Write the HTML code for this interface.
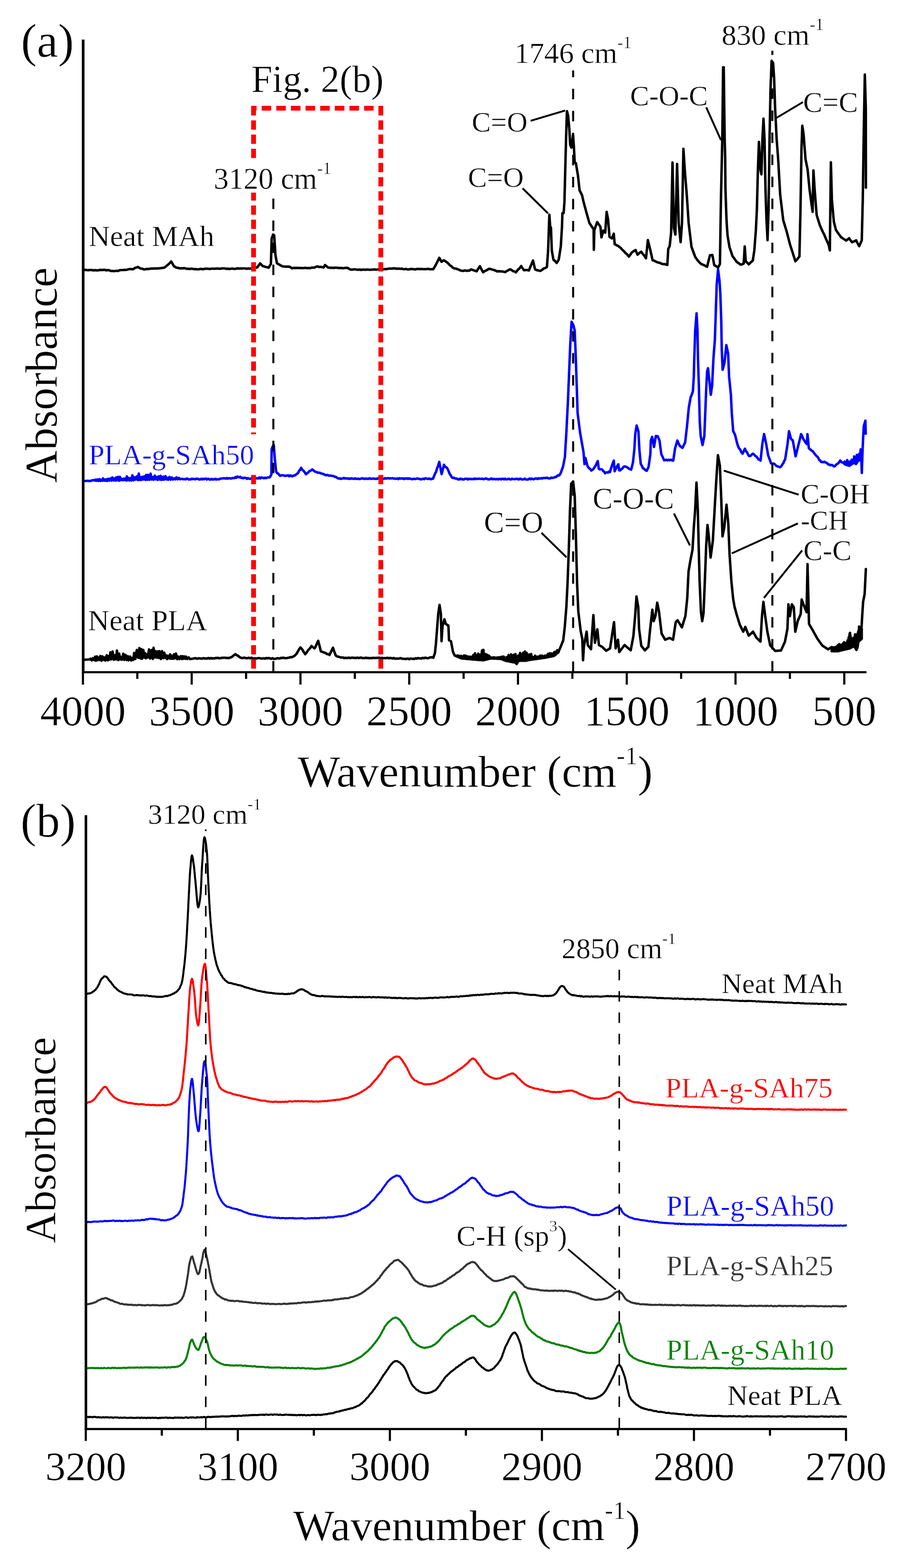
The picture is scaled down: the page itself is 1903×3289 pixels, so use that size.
<!DOCTYPE html>
<html><head><meta charset="utf-8"><title>FTIR spectra</title>
<style>html,body{margin:0;padding:0;background:#fff;} svg{display:block;} text{font-family:"Liberation Serif", "Times New Roman", serif; stroke:#fff; stroke-width:0.6px; stroke-linejoin:round;}</style>
</head><body>
<svg width="1903" height="3289" viewBox="0 0 1903 3289">
<rect x="0" y="0" width="1903" height="3289" fill="#fff"/>
<polyline points="176.0,565.9 179.0,566.1 182.0,566.5 185.0,566.9 188.0,566.3 191.0,566.3 194.0,566.6 197.0,567.2 200.0,566.6 203.3,567.1 206.7,566.9 210.0,566.1 213.3,566.4 216.7,566.1 220.0,565.9 223.1,567.1 226.2,566.5 229.3,566.9 232.4,568.5 235.5,568.4 238.6,568.6 241.7,568.4 244.7,568.0 247.8,568.3 250.8,566.9 253.9,566.5 256.9,566.5 260.0,566.1 263.3,566.2 266.7,565.7 270.0,564.8 273.3,564.3 276.7,564.7 280.0,564.6 283.1,561.9 286.2,561.3 289.3,559.9 295.0,563.2 298.4,563.6 301.7,565.2 304.8,564.9 308.0,564.0 311.1,564.4 314.3,563.7 317.4,563.2 320.6,563.4 323.7,563.2 326.9,563.1 330.0,563.2 333.1,562.9 336.2,562.6 339.4,562.2 342.5,561.8 345.6,561.0 348.8,558.1 352.0,555.6 355.6,552.3 359.3,548.5 364.8,558.2 370.3,561.5 373.4,561.8 376.5,562.9 379.6,562.7 382.7,563.0 385.8,562.4 388.9,563.0 392.0,563.8 395.2,563.7 398.3,564.3 401.4,563.5 404.5,564.0 407.6,564.6 410.7,564.4 413.8,565.0 416.9,564.9 419.9,564.2 423.0,564.0 426.0,564.9 429.1,563.8 432.1,563.7 435.2,563.7 438.2,564.0 441.3,564.1 444.3,563.5 447.4,563.5 450.4,563.8 453.5,563.2 456.5,563.3 459.6,563.6 462.6,563.7 465.7,562.9 468.7,563.0 471.8,563.1 474.8,563.8 477.9,563.7 480.9,564.1 484.0,563.8 487.0,563.2 490.1,563.8 493.1,564.1 496.2,563.3 499.2,562.9 502.3,563.4 505.3,563.2 508.4,563.1 511.4,563.0 514.5,563.0 517.5,563.9 520.6,563.0 523.6,563.6 526.7,563.1 530.0,562.5 533.4,562.6 536.7,561.4 540.0,560.6 545.9,552.4 551.3,558.2 554.4,558.9 557.5,560.2 560.6,560.5 563.7,561.5 568.4,553.6 570.0,500.3 573.1,492.0 575.3,493.6 577.9,534.6 581.0,552.3 584.2,554.1 587.3,555.8 590.5,557.8 593.6,558.8 596.8,559.0 599.9,559.4 603.1,559.2 606.2,559.3 609.4,560.4 612.6,562.8 615.8,561.9 618.9,562.2 622.1,561.9 625.2,562.1 628.4,562.0 631.5,562.1 634.7,562.4 637.8,562.2 641.0,561.8 644.1,562.4 647.3,562.3 650.4,562.4 653.6,561.4 656.8,561.4 659.9,561.1 663.1,559.6 666.2,558.8 669.4,560.0 672.5,559.8 675.6,560.3 678.8,561.2 682.0,555.9 685.1,558.4 688.3,561.2 691.5,561.4 694.6,561.9 697.8,561.5 700.9,562.1 704.1,561.3 707.2,561.6 710.4,562.1 713.5,562.0 716.7,562.1 719.8,562.7 723.0,562.0 726.1,561.9 729.3,561.8 732.5,564.0 735.6,565.4 738.8,565.6 741.9,565.0 745.1,565.0 748.2,565.5 751.4,565.9 754.5,565.4 757.7,566.1 760.8,565.7 764.0,565.5 767.2,565.9 770.3,565.3 773.5,565.7 776.6,566.0 779.8,565.6 782.9,565.4 786.1,565.1 789.2,565.7 792.4,565.2 795.5,565.2 798.7,565.1 801.9,565.3 805.0,564.8 808.1,564.3 811.3,564.5 814.4,563.6 817.6,563.4 820.8,563.5 823.9,563.1 827.1,562.8 830.2,563.2 833.4,563.9 836.5,563.3 839.7,564.0 842.9,563.4 846.0,564.7 849.2,564.5 852.3,564.2 855.5,565.2 858.7,565.0 861.8,564.1 865.0,564.3 868.1,564.6 871.3,565.2 874.4,564.2 877.6,564.1 880.7,564.4 883.9,564.1 887.0,564.5 890.2,564.6 893.3,564.5 896.5,564.2 899.6,564.0 902.8,565.0 905.9,564.5 909.1,564.6 913.8,556.7 917.8,548.7 921.7,540.8 926.4,549.2 931.2,546.0 934.4,547.9 937.5,550.0 940.6,552.7 943.8,556.4 947.0,558.2 950.1,561.6 953.2,563.0 956.4,563.4 959.5,564.5 962.7,565.6 965.9,567.3 969.0,568.0 972.2,568.2 975.3,567.2 978.5,568.1 981.6,567.7 984.8,567.7 988.0,565.0 991.0,565.9 994.0,567.1 997.0,568.0 1000.0,569.2 1003.5,563.5 1006.9,558.5 1010.3,565.1 1013.7,571.1 1016.7,568.8 1019.7,567.5 1022.7,565.9 1025.7,563.9 1029.1,564.1 1032.6,565.4 1036.0,566.3 1039.5,567.5 1042.9,569.3 1046.3,568.9 1049.7,569.2 1053.2,569.4 1056.6,570.0 1060.0,570.6 1063.4,568.5 1066.9,566.6 1070.3,564.9 1073.3,566.4 1076.3,568.7 1079.3,569.3 1082.3,571.5 1086.0,566.5 1089.8,563.0 1093.5,558.1 1096.5,563.0 1099.5,566.8 1102.9,566.4 1106.3,566.4 1109.7,567.3 1114.0,556.7 1118.3,546.4 1122.6,565.0 1126.3,566.6 1130.0,567.5 1133.7,568.2 1137.2,566.2 1140.6,563.3 1144.0,562.2 1147.5,560.1 1150.0,525.8 1152.6,450.3 1154.3,474.4 1156.0,477.8 1157.8,525.8 1161.2,544.9 1164.6,547.6 1168.0,551.7 1172.3,544.6 1176.6,517.2 1179.2,474.3 1180.0,447.0 1182.6,446.9 1184.3,422.9 1186.0,354.3 1187.8,285.7 1189.5,233.0 1192.0,242.9 1194.6,272.0 1196.3,303.4 1198.9,309.7 1202.3,282.3 1204.0,306.3 1205.8,340.7 1208.3,342.3 1212.6,368.0 1216.0,399.0 1221.2,409.5 1224.6,424.3 1229.8,443.6 1233.2,455.8 1236.6,467.6 1240.0,472.7 1243.5,478.2 1245.5,480.0 1246.0,524.0 1247.0,482.6 1252.9,465.9 1256.4,470.7 1259.9,476.2 1261.9,498.1 1265.9,483.7 1269.8,488.1 1272.8,444.4 1275.8,460.3 1278.8,496.7 1283.8,500.0 1287.7,490.1 1289.7,512.0 1293.7,514.4 1297.7,516.4 1301.7,519.5 1305.6,523.9 1309.6,527.5 1312.9,531.2 1316.3,534.1 1319.6,538.3 1325.5,529.7 1329.5,526.8 1333.5,524.4 1337.5,534.3 1341.5,530.7 1345.4,527.9 1348.7,532.7 1352.1,536.8 1355.4,541.8 1359.3,503.6 1364.3,523.9 1369.3,546.2 1372.6,546.7 1375.9,548.7 1379.2,550.1 1382.2,550.9 1385.2,551.6 1388.2,553.2 1391.2,554.0 1395.7,554.2 1400.1,555.7 1402.1,522.4 1405.1,516.0 1408.1,488.1 1411.0,340.9 1414.0,478.4 1417.0,492.1 1420.6,343.9 1424.0,468.2 1428.0,508.0 1430.9,468.2 1433.9,312.1 1436.9,358.8 1440.9,408.6 1444.9,468.2 1450.8,517.6 1454.8,528.5 1458.8,539.3 1462.8,544.8 1466.7,549.5 1470.7,553.5 1473.9,554.8 1477.2,556.2 1480.4,558.1 1483.6,559.5 1486.6,547.2 1489.6,535.6 1494.6,534.8 1498.6,556.1 1502.5,558.2 1506.5,561.6 1510.5,553.7 1512.5,424.5 1515.5,289.2 1517.2,141.0 1518.5,141.0 1520.4,289.2 1521.5,330.0 1522.1,397.7 1524.3,461.5 1526.4,493.4 1530.6,518.5 1533.8,527.9 1537.0,537.5 1541.2,542.9 1545.5,549.2 1549.8,552.2 1554.0,555.2 1557.2,554.4 1560.4,552.9 1562.5,516.8 1564.7,548.4 1567.8,551.0 1571.0,554.4 1575.2,550.4 1579.5,546.5 1582.7,525.3 1585.9,482.7 1588.0,440.2 1590.2,355.2 1592.3,297.7 1595.5,355.7 1597.6,365.8 1599.7,291.4 1601.9,248.8 1604.0,291.4 1606.1,397.7 1608.2,461.5 1610.4,504.0 1612.5,440.2 1614.6,291.4 1616.7,185.0 1618.9,127.4 1622.1,131.9 1624.2,163.8 1626.3,227.6 1629.5,291.4 1632.7,333.9 1636.9,408.3 1643.3,461.4 1646.5,472.4 1649.7,482.7 1658.2,515.1 1661.7,525.5 1665.3,537.0 1668.8,548.0 1673.0,543.4 1677.3,538.0 1679.5,440.2 1681.6,312.6 1683.3,263.7 1685.9,280.7 1690.1,333.9 1694.4,355.2 1698.6,397.7 1702.9,429.6 1705.0,444.5 1706.7,357.3 1709.2,397.7 1713.5,451.3 1716.7,461.5 1719.9,471.7 1723.1,479.2 1726.2,486.1 1729.4,492.3 1732.6,500.2 1735.8,507.3 1739.0,514.6 1741.1,525.3 1743.3,340.3 1745.4,418.9 1749.6,465.5 1753.9,482.3 1757.4,487.6 1761.0,492.5 1764.5,497.3 1768.1,499.9 1771.6,502.1 1775.2,504.5 1778.3,502.4 1781.5,499.7 1784.7,504.3 1787.9,508.2 1792.2,506.1 1796.4,504.1 1799.6,511.0 1802.8,516.3 1808.1,504.0 1810.2,418.9 1812.4,270.1 1814.5,156.3 1816.6,227.6 1816.8,393.4" fill="none" stroke="#000000" stroke-width="5.2" stroke-linejoin="round" stroke-linecap="round"/>
<polyline points="176.0,1008.5 179.5,1009.0 183.0,1008.5 186.5,1008.8 190.0,1008.8 193.3,1007.5 196.7,1007.2 200.0,1008.0 200.0,1006.1 202.1,1008.4 204.0,1005.7 206.2,1008.8 208.2,1005.0 210.7,1008.8 212.4,1006.5 214.8,1008.3 216.1,1003.4 218.9,1008.2 221.0,1005.7 222.3,1008.3 223.6,1005.4 225.2,1008.7 227.1,1004.1 229.6,1008.1 231.9,1003.5 234.1,1008.1 235.8,1001.4 238.6,1007.6 240.9,1003.6 242.5,1008.1 243.8,1001.5 245.6,1007.4 247.4,1000.4 250.0,1008.4 251.5,1000.2 253.5,1007.1 255.3,1004.3 257.5,1007.2 259.2,1004.0 260.9,1006.9 263.3,1003.4 264.9,1008.0 266.2,999.2 267.7,1007.3 269.6,1002.4 272.0,1007.9 274.2,1002.7 276.1,1007.7 277.7,996.9 280.2,1007.5 282.8,1001.2 284.6,1006.1 286.9,999.3 289.6,1007.0 291.2,993.4 293.0,1006.7 294.3,1000.9 296.4,1006.7 298.6,1000.2 300.5,1005.7 302.5,999.2 305.1,1006.6 306.5,996.3 309.0,1006.4 310.5,996.0 313.2,1006.4 316.0,993.5 318.1,1005.8 319.5,1000.5 322.2,1006.2 324.6,997.6 327.1,1005.5 328.7,1000.7 331.1,1006.5 332.7,999.3 335.2,1005.7 336.9,998.0 338.4,1006.5 340.0,1000.4 341.3,1006.2 343.1,1000.0 344.5,1006.0 347.2,998.8 349.4,1005.6 351.5,1002.6 352.8,1006.3 355.5,1000.4 358.2,1006.2 360.4,1001.4 362.8,1005.9 365.6,1003.4 367.7,1005.5 370.3,1001.2 372.6,1005.4 375.3,1002.6 377.6,1005.3 380.0,1004.3 382.0,1004.6 384.0,1004.8 386.0,1005.3 388.0,1004.9 390.0,1005.4 392.0,1003.6 394.0,1004.6 396.0,1005.8 398.0,1005.2 400.0,1005.9 402.0,1004.1 404.0,1004.9 406.0,1004.4 408.0,1005.1 410.0,1005.2 412.0,1003.9 414.0,1004.4 416.0,1004.5 418.0,1005.9 420.0,1005.6 422.0,1004.3 424.0,1005.7 426.0,1004.2 428.0,1005.3 430.0,1004.2 432.0,1003.9 434.0,1005.8 436.0,1004.4 438.0,1004.4 440.0,1006.1 442.0,1005.8 444.0,1004.5 446.0,1006.0 448.0,1005.1 450.0,1005.4 452.0,1004.3 454.0,1005.8 456.0,1005.1 458.0,1005.6 460.0,1005.4 462.0,1004.0 464.0,1004.0 466.0,1003.5 468.0,1003.3 470.0,1003.0 472.0,1003.5 474.0,1004.0 476.0,1002.6 478.0,1004.0 480.0,1003.1 482.0,1003.0 484.0,1004.0 486.0,1003.2 488.0,1002.7 490.0,1003.0 492.0,1002.9 494.0,1000.8 496.0,1002.2 498.0,999.6 500.0,1000.5 502.0,1001.4 504.0,1000.1 506.0,1002.4 508.0,1002.1 510.0,1003.2 512.0,1002.0 514.0,1002.2 516.0,1002.6 518.0,1004.4 520.0,1002.8 522.0,1004.0 524.0,1004.3 526.0,1004.3 528.0,1002.9 530.0,1002.8 532.0,1003.1 534.0,1003.6 536.0,1002.0 538.0,1003.4 540.0,1003.4 542.0,1003.5 544.1,1001.6 546.1,1003.5 548.1,1001.6 550.1,1002.0 552.1,1002.6 554.1,1003.2 556.1,1001.8 558.1,1003.0 560.1,1002.1 562.1,1001.5 564.1,1001.5 566.1,1001.1 569.4,995.2 570.0,941.7 572.1,936.9 574.3,932.7 576.6,962.3 579.3,989.0 581.5,992.5 583.6,993.4 585.8,995.9 587.9,998.1 590.0,997.2 592.2,997.0 594.3,996.8 596.4,997.7 598.5,998.3 600.6,997.6 602.8,997.6 604.9,997.0 607.0,999.0 609.1,997.1 611.3,998.3 613.4,999.1 615.5,997.7 618.0,997.4 620.4,996.2 622.8,993.8 625.3,992.5 627.5,987.8 629.7,985.2 631.9,981.3 634.4,985.7 636.8,987.4 639.3,990.6 641.8,994.7 644.0,992.9 646.2,991.7 648.4,989.0 650.6,987.6 652.8,986.7 655.0,984.7 657.2,986.1 659.4,988.2 661.6,989.5 663.8,990.0 665.9,991.4 668.1,991.3 670.6,991.8 673.0,992.7 675.5,993.6 678.0,994.3 680.2,995.0 682.4,996.4 684.6,996.9 686.8,996.1 689.0,997.3 691.2,997.6 693.4,997.7 695.6,998.0 697.8,998.5 700.0,998.5 702.2,1000.2 704.3,1000.2 706.5,1001.6 708.7,1003.2 710.9,1003.9 712.9,1003.1 714.9,1004.5 716.9,1003.9 719.0,1003.7 721.0,1002.5 723.0,1003.7 725.0,1003.0 727.0,1004.0 729.0,1003.5 731.1,1004.3 733.1,1003.9 735.1,1004.3 737.1,1003.3 739.1,1003.9 741.1,1004.2 743.2,1004.4 745.2,1003.3 747.2,1004.4 749.2,1004.5 751.2,1004.1 753.2,1004.7 755.3,1004.7 757.3,1003.8 759.3,1003.8 761.3,1003.0 763.3,1004.5 765.3,1004.7 767.4,1003.7 769.4,1004.2 771.4,1004.3 773.4,1004.3 775.4,1003.1 777.4,1004.4 779.5,1004.0 781.5,1004.2 783.5,1003.7 785.5,1004.1 787.5,1004.5 789.5,1004.2 791.6,1004.4 793.6,1002.8 795.6,1003.1 797.6,1003.8 799.6,1004.2 801.6,1003.3 803.7,1004.3 805.7,1004.2 807.7,1002.9 809.7,1003.9 811.7,1003.4 813.7,1003.0 815.7,1003.2 817.8,1003.6 819.8,1003.3 821.8,1003.3 823.8,1003.0 825.8,1003.9 827.8,1003.8 829.9,1004.3 831.9,1004.2 833.9,1003.5 835.9,1005.0 837.9,1003.0 839.9,1003.9 842.0,1003.6 844.0,1003.9 846.0,1003.3 848.0,1004.9 850.0,1003.9 852.0,1003.1 854.1,1004.4 856.1,1003.3 858.1,1004.3 860.1,1003.8 862.1,1004.4 864.1,1005.2 866.2,1004.9 868.2,1004.0 870.2,1004.9 872.2,1004.5 874.2,1004.0 876.2,1003.5 878.3,1004.5 880.3,1004.4 882.3,1005.3 884.3,1005.3 886.3,1004.5 888.3,1004.0 890.4,1005.2 892.4,1003.2 894.4,1003.5 896.4,1004.5 898.4,1004.6 900.4,1003.6 902.5,1004.7 904.5,1005.2 906.5,1004.1 908.5,1004.2 910.7,998.5 912.8,993.4 915.0,989.6 917.2,981.8 919.4,976.5 921.6,968.9 926.6,994.5 929.0,984.8 931.5,975.0 933.7,978.8 935.9,979.9 938.1,981.9 940.6,986.6 943.0,993.0 945.5,996.9 948.0,1001.3 950.2,1002.3 952.4,1002.1 954.6,1003.7 956.8,1003.9 959.0,1004.1 961.2,1005.7 963.2,1005.8 965.3,1004.0 967.3,1005.1 969.4,1004.5 971.4,1005.9 973.5,1005.5 975.5,1004.3 977.5,1004.3 979.6,1004.0 981.6,1005.8 983.7,1004.2 985.7,1004.9 987.7,1004.6 989.8,1004.9 991.8,1004.8 993.9,1005.0 995.9,1003.6 998.0,1005.0 1000.0,1004.0 1002.1,1004.5 1004.1,1004.1 1006.2,1004.0 1008.2,1004.5 1010.3,1004.4 1012.4,1004.2 1014.4,1005.1 1016.5,1004.8 1018.5,1003.6 1020.6,1004.1 1022.7,1004.5 1024.7,1005.6 1026.8,1005.5 1028.8,1004.8 1030.9,1003.6 1033.0,1005.3 1035.0,1004.6 1037.1,1004.9 1039.1,1005.2 1041.2,1005.1 1043.3,1004.8 1045.3,1005.7 1047.4,1004.6 1049.4,1004.6 1051.5,1005.6 1053.6,1004.2 1055.6,1004.4 1057.7,1005.6 1059.7,1003.9 1061.8,1005.6 1063.9,1005.3 1065.9,1004.7 1068.0,1004.4 1070.0,1005.5 1072.1,1005.8 1074.2,1004.1 1076.2,1004.9 1078.3,1005.0 1080.3,1004.9 1082.4,1004.6 1084.5,1004.2 1086.5,1005.1 1088.6,1005.6 1090.6,1004.0 1092.7,1004.4 1094.8,1005.7 1096.8,1005.6 1098.9,1005.3 1100.9,1003.9 1103.0,1005.5 1105.1,1006.0 1107.1,1005.9 1109.2,1005.2 1111.2,1003.7 1113.3,1005.3 1115.3,1003.9 1117.4,1004.7 1119.4,1005.3 1121.5,1004.7 1123.6,1003.4 1125.6,1003.6 1127.7,1004.9 1129.7,1003.1 1131.8,1004.1 1133.8,1003.6 1135.9,1002.9 1137.9,1003.9 1140.0,1002.5 1142.0,1002.5 1144.1,1003.0 1146.2,1002.3 1148.2,1002.1 1150.2,1003.2 1152.3,1003.4 1154.3,1003.6 1156.4,1001.9 1158.5,1002.4 1160.5,1002.1 1162.6,1001.8 1164.6,1000.6 1166.7,1000.7 1168.7,998.5 1170.8,996.9 1172.8,997.4 1174.9,995.2 1177.0,990.8 1179.0,985.0 1181.1,979.5 1185.2,958.9 1188.3,907.5 1191.4,845.8 1194.4,773.7 1196.5,722.3 1199.2,674.8 1202.7,681.3 1205.8,693.5 1207.8,742.9 1209.9,804.6 1211.9,866.3 1217.1,907.5 1224.3,948.6 1226.3,973.6 1228.4,960.5 1230.5,969.3 1232.5,976.9 1234.5,980.5 1236.6,982.6 1238.7,984.3 1240.7,987.1 1242.8,985.4 1244.8,984.2 1246.9,980.9 1249.3,977.3 1251.7,972.3 1254.1,967.2 1256.2,982.7 1258.6,984.7 1261.0,984.1 1263.4,984.9 1265.4,988.0 1267.5,989.3 1269.5,992.7 1271.6,991.4 1273.6,990.7 1275.7,991.3 1277.7,989.2 1279.8,990.3 1282.4,981.0 1285.1,973.4 1287.7,966.3 1289.6,988.5 1292.2,983.4 1294.7,977.9 1297.3,974.0 1299.2,986.7 1301.5,986.6 1303.8,984.0 1306.1,982.4 1308.4,979.0 1310.7,978.2 1313.0,978.9 1315.2,979.9 1317.5,981.4 1319.7,983.3 1322.0,984.0 1324.2,985.3 1328.0,970.2 1330.9,943.3 1332.8,910.7 1335.7,892.6 1339.5,904.9 1341.5,943.3 1344.3,972.8 1346.7,977.2 1349.1,982.4 1351.7,983.5 1354.2,986.3 1356.8,987.5 1360.7,979.8 1364.5,952.9 1365.5,924.3 1368.3,916.4 1372.2,937.5 1376.0,914.7 1379.9,915.0 1383.7,924.1 1387.5,952.7 1390.4,958.7 1393.3,965.3 1395.7,965.2 1398.1,964.3 1400.5,965.7 1402.9,964.4 1405.3,965.4 1407.7,964.3 1410.1,965.8 1412.5,966.3 1416.4,940.4 1418.8,932.1 1421.2,923.9 1423.6,929.8 1426.0,934.7 1428.8,937.2 1431.7,939.6 1434.6,933.9 1437.5,928.0 1441.3,895.3 1445.2,855.0 1449.0,833.5 1451.4,827.9 1453.8,820.4 1455.7,789.7 1456.7,751.3 1458.6,693.6 1461.5,657.2 1463.4,693.6 1464.4,751.3 1466.3,808.9 1468.2,885.7 1470.1,914.5 1474.0,933.7 1477.8,914.5 1479.7,866.5 1481.6,818.5 1483.6,779.3 1485.5,772.4 1488.4,799.3 1491.3,828.1 1494.1,808.9 1496.9,751.3 1499.9,712.8 1501.8,655.2 1503.7,597.6 1506.6,565.0 1509.5,588.0 1511.4,616.8 1513.3,674.4 1514.3,732.0 1516.2,775.7 1520.0,760.9 1523.9,723.9 1527.7,741.7 1529.7,789.7 1533.5,828.1 1535.4,866.5 1538.3,904.2 1542.0,911.5 1544.0,919.2 1546.0,927.6 1548.0,934.4 1550.5,940.3 1553.0,943.1 1555.4,948.3 1557.9,951.7 1560.4,946.7 1562.9,941.2 1565.1,946.3 1567.3,948.4 1569.6,953.6 1571.8,956.7 1573.8,956.4 1575.8,955.3 1577.8,952.8 1579.8,951.6 1582.3,953.5 1584.8,956.2 1587.2,958.0 1589.7,961.0 1591.7,963.9 1593.7,964.2 1595.7,966.2 1599.7,929.4 1603.2,910.5 1607.6,931.4 1611.6,954.8 1613.6,960.5 1615.6,965.4 1617.6,971.7 1620.5,972.6 1623.5,972.4 1625.5,973.7 1627.5,975.9 1629.5,977.7 1631.5,978.2 1633.5,978.9 1636.5,980.1 1639.4,978.0 1641.4,974.2 1643.4,971.8 1645.4,967.0 1647.4,963.2 1652.4,931.4 1655.4,904.5 1659.3,919.5 1661.3,922.5 1663.3,923.4 1669.3,957.2 1675.2,933.4 1678.0,922.1 1680.8,910.6 1682.9,914.5 1685.1,920.3 1687.2,923.4 1690.2,928.4 1693.1,931.4 1694.1,910.5 1697.1,940.3 1699.1,942.2 1701.1,943.3 1703.1,945.6 1705.1,946.3 1707.6,949.7 1710.0,953.0 1712.5,955.8 1715.0,958.2 1717.0,960.7 1719.0,965.2 1721.0,966.0 1723.0,969.2 1725.3,969.1 1727.7,969.5 1730.0,968.6 1732.1,970.1 1734.1,970.6 1736.2,972.5 1738.2,974.3 1740.3,974.5 1742.4,975.9 1744.4,975.3 1746.5,975.7 1748.5,977.7 1750.6,978.4 1752.9,976.5 1755.3,973.9 1757.7,972.4 1760.0,970.5 1762.9,965.9 1766.0,969.6 1768.6,970.6 1771.2,971.5 1772.0,968.1 1773.6,973.5 1774.6,971.0 1775.8,974.7 1777.6,965.1 1779.1,975.0 1780.7,968.9 1782.0,976.6 1783.9,969.0 1785.6,974.5 1787.2,964.2 1788.5,971.0 1789.4,966.1 1791.3,970.0 1792.2,957.4 1794.1,971.7 1795.4,963.2 1796.6,971.7 1797.6,954.4 1798.5,968.2 1800.3,954.1 1801.6,964.5 1803.0,951.9 1803.8,963.3 1805.8,942.5 1807.0,955.0 1808.2,992.1 1809.6,948.9 1811.0,918.0 1812.3,894.0 1815.7,882.3 1816.4,909.8" fill="none" stroke="#0000ff" stroke-width="5.2" stroke-linejoin="round" stroke-linecap="round"/>
<polygon points="1772.0,970.0 1774.0,969.8 1776.0,969.6 1778.0,969.4 1780.0,969.2 1782.0,969.0 1784.0,968.0 1786.0,967.0 1788.0,966.0 1790.0,965.0 1792.0,964.0 1794.0,963.6 1796.0,963.3 1798.0,960.8 1800.0,957.8 1802.0,956.4 1804.0,954.9 1806.0,953.5 1806.0,953.5 1806.0,965.0 1806.0,965.0 1804.0,965.6 1802.0,966.1 1800.0,966.7 1798.0,970.5 1796.0,973.3 1794.0,971.9 1792.0,970.5 1790.0,971.8 1788.0,973.1 1786.0,974.4 1784.0,975.7 1782.0,977.0 1780.0,976.4 1778.0,975.8 1776.0,975.2 1774.0,974.6 1772.0,974.0" fill="#0000ff" stroke="#0000ff" stroke-width="5.2" stroke-linejoin="round"/>
<polyline points="176.0,1384.0 190.0,1383.0 190.0,1381.7 192.5,1385.2 194.7,1380.5 197.4,1384.7 199.6,1377.5 201.4,1386.0 203.3,1376.9 204.8,1384.7 206.5,1379.5 207.9,1384.4 210.5,1375.9 212.9,1385.9 214.8,1376.7 216.4,1384.2 218.3,1378.8 221.1,1385.7 224.0,1374.4 226.3,1385.1 228.5,1376.1 229.9,1383.6 231.6,1368.4 233.3,1383.0 236.2,1366.6 238.9,1384.0 241.5,1374.3 243.6,1383.2 245.3,1364.6 248.2,1384.7 250.1,1371.1 252.1,1383.0 254.1,1378.3 255.6,1383.9 258.7,1371.1 260.9,1384.3 263.5,1373.7 265.9,1384.4 268.3,1376.4 269.9,1385.2 272.9,1377.2 275.3,1385.4 276.8,1380.1 279.5,1384.2 281.5,1369.6 284.0,1382.3 287.0,1363.4 290.1,1379.8 292.4,1359.4 294.6,1381.1 296.4,1361.3 298.0,1381.8 300.7,1363.3 302.9,1379.5 304.3,1369.9 306.1,1380.8 307.7,1372.7 309.7,1379.2 312.7,1362.2 314.9,1381.3 317.9,1363.4 320.5,1382.1 322.2,1358.5 324.9,1379.1 327.3,1366.0 329.6,1379.5 331.5,1366.3 333.3,1380.1 334.6,1365.8 337.6,1382.3 340.0,1365.8 342.8,1380.7 344.6,1369.0 347.6,1380.1 349.1,1374.8 350.6,1382.5 352.7,1375.5 355.6,1381.3 357.1,1372.5 359.0,1381.6 360.7,1375.6 362.4,1381.9 364.9,1372.4 366.3,1381.3 369.2,1370.9 371.9,1382.7 374.0,1377.2 376.7,1382.5 379.3,1376.5 381.8,1382.4 383.2,1376.5 385.1,1381.7 386.9,1376.9 389.2,1381.9 390.7,1377.5 392.9,1382.2 395.9,1378.9 398.5,1382.5 405.0,1381.5 408.0,1380.8 410.9,1380.7 413.9,1381.7 416.9,1380.7 419.4,1381.2 422.0,1381.3 424.5,1381.3 427.0,1380.5 429.6,1381.3 432.1,1381.0 434.6,1381.5 437.2,1380.1 439.7,1381.6 442.2,1380.3 444.8,1381.3 447.3,1380.7 449.9,1381.2 452.4,1380.1 454.9,1380.3 457.5,1379.8 460.0,1380.9 462.5,1380.5 465.1,1379.9 467.6,1379.8 470.1,1379.6 472.7,1379.7 475.2,1380.2 477.7,1380.0 480.3,1380.4 482.8,1379.3 485.5,1378.5 488.2,1376.6 491.0,1374.2 493.7,1372.1 496.4,1374.3 499.2,1375.2 501.9,1377.9 504.7,1379.3 507.2,1380.5 509.8,1380.1 512.3,1379.5 514.8,1380.1 517.4,1380.6 519.9,1380.3 522.4,1379.7 524.9,1381.0 527.5,1379.7 530.0,1380.9 532.6,1381.2 535.2,1380.9 537.8,1381.3 540.4,1380.7 543.0,1380.2 545.6,1380.7 548.2,1381.1 550.8,1381.3 553.4,1380.7 556.0,1381.6 558.6,1380.2 561.2,1381.0 563.8,1380.3 566.4,1380.9 569.0,1382.0 571.6,1380.6 574.2,1382.1 576.8,1382.0 579.4,1381.7 581.9,1380.5 584.5,1381.0 587.0,1381.1 589.5,1380.0 592.1,1380.1 594.6,1379.5 597.1,1380.5 599.6,1380.5 602.2,1380.3 604.7,1379.8 607.2,1379.3 609.8,1378.3 612.3,1378.8 615.6,1377.0 618.9,1374.8 622.2,1371.4 624.9,1366.5 627.7,1361.7 630.4,1358.1 633.7,1361.7 637.0,1367.1 640.3,1372.2 642.9,1369.5 645.6,1365.0 648.2,1361.9 650.9,1359.4 653.5,1355.0 656.8,1357.7 660.0,1359.9 662.5,1355.9 665.1,1349.3 667.6,1344.2 670.4,1354.7 673.2,1366.4 675.8,1367.1 678.4,1368.1 681.0,1369.1 683.5,1369.9 686.1,1372.0 688.7,1372.0 691.3,1374.0 695.0,1366.1 698.6,1358.6 701.5,1367.2 704.5,1375.0 707.8,1377.1 711.1,1377.7 714.4,1379.0 716.9,1379.2 719.5,1379.1 722.0,1380.4 724.6,1379.8 727.1,1380.1 729.7,1380.2 732.2,1379.3 734.8,1380.5 737.3,1379.6 739.9,1379.7 742.4,1379.8 745.0,1380.1 747.5,1380.2 750.1,1379.3 752.6,1380.3 755.2,1379.7 757.7,1379.4 760.3,1380.4 762.8,1380.4 765.4,1380.4 767.9,1379.5 770.5,1380.5 773.0,1380.2 775.6,1380.6 778.1,1380.2 780.7,1380.6 783.2,1379.8 785.8,1380.2 788.3,1380.2 790.9,1379.8 793.4,1379.8 795.9,1379.7 798.5,1380.6 801.0,1379.9 803.5,1380.5 806.1,1380.3 808.6,1380.7 811.1,1380.1 813.6,1379.8 816.2,1380.9 818.7,1380.1 821.2,1380.5 823.8,1381.3 826.3,1380.2 828.8,1381.7 831.4,1381.3 833.9,1381.3 836.4,1381.6 839.0,1380.7 841.5,1380.7 844.0,1381.9 846.5,1381.8 849.1,1382.0 851.6,1382.4 854.1,1381.6 856.7,1381.5 859.2,1382.9 861.7,1381.3 864.2,1381.8 866.7,1381.9 869.2,1382.3 871.7,1380.7 874.2,1381.6 876.7,1380.4 879.2,1380.9 881.7,1381.0 884.2,1381.3 886.7,1379.8 889.2,1380.8 891.7,1379.7 894.2,1380.0 896.7,1380.8 899.2,1380.4 901.7,1379.0 904.2,1378.8 906.7,1378.7 909.2,1379.7 912.6,1369.7 914.7,1349.2 917.4,1314.9 919.5,1287.4 922.2,1268.9 925.0,1287.4 926.4,1345.0 928.4,1314.2 932.5,1298.9 935.3,1308.5 938.0,1310.6 940.8,1312.1 942.1,1343.0 946.2,1345.0 950.4,1367.2 953.0,1373.0 954.0,1374.5 955.2,1375.5 957.6,1375.5 958.8,1376.8 960.3,1374.9 961.6,1377.8 963.1,1375.6 965.3,1379.4 967.6,1375.8 968.7,1380.3 970.5,1377.1 971.8,1380.5 973.6,1374.8 975.7,1380.6 977.5,1375.4 979.3,1381.7 981.7,1377.0 983.7,1381.1 985.6,1377.6 987.8,1381.7 989.1,1378.2 990.8,1383.0 993.1,1373.9 994.8,1382.6 996.7,1370.4 998.2,1382.9 1000.0,1374.7 1001.8,1382.8 1003.4,1371.1 1005.1,1384.1 1007.5,1373.2 1009.1,1383.5 1011.4,1364.4 1013.1,1383.6 1014.3,1363.0 1015.5,1382.9 1017.0,1372.0 1018.5,1383.4 1019.6,1372.1 1021.7,1381.9 1023.0,1373.8 1024.1,1381.9 1026.2,1375.4 1027.9,1380.9 1029.6,1378.8 1031.4,1380.7 1033.4,1379.2 1035.4,1381.0 1036.9,1378.8 1039.1,1381.1 1041.4,1379.9 1043.1,1381.2 1044.6,1379.0 1046.5,1381.4 1047.9,1379.3 1050.2,1381.6 1051.4,1378.0 1052.8,1381.6 1054.1,1377.6 1055.2,1383.0 1056.5,1377.1 1058.5,1383.3 1060.7,1380.1 1062.2,1384.4 1063.3,1378.3 1065.0,1385.9 1067.0,1373.9 1068.7,1386.9 1070.0,1378.0 1071.1,1386.3 1072.3,1372.5 1074.2,1388.4 1075.9,1374.9 1077.0,1387.8 1078.1,1373.4 1079.1,1387.7 1081.5,1372.0 1082.8,1389.5 1084.0,1377.9 1086.2,1386.8 1087.2,1375.2 1089.1,1385.6 1091.2,1369.7 1093.0,1385.1 1095.2,1372.6 1096.5,1385.3 1097.7,1369.2 1099.4,1384.1 1101.5,1366.6 1102.8,1384.6 1105.0,1369.3 1106.6,1383.4 1107.9,1376.1 1108.9,1383.7 1110.3,1372.9 1112.6,1383.6 1114.4,1371.8 1116.2,1382.5 1118.3,1379.0 1120.6,1381.9 1122.7,1375.3 1123.9,1382.3 1125.1,1377.3 1127.4,1381.2 1129.0,1377.1 1131.0,1381.1 1133.4,1375.2 1135.4,1379.9 1137.5,1375.2 1139.0,1379.9 1140.3,1377.2 1142.6,1379.4 1143.6,1375.2 1144.8,1378.9 1146.3,1375.3 1147.9,1378.4 1149.4,1371.9 1150.9,1377.6 1153.1,1370.2 1154.6,1377.3 1156.9,1370.8 1158.2,1376.4 1159.6,1371.0 1160.8,1375.9 1163.2,1367.6 1164.3,1373.8 1166.5,1366.9 1167.6,1371.3 1169.1,1363.9 1170.9,1368.5 1175.0,1360.0 1181.7,1343.3 1185.0,1315.0 1188.3,1273.3 1190.8,1223.3 1193.3,1156.7 1195.8,1073.3 1198.3,1015.0 1202.5,1010.0 1205.8,1040.0 1208.3,1123.3 1210.8,1223.3 1213.3,1281.7 1218.3,1323.3 1221.7,1340.0 1223.3,1385.0 1225.0,1356.7 1230.8,1325.0 1233.3,1353.3 1240.0,1361.7 1245.0,1290.0 1248.3,1348.3 1253.3,1320.0 1256.7,1353.3 1263.3,1356.7 1271.7,1365.0 1280.0,1360.0 1288.3,1305.0 1291.7,1360.0 1296.5,1341.9 1299.3,1367.8 1310.4,1353.0 1323.3,1364.1 1328.9,1334.4 1332.6,1291.9 1335.4,1251.1 1339.1,1273.3 1340.9,1319.6 1345.6,1354.8 1353.0,1364.1 1360.4,1356.7 1364.1,1319.6 1368.7,1278.9 1371.5,1303.0 1375.2,1291.9 1378.9,1264.1 1382.6,1282.6 1388.1,1328.9 1395.6,1341.9 1404.8,1338.1 1412.2,1341.9 1417.8,1304.8 1421.5,1301.1 1430.7,1315.9 1438.1,1291.9 1441.9,1254.8 1444.6,1199.3 1448.3,1177.0 1453.0,1153.0 1455.7,1106.7 1458.5,1069.6 1461.3,1012.2 1464.1,1069.6 1465.9,1143.7 1467.8,1217.8 1470.6,1282.6 1473.3,1303.0 1476.1,1286.3 1478.9,1217.8 1481.7,1143.7 1484.4,1101.1 1487.2,1125.2 1490.9,1169.6 1495.6,1134.4 1499.3,1069.6 1503.0,1004.8 1506.3,954.8 1510.4,977.0 1513.1,1041.9 1515.9,1125.2 1519.6,1106.7 1524.3,1058.5 1528.0,1097.4 1530.7,1162.2 1534.4,1217.8 1538.1,1255.0 1541.0,1272.0 1545.6,1289.0 1552.3,1310.8 1559.5,1325.0 1563.7,1315.0 1570.9,1333.4 1580.0,1325.0 1587.0,1337.5 1595.6,1345.8 1598.6,1294.3 1601.7,1262.4 1605.8,1294.3 1610.0,1325.0 1616.1,1354.0 1626.4,1365.3 1638.8,1364.3 1647.0,1345.8 1652.1,1319.0 1654.2,1267.6 1657.3,1292.3 1661.4,1267.6 1665.5,1273.7 1668.6,1325.2 1673.7,1302.6 1680.0,1288.0 1682.0,1257.3 1688.1,1273.7 1692.3,1284.0 1694.3,1183.2 1697.4,1308.7 1704.6,1321.0 1714.9,1339.6 1725.2,1354.0 1737.5,1362.0 1745.0,1357.3 1746.9,1364.7 1747.8,1357.9 1749.2,1365.2 1750.1,1359.9 1751.5,1365.6 1752.8,1361.2 1753.8,1364.7 1755.1,1356.3 1756.7,1365.3 1757.6,1353.6 1759.1,1364.3 1760.7,1351.0 1761.9,1363.3 1763.2,1352.8 1764.8,1363.6 1765.7,1352.6 1767.3,1362.3 1768.7,1349.9 1769.7,1362.7 1770.9,1347.2 1772.0,1362.3 1772.9,1354.9 1774.1,1360.5 1775.8,1349.3 1777.1,1360.5 1778.3,1343.2 1779.7,1360.0 1780.7,1336.9 1782.3,1355.3 1783.4,1327.3 1785.3,1356.2 1787.2,1344.9 1789.1,1356.4 1790.4,1345.8 1792.2,1352.6 1794.1,1330.7 1796.0,1358.9 1798.0,1330.7 1799.2,1352.2 1800.4,1331.0 1801.4,1343.5 1802.4,1314.1 1804.3,1342.1 1805.3,1318.7 1806.3,1339.0 1809.1,1290.0 1811.0,1262.0 1814.1,1246.2 1816.7,1193.5" fill="none" stroke="#000000" stroke-width="5.2" stroke-linejoin="round" stroke-linecap="round"/>
<polygon points="954.0,1374.8 956.0,1375.3 958.0,1375.8 960.0,1376.3 962.0,1376.8 964.0,1377.3 966.0,1377.8 968.0,1378.3 970.0,1378.3 972.0,1378.4 974.0,1378.4 976.0,1378.4 978.0,1378.5 980.0,1378.5 982.0,1378.5 984.0,1378.4 986.0,1378.2 988.0,1378.1 990.0,1377.9 992.0,1377.7 994.0,1377.6 996.0,1377.4 998.0,1377.4 1000.0,1377.3 1002.0,1377.2 1004.0,1377.1 1006.0,1377.1 1008.0,1376.7 1010.0,1375.9 1012.0,1375.2 1014.0,1374.4 1016.0,1375.3 1018.0,1376.2 1020.0,1377.1 1022.0,1377.8 1024.0,1378.3 1026.0,1378.8 1028.0,1379.3 1030.0,1379.9 1032.0,1379.9 1034.0,1380.0 1036.0,1380.0 1038.0,1380.0 1040.0,1379.8 1042.0,1379.6 1044.0,1379.5 1046.0,1379.3 1048.0,1379.1 1050.0,1378.9 1052.0,1378.9 1054.0,1379.1 1056.0,1379.3 1058.0,1379.4 1060.0,1379.6 1062.0,1379.8 1064.0,1380.0 1066.0,1380.2 1068.0,1380.3 1070.0,1380.5 1072.0,1380.7 1074.0,1380.9 1076.0,1381.1 1078.0,1381.3 1080.0,1381.2 1082.0,1381.2 1084.0,1382.7 1086.0,1380.6 1088.0,1378.5 1090.0,1378.4 1092.0,1378.2 1094.0,1378.1 1096.0,1378.0 1098.0,1377.8 1100.0,1377.7 1102.0,1377.0 1104.0,1377.1 1106.0,1377.3 1108.0,1377.4 1110.0,1377.6 1112.0,1377.7 1114.0,1377.9 1116.0,1378.2 1118.0,1378.4 1120.0,1378.7 1122.0,1378.9 1124.0,1379.2 1126.0,1379.4 1128.0,1379.3 1130.0,1379.0 1132.0,1378.6 1134.0,1378.2 1136.0,1377.9 1138.0,1377.5 1140.0,1377.1 1142.0,1376.8 1144.0,1376.4 1146.0,1376.0 1148.0,1375.6 1150.0,1375.1 1152.0,1374.5 1154.0,1374.0 1156.0,1373.5 1158.0,1373.0 1160.0,1372.5 1162.0,1371.9 1164.0,1371.0 1166.0,1369.5 1168.0,1368.1 1170.0,1366.7 1172.0,1365.3 1172.0,1365.3 1172.0,1368.0 1172.0,1368.0 1170.0,1369.7 1168.0,1371.3 1166.0,1373.0 1164.0,1374.7 1162.0,1375.7 1160.0,1376.2 1158.0,1376.6 1156.0,1377.0 1154.0,1377.5 1152.0,1377.9 1150.0,1378.3 1148.0,1378.8 1146.0,1379.2 1144.0,1379.5 1142.0,1379.8 1140.0,1380.0 1138.0,1380.3 1136.0,1380.7 1134.0,1381.0 1132.0,1381.2 1130.0,1381.5 1128.0,1381.8 1126.0,1382.1 1124.0,1382.4 1122.0,1382.7 1120.0,1382.9 1118.0,1383.2 1116.0,1383.5 1114.0,1383.7 1112.0,1384.0 1110.0,1384.4 1108.0,1384.8 1106.0,1385.2 1104.0,1385.6 1102.0,1386.0 1100.0,1386.0 1098.0,1386.0 1096.0,1386.0 1094.0,1386.0 1092.0,1386.0 1090.0,1386.0 1088.0,1386.0 1086.0,1389.5 1084.0,1393.0 1082.0,1390.0 1080.0,1389.6 1078.0,1389.2 1076.0,1388.9 1074.0,1388.5 1072.0,1388.1 1070.0,1387.7 1068.0,1387.3 1066.0,1387.0 1064.0,1386.6 1062.0,1386.2 1060.0,1385.6 1058.0,1384.8 1056.0,1384.0 1054.0,1383.2 1052.0,1382.4 1050.0,1382.0 1048.0,1381.9 1046.0,1381.8 1044.0,1381.7 1042.0,1381.6 1040.0,1381.5 1038.0,1381.4 1036.0,1381.3 1034.0,1381.2 1032.0,1381.1 1030.0,1381.0 1028.0,1381.5 1026.0,1382.0 1024.0,1382.5 1022.0,1383.0 1020.0,1383.5 1018.0,1384.0 1016.0,1384.5 1014.0,1385.0 1012.0,1384.8 1010.0,1384.7 1008.0,1384.5 1006.0,1384.3 1004.0,1384.2 1002.0,1384.0 1000.0,1383.8 998.0,1383.7 996.0,1383.5 994.0,1383.3 992.0,1383.1 990.0,1383.0 988.0,1382.8 986.0,1382.6 984.0,1382.4 982.0,1382.2 980.0,1382.1 978.0,1381.9 976.0,1381.7 974.0,1381.5 972.0,1381.4 970.0,1381.2 968.0,1381.0 966.0,1380.1 964.0,1379.3 962.0,1378.4 960.0,1377.6 958.0,1376.7 956.0,1375.9 954.0,1375.0" fill="#000000" stroke="#000000" stroke-width="5.2" stroke-linejoin="round"/>
<polygon points="1745.0,1359.7 1747.0,1359.2 1749.0,1358.6 1751.0,1358.1 1753.0,1357.5 1755.0,1357.0 1757.0,1356.5 1759.0,1355.8 1761.0,1355.0 1763.0,1354.2 1765.0,1353.5 1767.0,1352.7 1769.0,1351.8 1771.0,1350.8 1773.0,1349.8 1775.0,1348.7 1777.0,1347.7 1779.0,1346.7 1781.0,1340.3 1783.0,1328.5 1785.0,1337.5 1787.0,1341.1 1789.0,1339.4 1791.0,1337.7 1793.0,1337.0 1795.0,1337.2 1797.0,1337.5 1799.0,1333.0 1801.0,1323.6 1803.0,1322.3 1805.0,1321.0 1807.0,1319.7 1808.0,1319.0 1808.0,1340.0 1807.0,1340.9 1805.0,1342.6 1803.0,1344.3 1801.0,1346.0 1799.0,1358.7 1797.0,1363.3 1795.0,1360.0 1793.0,1356.7 1791.0,1355.6 1789.0,1356.7 1787.0,1357.8 1785.0,1358.9 1783.0,1360.0 1781.0,1360.5 1779.0,1360.9 1777.0,1361.4 1775.0,1361.9 1773.0,1362.3 1771.0,1362.8 1769.0,1363.3 1767.0,1363.8 1765.0,1364.2 1763.0,1364.8 1761.0,1365.2 1759.0,1365.8 1757.0,1366.0 1755.0,1366.0 1753.0,1366.0 1751.0,1366.0 1749.0,1366.0 1747.0,1366.0 1745.0,1366.0" fill="#000000" stroke="#000000" stroke-width="5.2" stroke-linejoin="round"/>
<polyline points="181.4,2085.2 183.5,2084.4 185.6,2083.7 187.7,2084.1 189.8,2083.1 191.8,2082.4 193.7,2081.3 195.4,2079.9 197.1,2078.9 198.8,2077.3 200.4,2075.9 201.9,2074.0 203.3,2072.4 204.7,2070.1 205.8,2068.1 206.7,2066.2 207.6,2065.0 208.5,2062.3 209.3,2060.8 210.1,2058.8 211.0,2056.3 211.9,2055.5 212.9,2053.1 214.7,2052.0 216.7,2050.0 218.6,2047.8 220.6,2048.0 222.1,2048.5 223.5,2048.9 225.0,2051.1 226.4,2052.3 227.9,2055.2 229.4,2056.7 230.7,2058.6 232.0,2059.2 233.4,2061.3 234.7,2063.4 236.1,2065.2 237.4,2066.5 238.9,2069.1 240.4,2070.6 241.9,2071.5 243.5,2072.9 245.1,2075.0 246.8,2076.1 248.5,2077.8 250.2,2078.9 252.1,2080.0 254.1,2080.6 255.8,2081.6 257.6,2082.7 259.5,2083.6 261.4,2083.8 263.4,2084.7 265.5,2084.9 267.5,2085.8 269.6,2085.9 271.8,2085.8 273.9,2085.9 276.0,2086.2 278.0,2086.4 280.0,2087.6 282.1,2087.8 284.2,2087.7 286.3,2087.0 288.4,2087.8 290.5,2087.2 292.7,2088.1 294.8,2087.9 297.0,2088.0 299.2,2087.9 301.3,2087.8 303.5,2088.4 305.5,2088.7 307.5,2088.0 309.5,2088.5 311.6,2089.1 313.6,2089.3 315.7,2089.2 317.7,2089.5 319.8,2090.4 321.8,2089.8 323.9,2090.0 325.9,2090.7 327.9,2090.4 329.8,2091.2 331.7,2090.6 333.6,2091.3 335.7,2090.6 337.9,2091.2 340.0,2090.9 342.0,2090.7 344.1,2090.0 346.1,2089.7 348.1,2089.2 350.0,2089.1 351.9,2089.3 353.8,2088.0 355.6,2087.7 357.6,2087.3 359.6,2086.0 361.6,2085.3 363.6,2084.2 365.4,2083.6 367.2,2081.8 368.9,2081.6 370.5,2079.9 372.0,2078.7 373.4,2077.0 374.6,2075.5 375.7,2074.5 376.8,2072.8 377.7,2071.0 378.6,2068.2 379.5,2066.9 380.3,2065.2 380.9,2063.2 381.4,2061.4 381.8,2059.7 382.3,2057.3 382.6,2056.0 383.0,2054.0 383.3,2051.1 383.6,2049.5 383.9,2047.4 384.2,2044.9 384.5,2043.1 384.7,2041.2 385.0,2038.9 385.2,2036.0 385.5,2033.6 385.8,2032.2 386.1,2030.0 386.3,2028.3 386.5,2026.4 386.8,2023.8 387.0,2022.2 387.2,2019.9 387.4,2018.5 387.6,2016.4 387.8,2013.9 388.0,2012.2 388.2,2010.2 388.4,2007.7 388.6,2005.6 388.8,2003.9 389.0,2001.2 389.2,1999.6 389.3,1997.9 389.5,1995.6 389.7,1992.4 389.9,1991.0 390.0,1989.1 390.2,1987.3 390.3,1984.6 390.5,1983.6 390.6,1981.0 390.7,1979.8 390.8,1977.3 391.0,1975.3 391.1,1973.1 391.2,1971.9 391.4,1969.1 391.5,1967.8 391.6,1965.3 391.7,1962.8 391.9,1961.3 392.0,1959.1 392.1,1956.3 392.2,1955.2 392.3,1952.4 392.5,1950.0 392.6,1948.8 392.7,1946.6 392.8,1944.1 392.9,1941.8 393.0,1940.1 393.1,1938.1 393.3,1936.1 393.4,1933.9 393.5,1931.9 393.6,1930.1 393.7,1927.5 393.8,1925.5 393.9,1923.9 394.0,1922.3 394.1,1920.2 394.2,1918.2 394.3,1915.5 394.4,1913.8 394.6,1910.9 394.7,1909.2 394.8,1906.7 394.9,1905.6 395.0,1903.7 395.1,1901.3 395.1,1899.3 395.2,1896.8 395.3,1895.3 395.4,1892.4 395.5,1890.8 395.6,1888.7 395.7,1887.3 395.8,1884.5 395.9,1882.5 396.0,1880.4 396.1,1879.4 396.2,1876.8 396.3,1875.5 396.4,1872.8 396.5,1871.5 396.6,1868.8 396.7,1867.7 396.8,1865.7 396.9,1863.4 397.0,1861.1 397.1,1859.2 397.3,1857.0 397.4,1855.0 397.5,1852.0 397.6,1850.6 397.7,1848.4 397.8,1845.7 397.9,1843.4 398.0,1842.2 398.1,1839.6 398.3,1837.6 398.4,1836.0 398.5,1833.6 398.6,1831.3 398.8,1829.9 398.9,1827.8 399.0,1825.6 399.2,1824.3 399.3,1822.7 399.5,1820.2 399.7,1818.5 399.9,1815.9 400.2,1812.9 400.4,1809.9 400.6,1807.8 400.9,1804.8 401.2,1802.3 401.4,1800.8 401.7,1798.2 401.9,1796.3 402.2,1796.0 402.5,1795.4 402.8,1794.3 403.2,1794.8 403.5,1796.0 403.9,1797.8 404.3,1799.0 404.7,1802.1 405.2,1804.2 405.5,1807.7 405.9,1809.7 406.3,1812.8 406.5,1813.9 406.8,1815.9 407.0,1817.0 407.2,1819.0 407.4,1821.1 407.6,1823.1 407.8,1824.9 408.0,1827.3 408.2,1829.0 408.4,1831.7 408.6,1834.3 408.8,1836.4 409.0,1838.3 409.2,1840.9 409.4,1842.8 409.6,1844.9 409.8,1846.9 410.1,1848.7 410.3,1851.8 410.5,1854.0 410.7,1855.9 410.9,1858.0 411.1,1860.5 411.3,1863.1 411.5,1865.7 411.8,1868.1 412.0,1869.9 412.2,1873.8 412.4,1876.1 412.6,1878.6 412.8,1881.3 413.1,1883.7 413.3,1886.0 413.5,1889.1 413.7,1891.4 414.0,1893.0 414.2,1896.0 414.4,1897.7 414.7,1899.3 414.9,1900.2 415.2,1901.2 415.4,1902.1 415.6,1902.5 415.9,1903.3 416.3,1902.9 416.8,1901.9 417.3,1899.8 417.8,1897.6 418.2,1895.3 418.7,1892.1 419.2,1889.1 419.6,1887.1 420.0,1883.3 420.2,1881.9 420.4,1880.7 420.5,1878.6 420.7,1877.5 420.8,1875.3 421.0,1874.3 421.1,1871.6 421.3,1870.6 421.4,1868.0 421.5,1866.6 421.6,1864.6 421.7,1862.7 421.8,1859.7 422.0,1858.5 422.1,1855.4 422.2,1853.4 422.3,1850.8 422.4,1849.1 422.5,1846.4 422.6,1844.7 422.6,1842.9 422.7,1840.5 422.8,1838.0 422.9,1835.1 423.0,1834.0 423.1,1831.0 423.2,1829.5 423.3,1826.3 423.5,1824.3 423.6,1823.0 423.7,1820.6 423.8,1817.9 423.9,1816.2 424.1,1814.3 424.2,1812.0 424.4,1809.8 424.5,1807.3 424.7,1805.4 424.8,1802.8 425.0,1800.2 425.1,1797.8 425.3,1795.0 425.5,1792.4 425.6,1790.1 425.8,1786.7 426.0,1784.0 426.1,1781.8 426.3,1779.0 426.5,1776.8 426.6,1774.8 426.8,1772.5 427.0,1770.1 427.2,1768.1 427.3,1765.3 427.5,1763.6 427.7,1761.7 427.9,1760.4 428.1,1759.0 428.3,1757.9 428.5,1757.1 428.7,1757.2 428.9,1756.3 429.1,1756.6 429.4,1756.4 429.7,1757.4 430.1,1758.5 430.4,1759.9 430.8,1762.2 431.2,1764.0 431.5,1766.3 431.9,1768.5 432.3,1771.1 432.6,1774.2 432.9,1776.9 433.2,1779.3 433.5,1783.0 433.8,1784.3 434.0,1786.6 434.1,1788.1 434.3,1790.1 434.4,1792.5 434.6,1794.5 434.7,1795.8 434.8,1798.1 434.9,1800.3 435.0,1801.6 435.1,1803.8 435.2,1805.9 435.3,1808.4 435.4,1809.9 435.5,1812.7 435.5,1814.0 435.6,1816.7 435.7,1818.8 435.8,1820.2 435.8,1822.7 435.9,1825.5 436.0,1827.1 436.1,1828.8 436.1,1831.4 436.2,1833.6 436.3,1835.6 436.4,1837.6 436.5,1840.2 436.6,1841.9 436.7,1843.7 436.8,1845.7 436.9,1848.2 437.0,1849.6 437.1,1851.9 437.2,1854.2 437.3,1855.5 437.4,1857.6 437.5,1859.5 437.6,1862.3 437.7,1864.5 437.8,1866.3 437.9,1868.3 438.0,1869.6 438.1,1872.1 438.2,1874.2 438.3,1876.1 438.4,1878.0 438.5,1880.2 438.6,1882.1 438.7,1883.9 438.8,1886.6 438.9,1887.9 439.1,1890.5 439.2,1892.4 439.3,1895.0 439.4,1896.9 439.6,1898.6 439.7,1900.1 439.8,1903.0 439.9,1905.0 440.1,1907.0 440.2,1909.4 440.3,1910.9 440.5,1912.8 440.6,1915.0 440.7,1916.5 440.9,1919.2 441.0,1920.6 441.2,1923.3 441.3,1925.2 441.5,1927.4 441.6,1928.8 441.8,1931.5 441.9,1933.8 442.1,1935.9 442.3,1937.6 442.5,1938.9 442.6,1941.7 442.8,1943.0 443.0,1946.0 443.2,1946.9 443.4,1948.9 443.6,1951.4 443.8,1953.1 444.0,1956.2 444.2,1958.3 444.4,1959.6 444.6,1962.4 444.8,1963.9 445.0,1966.6 445.2,1967.9 445.5,1971.0 445.7,1972.5 445.9,1974.3 446.1,1976.7 446.4,1978.3 446.6,1980.4 446.9,1983.0 447.1,1985.2 447.4,1987.7 447.7,1989.2 447.9,1990.9 448.2,1992.8 448.5,1994.5 448.8,1997.5 449.2,1999.1 449.5,2000.4 449.8,2002.8 450.2,2004.5 450.7,2006.7 451.1,2008.6 451.6,2011.2 452.0,2013.4 452.5,2015.3 452.9,2016.6 453.4,2018.9 453.9,2021.1 454.4,2023.4 455.0,2024.8 455.6,2026.7 456.2,2028.0 456.8,2029.8 457.5,2031.9 458.2,2034.1 459.0,2035.3 459.8,2037.6 460.8,2039.4 461.9,2041.0 463.0,2043.2 464.1,2045.5 465.3,2046.4 466.5,2049.0 467.8,2050.9 469.1,2052.9 470.5,2053.7 471.9,2055.6 473.3,2057.2 474.8,2057.8 476.3,2059.5 478.2,2060.6 480.2,2061.8 482.2,2061.8 484.3,2061.9 486.5,2062.9 488.7,2063.4 490.9,2064.1 493.2,2064.4 495.5,2064.8 497.3,2065.7 499.2,2066.2 501.0,2066.5 503.0,2066.7 504.9,2067.0 506.9,2068.3 508.9,2068.2 510.9,2069.2 512.9,2070.6 514.9,2070.3 516.9,2071.4 518.9,2072.1 520.9,2072.1 522.9,2073.0 524.9,2073.9 526.8,2074.2 528.8,2074.3 530.7,2075.6 532.7,2075.8 534.6,2075.8 536.6,2077.0 538.5,2077.5 540.5,2078.1 542.4,2078.5 544.4,2078.9 546.4,2078.8 548.4,2079.7 550.4,2080.1 552.5,2080.6 554.5,2080.2 556.6,2081.5 558.7,2081.4 560.8,2082.1 562.9,2082.0 565.0,2082.6 567.1,2082.7 569.2,2082.6 571.4,2083.1 573.5,2083.7 575.7,2083.3 577.8,2084.2 580.0,2084.2 582.0,2084.4 584.1,2084.2 586.2,2084.6 588.4,2084.7 590.6,2084.6 592.7,2084.2 594.9,2085.0 597.1,2085.2 599.2,2085.1 601.4,2084.9 603.5,2085.1 605.5,2084.4 607.6,2085.0 609.5,2084.1 611.4,2083.9 613.2,2083.5 615.4,2083.9 617.5,2083.0 619.5,2081.6 621.4,2080.8 623.2,2078.7 625.1,2078.1 626.9,2076.9 628.8,2075.6 630.7,2075.7 632.7,2074.9 634.4,2075.3 636.1,2075.6 637.8,2076.4 639.5,2078.1 641.3,2078.6 643.0,2079.8 644.8,2080.5 646.5,2081.7 648.4,2082.8 650.3,2084.6 652.2,2085.5 654.3,2086.6 656.4,2087.1 658.1,2087.1 659.9,2087.7 661.7,2088.0 663.5,2089.0 665.4,2089.0 667.3,2089.4 669.2,2089.4 671.1,2089.9 673.1,2089.8 675.1,2089.0 677.2,2089.2 679.3,2089.3 681.4,2090.4 683.6,2089.6 685.7,2090.0 688.0,2090.2 690.2,2089.8 692.5,2090.0 694.8,2090.8 697.2,2090.0 699.6,2090.9 701.3,2090.5 703.0,2090.9 704.7,2090.6 706.5,2091.0 708.3,2091.1 710.1,2090.8 712.0,2090.7 713.9,2090.9 715.8,2091.3 717.7,2090.5 719.6,2090.8 721.6,2091.0 723.6,2091.4 725.6,2091.2 727.6,2090.9 729.6,2091.7 731.6,2091.4 733.7,2091.8 735.8,2091.2 737.9,2091.9 739.9,2091.4 742.0,2091.2 744.1,2091.0 746.3,2091.8 748.4,2091.0 750.5,2091.8 752.6,2091.8 754.7,2091.0 756.9,2091.7 759.0,2091.7 761.1,2091.0 763.3,2091.8 765.4,2092.1 767.5,2091.3 769.6,2091.6 771.7,2091.5 773.8,2091.3 775.9,2091.2 777.9,2091.9 780.0,2092.3 782.0,2091.3 784.1,2091.2 786.1,2091.8 788.1,2091.6 790.1,2092.3 792.1,2091.7 794.1,2091.4 796.1,2091.8 798.2,2092.0 800.2,2092.1 802.2,2092.1 804.2,2092.0 806.2,2092.9 808.2,2091.9 810.2,2092.2 812.2,2093.0 814.2,2092.3 816.2,2092.4 818.3,2092.7 820.3,2093.0 822.3,2093.3 824.3,2093.4 826.3,2092.7 828.3,2093.7 830.3,2092.8 832.3,2093.7 834.3,2093.8 836.3,2093.0 838.3,2093.4 840.4,2093.2 842.4,2093.6 844.4,2094.0 846.4,2094.1 848.4,2094.1 850.4,2093.3 852.4,2093.6 854.4,2094.4 856.4,2094.2 858.4,2094.3 860.4,2093.6 862.5,2093.6 864.5,2094.0 866.5,2094.1 868.5,2093.6 870.5,2094.5 872.5,2094.1 874.5,2094.5 876.5,2094.4 878.6,2093.8 880.7,2093.6 882.7,2094.3 884.8,2093.8 886.9,2093.9 889.0,2094.0 891.1,2094.2 893.2,2093.6 895.3,2093.5 897.4,2093.9 899.6,2092.9 901.7,2093.3 903.8,2092.9 905.9,2093.3 908.1,2093.5 910.2,2092.9 912.3,2092.6 914.4,2092.4 916.5,2093.2 918.6,2092.8 920.7,2093.1 922.8,2092.2 924.8,2092.1 926.9,2091.9 928.9,2092.3 931.0,2092.1 933.0,2092.4 935.0,2092.0 936.9,2091.6 938.9,2091.2 940.8,2091.9 942.8,2092.0 944.7,2091.1 946.5,2091.0 948.4,2091.2 950.2,2090.9 952.0,2091.2 953.8,2090.8 955.5,2090.7 957.2,2090.5 958.9,2090.2 961.3,2090.9 963.5,2090.7 965.8,2089.7 967.9,2089.7 970.0,2090.0 972.0,2089.4 974.0,2089.3 975.9,2089.3 977.9,2088.8 979.8,2088.7 981.7,2089.0 983.6,2089.1 985.5,2087.8 987.4,2088.6 989.4,2087.5 991.3,2088.0 993.4,2087.1 995.5,2087.6 997.6,2087.0 999.8,2087.5 1002.1,2086.4 1003.9,2086.9 1005.7,2087.3 1007.6,2086.6 1009.6,2086.4 1011.5,2086.5 1013.5,2086.5 1015.6,2086.2 1017.7,2085.7 1019.8,2085.3 1021.9,2085.8 1024.0,2085.3 1026.2,2085.7 1028.4,2084.8 1030.5,2084.6 1032.7,2084.6 1034.9,2085.0 1037.1,2084.6 1039.3,2083.9 1041.6,2084.2 1043.7,2084.2 1045.9,2083.2 1048.1,2083.8 1050.3,2083.4 1052.4,2083.8 1054.5,2083.5 1056.6,2082.9 1058.7,2082.5 1060.7,2082.8 1062.7,2082.7 1064.7,2082.4 1066.6,2082.9 1068.5,2083.1 1070.4,2082.6 1072.2,2082.2 1073.9,2082.7 1075.6,2082.5 1078.0,2082.2 1080.2,2082.4 1082.4,2082.9 1084.5,2082.7 1086.5,2083.0 1088.5,2084.2 1090.4,2083.9 1092.3,2083.8 1094.2,2083.9 1096.1,2084.4 1098.0,2084.7 1099.9,2085.7 1101.8,2085.1 1103.8,2086.2 1105.9,2085.9 1108.0,2086.4 1110.2,2086.3 1112.1,2086.9 1114.1,2087.0 1116.1,2086.8 1118.2,2086.7 1120.4,2086.9 1122.6,2087.0 1124.8,2087.3 1127.1,2088.0 1129.4,2088.0 1131.7,2088.4 1134.0,2089.1 1136.3,2089.1 1138.6,2089.5 1140.8,2089.4 1143.1,2088.9 1145.3,2088.7 1147.4,2089.5 1149.5,2088.8 1151.6,2089.3 1153.5,2088.5 1155.4,2088.8 1157.2,2088.5 1158.9,2088.0 1160.5,2087.9 1162.0,2087.2 1164.0,2085.5 1165.8,2084.3 1167.4,2082.4 1168.9,2080.4 1170.3,2078.0 1171.6,2075.9 1172.9,2074.2 1174.1,2071.7 1175.3,2070.4 1176.6,2069.2 1177.9,2068.3 1179.3,2068.2 1180.7,2068.6 1181.9,2069.0 1183.1,2069.7 1184.2,2071.1 1185.4,2073.7 1186.6,2075.0 1187.8,2077.0 1189.2,2078.6 1190.7,2081.0 1192.5,2082.4 1194.4,2084.2 1196.6,2085.4 1197.8,2086.3 1199.0,2086.6 1200.3,2087.2 1201.7,2087.5 1203.1,2086.9 1204.6,2087.9 1206.1,2087.8 1207.7,2088.2 1209.4,2088.6 1211.1,2088.9 1212.9,2089.2 1214.7,2089.2 1216.5,2089.0 1218.4,2090.2 1220.4,2089.2 1222.4,2090.4 1224.4,2090.6 1226.4,2090.3 1228.5,2089.8 1230.6,2090.4 1232.8,2090.0 1234.9,2090.1 1237.1,2090.7 1239.3,2090.6 1241.6,2089.7 1243.8,2090.8 1246.1,2090.1 1248.4,2090.0 1250.7,2090.1 1253.0,2089.8 1255.3,2090.1 1257.6,2090.5 1260.0,2090.6 1262.3,2090.4 1264.6,2090.1 1266.9,2089.8 1269.2,2089.9 1271.6,2089.4 1273.9,2089.5 1276.1,2089.2 1278.4,2090.1 1280.7,2089.3 1282.9,2089.3 1285.2,2089.6 1287.4,2090.1 1289.5,2089.2 1291.7,2090.1 1293.8,2089.6 1295.9,2089.7 1298.0,2089.9 1300.0,2090.6 1302.0,2090.7 1304.0,2089.9 1306.0,2090.4 1308.1,2090.1 1310.1,2090.2 1312.1,2090.9 1314.1,2090.8 1316.1,2090.7 1318.1,2090.5 1320.1,2090.7 1322.1,2090.9 1324.1,2091.4 1326.1,2090.8 1328.1,2091.3 1330.1,2091.6 1332.1,2090.8 1334.1,2091.1 1336.1,2091.8 1338.1,2091.1 1340.1,2092.2 1342.1,2091.7 1344.1,2092.0 1346.1,2091.5 1348.1,2092.0 1350.1,2092.1 1352.1,2092.5 1354.1,2092.4 1356.1,2091.9 1358.1,2091.9 1360.1,2092.2 1362.1,2092.7 1364.1,2092.2 1366.1,2092.3 1368.1,2092.6 1370.1,2092.6 1372.0,2093.1 1374.0,2092.7 1376.0,2092.8 1378.0,2093.5 1380.0,2093.4 1382.0,2093.6 1384.0,2093.0 1386.0,2093.7 1388.0,2093.4 1390.0,2093.6 1392.0,2093.4 1394.0,2094.2 1396.0,2094.2 1398.0,2093.9 1400.0,2093.8 1402.0,2093.8 1404.0,2094.1 1406.0,2094.0 1408.0,2094.2 1410.0,2094.5 1412.0,2094.8 1414.0,2094.9 1416.0,2094.0 1418.0,2094.9 1420.0,2094.5 1422.0,2094.2 1424.0,2094.7 1426.0,2095.3 1428.0,2094.8 1430.0,2094.7 1432.0,2095.0 1434.0,2095.1 1436.0,2095.6 1438.0,2095.7 1440.0,2095.8 1442.0,2094.8 1444.0,2095.6 1446.0,2095.4 1448.0,2095.5 1450.0,2095.9 1452.0,2095.3 1454.0,2095.0 1456.0,2095.4 1458.0,2096.3 1460.0,2096.3 1462.0,2095.8 1464.0,2095.4 1466.0,2096.2 1468.0,2095.8 1470.0,2096.5 1472.0,2096.1 1474.0,2095.9 1476.0,2095.7 1478.0,2096.0 1480.0,2096.2 1482.0,2096.2 1484.0,2096.8 1486.0,2097.0 1488.0,2096.8 1490.0,2096.6 1492.0,2096.9 1494.0,2096.2 1496.0,2096.9 1498.0,2097.0 1500.0,2097.1 1502.0,2096.8 1504.0,2097.6 1506.0,2097.0 1508.0,2097.2 1510.0,2096.9 1512.0,2097.5 1514.0,2096.9 1516.0,2097.6 1518.0,2097.3 1520.0,2098.3 1522.0,2097.7 1524.0,2097.6 1526.0,2098.2 1528.0,2097.6 1530.0,2098.2 1532.0,2098.1 1534.0,2098.8 1536.0,2098.7 1538.0,2098.9 1540.0,2099.1 1542.0,2098.7 1544.0,2098.9 1546.0,2099.0 1548.0,2099.2 1550.0,2099.4 1552.0,2099.5 1554.0,2099.6 1556.0,2099.7 1558.0,2098.9 1560.0,2099.7 1562.0,2099.7 1564.0,2100.0 1566.0,2099.4 1568.0,2100.0 1570.0,2099.2 1572.0,2099.7 1574.0,2099.6 1576.0,2099.7 1578.0,2099.6 1580.0,2100.2 1582.0,2099.8 1584.0,2099.8 1586.0,2100.6 1588.0,2100.8 1590.0,2100.4 1592.0,2100.1 1594.0,2101.2 1596.0,2100.7 1598.0,2100.8 1600.0,2101.5 1602.0,2100.7 1604.0,2101.3 1606.0,2101.1 1608.0,2101.4 1610.1,2101.3 1612.1,2101.1 1614.1,2102.1 1616.2,2101.7 1618.2,2101.4 1620.2,2101.8 1622.3,2102.0 1624.3,2102.5 1626.4,2101.8 1628.4,2101.7 1630.5,2102.2 1632.5,2102.8 1634.5,2101.9 1636.6,2103.0 1638.6,2102.6 1640.7,2102.7 1642.7,2102.9 1644.8,2103.1 1646.8,2103.1 1648.9,2103.5 1650.9,2103.3 1652.9,2103.0 1655.0,2103.2 1657.0,2103.3 1659.0,2103.1 1661.0,2103.3 1663.0,2103.5 1665.1,2104.2 1667.1,2104.2 1669.1,2104.1 1671.1,2104.2 1673.0,2103.7 1675.0,2103.9 1677.0,2103.8 1679.0,2104.6 1680.9,2104.5 1682.9,2104.6 1684.8,2103.9 1686.7,2104.8 1688.7,2105.0 1690.6,2104.7 1692.5,2105.1 1694.4,2105.2 1696.3,2105.0 1698.1,2104.7 1700.0,2105.1 1702.2,2105.5 1704.3,2104.7 1706.4,2105.6 1708.6,2105.1 1710.7,2105.6 1712.8,2104.9 1714.9,2105.4 1716.9,2106.1 1719.0,2105.7 1721.0,2105.6 1723.1,2105.5 1725.1,2105.6 1727.1,2106.0 1729.2,2106.4 1731.2,2105.5 1733.2,2105.8 1735.2,2105.9 1737.2,2105.8 1739.2,2106.7 1741.2,2106.5 1743.1,2106.2 1745.1,2105.7 1747.1,2106.8 1749.1,2106.6 1751.1,2106.9 1753.0,2106.2 1755.0,2106.3 1757.0,2106.4 1759.0,2106.5 1761.0,2106.6 1763.0,2107.3 1764.9,2107.2 1766.9,2106.3 1769.0,2106.8 1771.0,2106.5 1773.0,2106.9 1775.0,2106.9" fill="none" stroke="#000000" stroke-width="4.3" stroke-linejoin="round" stroke-linecap="round"/>
<polyline points="181.4,2314.3 183.3,2312.7 185.3,2312.3 187.3,2311.5 189.2,2311.4 191.2,2310.5 193.0,2309.9 194.8,2308.0 196.5,2307.2 198.1,2305.3 199.5,2304.0 200.9,2302.6 202.1,2300.3 203.4,2298.6 204.7,2297.3 206.0,2295.4 207.4,2293.3 208.8,2292.0 210.2,2290.3 211.7,2287.3 213.2,2286.2 214.7,2284.2 216.2,2282.1 217.7,2280.5 219.2,2280.6 220.6,2279.6 222.1,2279.8 223.5,2280.9 224.9,2283.5 226.3,2285.3 227.7,2287.7 229.1,2289.9 230.6,2291.8 232.1,2294.2 233.5,2294.9 234.9,2296.6 236.3,2298.4 237.7,2299.6 239.2,2301.4 240.7,2302.4 242.3,2303.8 244.0,2304.3 245.8,2305.6 247.5,2306.6 249.3,2307.1 251.1,2308.1 253.0,2308.6 255.0,2309.4 257.0,2310.5 259.1,2310.7 261.2,2311.2 263.3,2311.5 265.6,2312.0 267.8,2313.3 269.7,2313.4 271.6,2313.7 273.6,2313.5 275.6,2314.4 277.7,2314.1 279.8,2314.6 282.0,2315.6 284.2,2315.4 286.4,2315.5 288.6,2315.9 290.7,2316.3 292.9,2316.4 295.1,2315.9 297.3,2315.8 299.4,2316.4 301.5,2316.5 303.5,2316.6 305.6,2317.6 307.7,2317.7 309.8,2317.1 311.8,2317.7 313.9,2317.5 315.9,2318.2 318.0,2317.8 320.0,2317.6 322.0,2317.7 324.0,2318.2 326.0,2317.8 327.9,2318.3 329.8,2318.7 331.7,2318.1 333.6,2317.9 335.7,2318.8 337.9,2318.2 340.0,2317.8 342.0,2317.7 344.1,2317.8 346.1,2318.4 348.1,2318.5 350.0,2317.9 351.9,2317.2 353.8,2317.2 355.6,2317.5 357.6,2316.3 359.7,2316.0 361.7,2315.0 363.6,2313.1 365.5,2312.9 367.3,2311.6 369.0,2310.2 370.6,2308.5 372.0,2307.5 373.2,2305.3 374.3,2304.1 375.3,2302.4 376.2,2301.2 376.9,2299.3 377.7,2296.5 378.4,2294.8 379.0,2292.2 379.7,2290.9 380.3,2288.5 380.7,2286.2 381.1,2284.8 381.5,2283.0 381.9,2280.6 382.2,2279.4 382.5,2277.2 382.8,2275.5 383.1,2273.1 383.3,2270.4 383.6,2268.7 383.8,2266.2 384.0,2265.1 384.2,2262.9 384.4,2260.6 384.6,2257.8 384.9,2255.3 385.1,2254.0 385.3,2251.9 385.6,2248.6 385.8,2246.9 386.0,2244.5 386.2,2243.4 386.5,2241.5 386.7,2238.8 386.9,2237.3 387.1,2235.4 387.3,2233.1 387.5,2231.9 387.7,2229.3 387.9,2227.1 388.1,2225.5 388.4,2223.7 388.6,2221.0 388.8,2219.1 389.0,2217.9 389.2,2215.4 389.4,2213.1 389.6,2211.1 389.7,2208.5 389.9,2206.5 390.1,2204.6 390.3,2202.8 390.5,2200.2 390.7,2198.1 390.9,2195.8 391.0,2194.3 391.2,2191.7 391.3,2190.6 391.5,2188.6 391.6,2185.7 391.8,2183.9 391.9,2182.5 392.1,2179.9 392.2,2177.8 392.3,2176.8 392.4,2174.3 392.6,2172.1 392.7,2170.5 392.8,2168.5 392.9,2165.7 393.0,2163.5 393.2,2161.8 393.3,2159.7 393.4,2157.7 393.5,2156.0 393.6,2153.8 393.7,2152.1 393.9,2149.0 394.0,2147.3 394.1,2145.2 394.2,2143.8 394.3,2141.0 394.4,2138.9 394.5,2137.2 394.7,2135.1 394.8,2133.0 394.9,2131.0 395.0,2129.8 395.1,2127.3 395.3,2125.8 395.4,2123.6 395.5,2120.8 395.7,2119.8 395.8,2117.3 396.0,2115.3 396.1,2113.0 396.2,2110.6 396.4,2107.6 396.5,2105.7 396.6,2103.1 396.8,2101.1 396.9,2098.5 397.0,2096.6 397.2,2095.2 397.3,2092.2 397.5,2090.6 397.6,2088.1 397.8,2086.0 397.9,2084.7 398.1,2082.7 398.2,2080.3 398.4,2078.6 398.6,2076.1 398.7,2074.6 398.9,2073.7 399.1,2071.7 399.3,2070.1 399.5,2068.9 399.9,2065.1 400.4,2062.8 400.8,2059.9 401.3,2057.8 401.8,2054.9 402.3,2054.5 402.8,2053.0 403.1,2053.4 403.5,2054.6 403.8,2055.9 404.2,2057.0 404.6,2058.8 405.0,2061.9 405.3,2063.5 405.7,2066.5 406.0,2069.2 406.4,2071.7 406.7,2074.7 407.1,2077.3 407.4,2080.4 407.7,2081.9 407.9,2084.4 408.1,2085.7 408.3,2087.9 408.5,2090.2 408.7,2091.9 408.8,2094.0 409.0,2096.7 409.1,2098.1 409.3,2100.8 409.4,2103.7 409.6,2106.0 409.7,2107.1 409.9,2109.5 410.0,2111.8 410.2,2114.8 410.3,2116.9 410.5,2119.0 410.6,2120.5 410.8,2122.3 411.0,2125.1 411.2,2126.8 411.4,2128.5 411.6,2130.7 411.8,2131.9 412.2,2133.9 412.7,2137.7 413.1,2140.0 413.6,2143.2 414.1,2146.1 414.6,2147.3 415.0,2149.0 415.5,2150.0 415.9,2151.0 416.2,2150.4 416.4,2150.3 416.6,2149.5 416.9,2147.7 417.1,2146.7 417.3,2144.5 417.5,2142.8 417.7,2141.2 417.9,2138.8 418.1,2135.4 418.3,2133.2 418.5,2130.4 418.7,2127.4 418.9,2125.5 419.1,2122.6 419.3,2119.5 419.4,2117.4 419.6,2114.6 419.8,2111.9 420.0,2109.1 420.2,2107.3 420.3,2106.4 420.4,2104.5 420.6,2102.1 420.7,2100.4 420.8,2098.1 420.9,2095.5 421.1,2093.4 421.2,2091.5 421.3,2090.1 421.4,2087.8 421.5,2085.7 421.6,2083.6 421.7,2080.6 421.9,2078.5 422.0,2076.2 422.1,2074.8 422.2,2072.8 422.4,2070.1 422.5,2068.3 422.6,2065.7 422.8,2064.6 422.9,2062.5 423.1,2060.7 423.2,2058.6 423.4,2056.8 423.6,2054.0 423.8,2053.0 424.0,2050.8 424.2,2049.9 424.5,2047.3 424.9,2044.8 425.3,2042.2 425.7,2038.8 426.1,2036.8 426.5,2033.5 426.9,2032.0 427.3,2029.7 427.8,2026.9 428.2,2025.8 428.6,2023.9 429.0,2022.6 429.4,2022.5 429.7,2021.6 430.0,2021.6 430.3,2022.4 430.6,2023.6 430.9,2025.7 431.2,2027.5 431.4,2028.7 431.7,2031.3 431.9,2033.4 432.2,2036.7 432.4,2038.8 432.7,2042.0 432.9,2043.8 433.1,2047.6 433.3,2049.4 433.6,2052.9 433.8,2054.6 433.9,2056.1 434.1,2058.2 434.2,2060.3 434.4,2061.6 434.5,2063.8 434.7,2065.5 434.8,2067.3 434.9,2069.4 435.0,2071.0 435.2,2073.5 435.3,2074.7 435.4,2077.8 435.5,2079.4 435.6,2081.6 435.8,2083.7 435.9,2085.7 436.0,2087.5 436.1,2089.2 436.2,2092.1 436.3,2093.8 436.4,2095.9 436.5,2098.7 436.6,2100.7 436.8,2102.3 436.9,2104.5 437.0,2106.7 437.1,2108.8 437.2,2110.8 437.3,2112.7 437.4,2115.2 437.5,2117.9 437.7,2119.6 437.8,2122.0 437.9,2123.6 438.0,2125.3 438.1,2127.6 438.2,2129.0 438.4,2131.4 438.5,2133.7 438.6,2135.9 438.7,2138.1 438.8,2139.9 438.9,2142.0 439.0,2143.8 439.1,2146.3 439.2,2148.9 439.3,2150.8 439.4,2152.2 439.5,2154.2 439.6,2156.8 439.7,2159.0 439.9,2160.7 440.0,2163.4 440.1,2165.3 440.2,2167.3 440.3,2168.8 440.4,2170.8 440.5,2172.6 440.7,2174.8 440.8,2177.1 440.9,2179.5 441.1,2180.4 441.2,2182.8 441.4,2184.9 441.5,2186.2 441.7,2188.7 441.8,2190.2 442.0,2191.7 442.2,2194.5 442.5,2196.0 442.7,2199.1 442.9,2201.3 443.2,2202.7 443.4,2205.3 443.7,2207.1 443.9,2210.1 444.2,2211.7 444.5,2213.1 444.7,2215.4 445.0,2218.1 445.3,2219.6 445.6,2222.0 445.9,2223.8 446.2,2226.1 446.5,2227.6 446.8,2229.9 447.2,2231.8 447.5,2233.3 447.9,2235.6 448.3,2237.5 448.7,2240.1 449.1,2241.9 449.5,2244.4 449.9,2246.3 450.3,2248.0 450.8,2249.8 451.2,2251.8 451.7,2254.2 452.2,2256.3 452.7,2257.9 453.2,2259.9 453.7,2261.3 454.3,2262.9 455.0,2265.3 455.7,2267.5 456.4,2269.7 457.1,2272.1 457.9,2273.6 458.7,2275.7 459.6,2278.1 460.5,2279.8 461.5,2280.7 462.6,2282.5 464.2,2284.2 465.8,2285.4 467.6,2286.2 469.4,2287.4 471.5,2288.9 473.6,2289.5 475.3,2290.4 477.0,2291.2 478.9,2291.8 480.8,2292.0 482.8,2292.1 484.9,2293.2 487.0,2294.2 489.1,2295.0 491.2,2295.7 493.4,2295.6 495.5,2296.6 497.4,2296.9 499.2,2297.5 501.2,2297.5 503.1,2298.0 505.0,2298.8 507.0,2298.8 509.0,2299.7 511.0,2300.6 513.0,2300.8 515.0,2301.0 517.0,2301.8 518.9,2301.9 520.9,2302.9 522.9,2302.6 524.9,2303.5 526.8,2304.1 528.8,2303.9 530.7,2305.1 532.7,2304.9 534.6,2305.7 536.6,2305.6 538.5,2306.4 540.5,2306.6 542.4,2307.1 544.4,2308.0 546.4,2307.8 548.4,2308.6 550.4,2309.0 552.5,2308.6 554.5,2308.7 556.5,2308.9 558.6,2309.8 560.6,2310.6 562.7,2310.0 564.7,2310.6 566.8,2310.9 568.9,2311.0 571.1,2311.3 573.2,2311.6 575.4,2310.9 577.7,2310.7 580.0,2311.0 581.8,2311.0 583.7,2311.7 585.5,2311.5 587.4,2311.1 589.4,2311.6 591.3,2311.6 593.2,2310.8 595.2,2311.3 597.2,2311.4 599.2,2310.5 601.3,2311.2 603.3,2311.3 605.4,2310.1 607.4,2309.9 609.5,2310.2 611.6,2310.5 613.7,2310.7 615.8,2309.9 617.9,2310.2 620.0,2309.4 622.1,2310.1 624.2,2310.0 626.1,2309.3 628.0,2310.1 630.0,2310.2 631.9,2309.9 633.9,2309.3 635.9,2310.4 637.9,2310.2 639.9,2309.7 641.9,2309.9 643.9,2309.9 645.9,2310.1 647.9,2309.9 650.0,2310.6 652.0,2310.6 654.0,2309.8 656.1,2310.8 658.1,2310.5 660.2,2310.7 662.2,2310.6 664.2,2310.2 666.3,2310.6 668.3,2310.8 670.3,2309.9 672.4,2310.5 674.4,2310.1 676.4,2309.9 678.4,2309.7 680.4,2309.9 682.4,2309.2 684.5,2309.8 686.5,2309.6 688.6,2308.5 690.7,2309.3 692.7,2308.3 694.8,2308.4 696.9,2308.4 699.0,2307.9 701.0,2307.2 703.1,2308.0 705.2,2306.9 707.2,2306.7 709.3,2307.1 711.3,2306.2 713.3,2306.6 715.3,2306.0 717.3,2305.1 719.3,2304.4 721.3,2305.2 723.2,2303.7 725.1,2304.0 727.0,2303.3 728.9,2303.1 730.7,2302.5 732.5,2301.9 734.5,2301.0 736.5,2300.7 738.5,2299.2 740.5,2298.6 742.4,2298.4 744.3,2297.2 746.2,2296.7 748.1,2295.8 750.0,2295.0 751.8,2294.0 753.6,2293.5 755.4,2292.0 757.2,2291.5 758.9,2290.0 760.7,2289.0 762.4,2287.8 764.0,2286.8 765.7,2285.7 767.3,2285.1 768.9,2284.2 770.5,2282.3 772.1,2281.1 773.6,2280.2 775.1,2279.1 776.6,2278.0 778.1,2276.1 779.5,2274.4 780.9,2272.7 782.3,2271.3 783.6,2269.8 784.9,2268.2 786.3,2266.4 787.6,2265.5 788.8,2263.6 790.1,2262.9 791.4,2260.8 792.6,2259.4 793.9,2257.1 795.1,2256.4 796.4,2254.4 797.6,2253.3 798.9,2251.3 800.2,2249.5 801.4,2247.7 802.6,2245.5 803.8,2243.5 805.0,2242.7 806.2,2240.3 807.4,2238.9 808.5,2236.5 809.7,2234.3 810.8,2233.2 812.0,2230.8 813.2,2229.3 814.3,2228.3 815.5,2226.5 816.7,2226.0 818.0,2223.7 819.2,2223.4 821.2,2221.7 823.3,2220.4 825.4,2218.4 827.5,2217.6 829.5,2216.6 831.6,2216.0 833.6,2216.3 835.5,2216.7 836.9,2216.4 838.2,2217.6 839.5,2218.7 840.8,2220.2 842.1,2222.1 843.3,2222.9 844.5,2224.8 845.7,2227.2 846.9,2228.6 848.1,2230.6 849.3,2232.5 850.5,2234.3 851.7,2236.6 852.8,2238.5 853.9,2240.0 854.9,2241.8 855.8,2244.3 856.8,2246.2 857.7,2247.9 858.7,2250.2 859.7,2252.5 860.7,2254.2 861.7,2255.9 862.8,2257.8 864.0,2259.9 865.2,2260.9 866.6,2262.5 868.0,2264.0 869.6,2265.6 871.3,2266.7 873.1,2266.9 874.9,2268.1 876.8,2269.3 878.8,2270.7 880.8,2271.3 882.9,2271.7 884.9,2272.2 887.0,2273.5 889.0,2274.0 891.1,2274.6 893.1,2274.4 895.1,2274.6 897.2,2274.2 899.2,2274.1 901.3,2274.3 903.4,2273.9 905.5,2273.4 907.6,2272.7 909.8,2273.1 911.9,2272.3 913.9,2271.3 916.0,2271.0 918.1,2270.3 920.2,2269.1 922.2,2267.8 924.1,2266.8 925.9,2266.8 927.7,2265.6 929.6,2264.9 931.4,2264.3 933.2,2262.4 935.0,2261.9 936.8,2260.9 938.6,2259.6 940.4,2258.0 942.2,2257.2 944.0,2256.1 945.7,2255.4 947.5,2254.4 949.3,2252.7 951.0,2252.0 952.8,2250.4 954.5,2250.1 956.3,2248.7 958.1,2247.2 959.9,2245.9 961.6,2244.5 963.4,2243.3 965.1,2242.9 966.8,2241.0 968.5,2239.9 970.2,2239.2 971.8,2237.6 973.4,2236.3 974.9,2235.0 976.4,2233.6 978.2,2232.3 980.0,2231.0 981.7,2229.1 983.4,2227.4 985.0,2225.0 986.6,2223.8 988.2,2222.9 989.7,2221.2 991.2,2220.8 992.6,2219.9 994.3,2221.4 995.9,2222.0 997.4,2223.1 998.9,2224.8 1000.4,2227.3 1001.9,2229.4 1003.5,2230.8 1004.7,2233.3 1005.8,2234.8 1007.0,2235.9 1008.1,2237.3 1009.3,2239.9 1010.4,2241.4 1011.6,2243.5 1012.9,2245.1 1014.1,2246.6 1015.4,2248.9 1016.8,2250.7 1018.2,2251.3 1019.7,2253.0 1021.4,2254.1 1023.3,2256.0 1025.2,2256.8 1027.1,2258.4 1029.1,2259.4 1031.1,2259.7 1033.2,2261.2 1035.3,2261.4 1037.3,2262.6 1039.4,2262.5 1041.4,2263.1 1043.4,2262.4 1045.4,2262.2 1047.4,2262.0 1049.5,2261.9 1051.5,2260.5 1053.6,2259.2 1055.6,2258.8 1057.5,2257.7 1059.5,2257.1 1061.3,2256.4 1063.1,2255.6 1065.2,2254.7 1067.2,2253.7 1069.2,2253.5 1071.1,2252.6 1072.9,2251.6 1074.8,2252.1 1076.6,2251.4 1078.2,2252.8 1079.7,2253.6 1081.2,2254.9 1082.7,2255.8 1084.2,2257.7 1085.6,2259.5 1087.1,2261.4 1088.6,2262.4 1090.2,2263.2 1091.7,2265.2 1093.2,2266.7 1094.7,2268.4 1096.2,2269.9 1097.7,2270.8 1099.2,2272.3 1100.9,2273.6 1102.6,2275.2 1104.4,2276.1 1106.4,2277.5 1108.1,2277.7 1109.8,2278.9 1111.7,2280.2 1113.6,2280.1 1115.7,2281.2 1117.7,2281.8 1119.8,2282.6 1122.0,2283.2 1124.1,2283.7 1126.3,2283.6 1128.5,2284.0 1130.6,2285.0 1132.8,2285.5 1134.9,2286.1 1136.9,2285.5 1138.9,2286.0 1141.0,2287.1 1143.1,2287.9 1145.2,2288.5 1147.3,2288.6 1149.3,2288.7 1151.3,2288.7 1153.4,2289.7 1155.4,2290.3 1157.5,2290.1 1159.5,2290.6 1161.6,2291.1 1163.8,2290.2 1166.0,2291.3 1168.0,2290.7 1170.0,2290.7 1172.1,2290.3 1174.2,2290.5 1176.4,2290.3 1178.5,2290.3 1180.7,2289.2 1182.9,2288.8 1185.1,2289.4 1187.3,2288.8 1189.5,2288.1 1191.6,2288.6 1193.6,2287.5 1195.6,2287.8 1197.6,2287.6 1199.4,2287.7 1201.2,2287.6 1203.4,2289.0 1205.4,2289.8 1207.3,2290.2 1209.1,2290.4 1210.9,2291.7 1212.7,2292.5 1214.4,2293.8 1216.3,2294.8 1218.2,2295.4 1220.2,2296.0 1222.0,2297.4 1223.8,2297.3 1225.7,2298.2 1227.5,2299.0 1229.5,2299.4 1231.4,2300.5 1233.4,2301.2 1235.4,2302.4 1237.4,2302.1 1239.4,2303.5 1241.4,2303.6 1243.4,2303.6 1245.3,2304.2 1247.3,2304.6 1249.4,2304.9 1251.5,2304.1 1253.6,2304.8 1255.7,2304.6 1257.8,2305.0 1259.9,2304.1 1262.0,2304.5 1264.1,2303.9 1266.2,2303.3 1268.3,2303.3 1270.4,2302.8 1272.4,2302.4 1274.4,2302.0 1276.4,2301.2 1278.3,2300.6 1280.3,2299.3 1282.2,2298.5 1284.2,2297.0 1286.1,2295.4 1288.0,2294.4 1289.9,2293.5 1291.7,2292.7 1293.6,2291.2 1295.3,2290.9 1297.1,2291.1 1298.8,2290.5 1300.5,2290.9 1302.1,2292.2 1303.6,2293.9 1305.0,2294.7 1306.4,2296.7 1307.8,2298.3 1309.2,2299.3 1310.7,2301.8 1312.3,2303.0 1313.9,2305.0 1315.7,2306.3 1317.7,2306.9 1319.3,2307.4 1320.9,2309.0 1322.6,2308.7 1324.4,2310.2 1326.2,2310.6 1328.1,2310.9 1330.0,2311.7 1332.0,2312.0 1334.0,2312.2 1336.1,2312.0 1338.2,2312.9 1340.3,2312.3 1342.4,2313.2 1344.6,2313.4 1346.8,2313.9 1349.0,2314.1 1351.2,2314.3 1353.4,2314.8 1355.6,2315.3 1357.8,2314.5 1360.0,2315.0 1361.8,2315.0 1363.6,2316.2 1365.5,2316.1 1367.3,2316.7 1369.1,2316.1 1371.0,2316.1 1372.9,2317.2 1374.7,2317.5 1376.6,2316.9 1378.5,2317.2 1380.4,2317.0 1382.3,2318.1 1384.2,2317.5 1386.2,2317.9 1388.1,2317.6 1390.1,2318.6 1392.1,2317.9 1394.1,2318.4 1396.1,2318.8 1398.2,2319.0 1400.2,2319.4 1402.3,2318.9 1404.4,2319.4 1406.6,2318.8 1408.7,2319.2 1410.9,2319.0 1413.2,2319.6 1415.4,2319.6 1417.7,2320.4 1420.0,2319.4 1421.7,2319.9 1423.4,2320.1 1425.2,2320.8 1426.9,2320.8 1428.7,2320.0 1430.5,2320.8 1432.4,2320.8 1434.2,2321.4 1436.1,2320.7 1438.0,2320.9 1439.9,2320.7 1441.8,2320.8 1443.7,2321.7 1445.6,2321.4 1447.6,2321.7 1449.6,2321.8 1451.6,2321.8 1453.6,2321.2 1455.6,2322.3 1457.6,2321.7 1459.6,2321.6 1461.7,2322.3 1463.7,2321.8 1465.8,2322.7 1467.9,2322.1 1469.9,2322.2 1472.0,2323.1 1474.1,2322.5 1476.2,2322.4 1478.3,2323.4 1480.4,2322.4 1482.6,2323.5 1484.7,2322.8 1486.8,2322.8 1488.9,2323.1 1491.0,2323.1 1493.2,2323.7 1495.3,2323.1 1497.4,2323.1 1499.5,2324.1 1501.7,2323.5 1503.8,2323.7 1505.9,2323.6 1508.0,2323.6 1510.1,2324.5 1512.2,2324.3 1514.4,2324.6 1516.4,2324.4 1518.5,2324.8 1520.6,2324.6 1522.7,2324.1 1524.8,2324.7 1526.8,2325.3 1528.9,2324.3 1530.9,2325.2 1533.0,2325.4 1535.0,2325.0 1537.0,2325.0 1539.0,2325.7 1541.0,2324.7 1543.1,2325.2 1545.1,2325.2 1547.1,2325.6 1549.1,2325.4 1551.1,2325.9 1553.1,2325.0 1555.1,2325.0 1557.1,2325.7 1559.1,2325.1 1561.1,2325.4 1563.1,2325.9 1565.1,2325.8 1567.1,2325.6 1569.1,2326.4 1571.1,2325.9 1573.2,2325.9 1575.2,2326.1 1577.2,2325.5 1579.2,2326.3 1581.2,2326.5 1583.2,2326.3 1585.2,2326.5 1587.2,2326.4 1589.2,2325.9 1591.2,2326.2 1593.2,2325.9 1595.2,2326.1 1597.2,2326.3 1599.2,2326.3 1601.2,2325.9 1603.2,2326.3 1605.3,2326.6 1607.3,2326.3 1609.3,2326.1 1611.3,2327.0 1613.3,2326.0 1615.3,2327.0 1617.4,2326.1 1619.4,2326.1 1621.4,2326.9 1623.4,2327.0 1625.5,2326.8 1627.5,2326.8 1629.5,2326.8 1631.6,2326.6 1633.6,2326.3 1635.7,2326.6 1637.7,2327.0 1639.7,2327.2 1641.8,2327.3 1643.8,2327.2 1645.9,2327.5 1647.9,2327.1 1650.0,2326.8 1652.0,2327.1 1654.0,2326.7 1655.9,2327.3 1657.9,2326.8 1659.9,2326.6 1661.9,2327.6 1663.9,2327.0 1665.9,2327.5 1667.9,2327.3 1669.9,2327.6 1671.9,2327.7 1673.9,2327.8 1675.9,2327.7 1677.9,2327.4 1679.9,2327.5 1681.9,2326.8 1683.9,2327.9 1685.9,2327.8 1687.9,2327.1 1689.9,2327.0 1692.0,2327.7 1694.0,2327.2 1696.0,2327.3 1698.0,2326.9 1700.0,2327.9 1702.1,2327.6 1704.1,2327.4 1706.1,2327.1 1708.1,2327.7 1710.1,2327.0 1712.2,2327.9 1714.2,2327.2 1716.2,2327.5 1718.3,2327.4 1720.3,2327.5 1722.3,2327.9 1724.3,2328.0 1726.4,2327.7 1728.4,2327.2 1730.4,2327.2 1732.5,2327.3 1734.5,2327.9 1736.5,2327.9 1738.6,2327.5 1740.6,2328.0 1742.6,2327.8 1744.6,2327.7 1746.7,2327.5 1748.7,2328.1 1750.7,2327.4 1752.8,2327.8 1754.8,2327.6 1756.8,2328.1 1758.8,2327.9 1760.9,2328.1 1762.9,2327.4 1764.9,2327.8 1766.9,2328.1 1768.9,2327.4 1771.0,2327.7 1773.0,2327.6 1775.0,2327.6" fill="none" stroke="#ff0000" stroke-width="4.3" stroke-linejoin="round" stroke-linecap="round"/>
<polyline points="181.4,2562.9 183.4,2563.6 185.4,2562.9 187.4,2563.1 189.4,2563.3 191.4,2563.3 193.4,2562.8 195.4,2562.7 197.3,2562.1 199.3,2562.4 201.3,2562.3 203.4,2562.7 205.4,2562.3 207.4,2562.4 209.5,2561.9 211.6,2561.5 213.7,2562.2 215.8,2562.0 217.9,2561.4 220.0,2560.9 222.2,2561.3 224.3,2561.2 226.4,2561.4 228.5,2561.1 230.7,2560.9 232.8,2560.9 234.9,2560.7 237.0,2560.2 239.1,2560.2 241.2,2561.3 243.3,2561.2 245.3,2560.5 247.4,2561.2 249.5,2560.8 251.6,2560.4 253.7,2561.3 255.8,2561.0 257.9,2561.4 260.1,2561.1 262.3,2560.3 264.3,2560.9 266.3,2561.1 268.4,2561.1 270.5,2560.4 272.6,2560.6 274.7,2560.7 276.8,2560.0 279.0,2560.7 281.1,2560.6 283.2,2559.6 285.3,2560.1 287.4,2559.8 289.4,2559.4 291.4,2559.8 293.3,2560.1 295.2,2559.5 297.4,2558.7 299.4,2558.9 301.5,2559.0 303.4,2558.9 305.4,2558.3 307.3,2557.1 309.2,2557.9 311.1,2557.2 313.1,2556.4 315.1,2556.3 317.2,2556.2 319.2,2556.9 321.3,2556.4 323.5,2557.4 325.7,2556.9 328.0,2557.7 330.2,2557.9 332.4,2557.8 334.6,2558.0 336.8,2559.4 338.9,2559.7 340.9,2558.9 342.8,2559.7 344.6,2560.0 347.2,2559.7 349.6,2559.4 351.8,2558.4 354.0,2558.4 356.1,2557.5 358.3,2557.2 360.1,2556.2 361.9,2555.6 363.7,2554.7 365.6,2553.1 367.3,2552.4 369.0,2550.5 370.6,2549.4 372.0,2548.9 373.3,2546.9 374.5,2545.8 375.7,2544.1 376.7,2542.1 377.7,2540.7 378.6,2539.3 379.5,2536.6 380.3,2534.5 380.9,2532.7 381.4,2531.0 381.8,2529.9 382.3,2527.9 382.6,2526.3 383.0,2523.9 383.3,2522.1 383.6,2519.1 383.9,2516.9 384.2,2514.8 384.5,2512.7 384.7,2511.2 385.0,2508.1 385.2,2506.2 385.5,2503.5 385.8,2501.2 386.1,2499.9 386.3,2498.1 386.5,2496.0 386.8,2494.5 387.0,2492.5 387.2,2490.7 387.4,2488.2 387.6,2485.9 387.8,2483.7 388.0,2482.5 388.2,2479.7 388.4,2477.5 388.6,2476.2 388.8,2473.4 389.0,2471.9 389.2,2469.2 389.3,2467.3 389.5,2464.6 389.7,2462.8 389.9,2460.4 390.0,2458.5 390.2,2456.6 390.3,2455.3 390.5,2453.6 390.6,2451.1 390.7,2449.0 390.9,2447.3 391.0,2445.9 391.1,2443.4 391.2,2441.9 391.4,2439.2 391.5,2437.9 391.6,2435.2 391.8,2433.3 391.9,2431.8 392.0,2429.4 392.1,2427.6 392.2,2425.0 392.4,2423.4 392.5,2420.9 392.6,2419.0 392.7,2416.8 392.8,2415.3 392.9,2413.0 393.0,2410.7 393.2,2408.9 393.3,2406.5 393.4,2404.6 393.5,2402.3 393.6,2400.3 393.7,2397.8 393.8,2396.6 393.9,2394.2 394.0,2392.4 394.1,2390.1 394.2,2387.4 394.3,2385.4 394.4,2384.3 394.5,2382.0 394.5,2380.2 394.6,2378.1 394.7,2375.2 394.8,2374.0 394.9,2371.5 394.9,2369.5 395.0,2367.1 395.1,2364.7 395.2,2362.9 395.2,2360.8 395.3,2358.5 395.4,2356.5 395.4,2354.5 395.5,2352.2 395.6,2350.0 395.7,2348.8 395.7,2346.2 395.8,2344.2 395.9,2342.7 395.9,2340.6 396.0,2338.4 396.1,2336.2 396.2,2334.9 396.3,2332.3 396.3,2330.7 396.4,2328.8 396.5,2327.7 396.6,2325.0 396.7,2323.6 396.8,2321.2 396.9,2318.3 397.1,2316.2 397.2,2314.8 397.3,2312.4 397.4,2309.5 397.5,2307.3 397.7,2306.0 397.8,2303.5 397.9,2301.5 398.0,2299.7 398.2,2296.9 398.3,2295.1 398.5,2293.7 398.6,2290.9 398.8,2289.1 398.9,2288.0 399.1,2286.1 399.3,2284.0 399.5,2281.9 399.8,2280.0 400.2,2276.6 400.5,2274.2 400.9,2270.8 401.3,2268.2 401.7,2266.6 402.1,2264.5 402.4,2263.4 402.8,2263.0 403.1,2263.3 403.4,2264.2 403.6,2265.7 403.9,2266.7 404.2,2269.4 404.4,2271.5 404.7,2274.4 405.0,2276.4 405.2,2279.7 405.5,2282.0 405.8,2285.4 406.0,2288.1 406.3,2290.6 406.5,2292.1 406.7,2294.4 406.8,2295.5 407.0,2297.1 407.2,2299.3 407.3,2301.0 407.5,2304.1 407.7,2306.1 407.8,2307.5 408.0,2310.2 408.2,2311.8 408.3,2314.8 408.5,2316.5 408.7,2318.3 408.9,2321.3 409.0,2322.9 409.2,2326.1 409.4,2328.3 409.6,2330.1 409.7,2331.8 409.9,2334.6 410.1,2335.8 410.3,2337.9 410.5,2340.1 410.7,2341.8 410.9,2344.6 411.1,2346.2 411.4,2348.1 411.6,2349.5 411.8,2350.6 412.2,2353.2 412.6,2356.3 413.1,2359.2 413.5,2361.7 414.0,2363.9 414.4,2366.8 414.9,2368.5 415.3,2370.5 415.7,2372.1 416.1,2372.7 416.5,2372.8 416.8,2372.7 417.0,2371.6 417.3,2370.8 417.5,2369.9 417.7,2367.8 418.0,2365.3 418.2,2364.1 418.3,2361.0 418.5,2358.3 418.7,2356.3 418.9,2353.8 419.1,2350.2 419.3,2347.8 419.4,2345.0 419.6,2341.9 419.8,2339.9 420.0,2336.9 420.1,2335.7 420.3,2333.7 420.4,2331.9 420.5,2329.7 420.6,2328.5 420.8,2325.6 420.9,2324.0 421.0,2321.8 421.1,2319.7 421.2,2317.6 421.3,2316.1 421.4,2313.5 421.6,2311.4 421.7,2309.6 421.8,2307.8 421.9,2305.1 422.0,2303.5 422.1,2301.2 422.2,2299.5 422.3,2297.2 422.5,2295.2 422.6,2292.3 422.7,2290.8 422.8,2288.0 422.9,2285.9 423.1,2284.0 423.2,2281.5 423.3,2280.3 423.5,2277.5 423.6,2276.2 423.7,2273.6 423.9,2272.2 424.0,2270.1 424.2,2269.1 424.4,2266.0 424.6,2263.6 424.8,2261.0 425.0,2258.2 425.3,2256.1 425.5,2253.0 425.7,2250.3 425.9,2247.6 426.2,2245.0 426.4,2243.0 426.6,2239.9 426.9,2237.4 427.1,2235.4 427.4,2233.7 427.6,2231.5 427.8,2229.7 428.1,2228.6 428.3,2228.2 428.6,2227.3 428.8,2226.2 429.1,2226.0 429.4,2226.0 429.8,2227.3 430.1,2228.5 430.5,2229.6 430.8,2231.9 431.2,2233.4 431.6,2236.1 431.9,2238.6 432.3,2241.9 432.6,2244.4 432.9,2247.1 433.2,2249.7 433.5,2252.5 433.8,2254.9 434.0,2256.3 434.1,2258.8 434.3,2260.5 434.4,2261.8 434.6,2263.7 434.7,2266.2 434.8,2267.0 434.9,2269.8 435.0,2271.0 435.1,2273.0 435.2,2275.2 435.3,2277.6 435.3,2279.3 435.4,2281.6 435.5,2283.6 435.6,2286.2 435.6,2287.9 435.7,2289.7 435.8,2292.3 435.9,2294.3 435.9,2296.2 436.0,2298.9 436.1,2300.2 436.2,2303.6 436.3,2305.7 436.4,2306.9 436.5,2310.0 436.6,2311.1 436.7,2314.0 436.8,2315.2 436.9,2317.4 436.9,2318.8 437.0,2321.2 437.1,2322.4 437.2,2325.3 437.3,2326.7 437.4,2328.6 437.5,2331.0 437.5,2333.1 437.6,2334.6 437.7,2336.8 437.8,2339.2 437.9,2341.4 438.0,2343.7 438.1,2345.1 438.2,2348.1 438.3,2349.6 438.4,2352.5 438.5,2353.9 438.6,2356.1 438.7,2358.1 438.8,2359.8 438.9,2362.9 439.0,2364.6 439.1,2366.9 439.2,2368.2 439.3,2370.7 439.4,2372.5 439.5,2374.5 439.6,2376.6 439.7,2378.9 439.8,2380.6 440.0,2382.9 440.1,2385.1 440.2,2386.6 440.3,2388.7 440.5,2390.7 440.6,2392.6 440.8,2394.1 440.9,2396.9 441.1,2398.9 441.3,2400.3 441.5,2403.4 441.7,2405.7 441.9,2407.8 442.0,2409.3 442.2,2411.8 442.4,2414.1 442.6,2415.7 442.8,2418.0 443.0,2419.7 443.2,2422.4 443.5,2424.0 443.7,2425.6 443.9,2427.8 444.1,2430.0 444.3,2431.7 444.5,2433.6 444.7,2435.9 445.0,2437.4 445.2,2439.5 445.4,2440.9 445.6,2443.0 445.9,2444.6 446.1,2446.9 446.4,2448.9 446.6,2451.1 446.9,2452.8 447.2,2456.0 447.5,2457.2 447.7,2459.0 448.0,2461.7 448.3,2463.0 448.5,2465.6 448.8,2468.0 449.1,2468.9 449.4,2471.3 449.8,2473.7 450.1,2474.9 450.4,2476.6 450.8,2478.4 451.2,2481.0 451.6,2482.9 452.1,2484.6 452.5,2486.6 453.0,2489.4 453.5,2490.6 454.0,2493.3 454.5,2495.3 455.0,2496.9 455.6,2499.3 456.2,2500.7 456.8,2503.3 457.5,2504.9 458.2,2506.6 459.0,2508.7 459.8,2510.2 460.8,2512.4 461.8,2513.8 462.9,2515.8 464.0,2518.4 465.2,2519.7 466.4,2521.4 467.7,2523.7 469.1,2524.8 470.5,2526.4 472.0,2528.0 473.6,2528.7 475.3,2530.7 477.0,2531.3 478.9,2531.4 480.9,2532.0 482.9,2532.8 484.9,2533.4 487.0,2534.3 489.1,2534.8 491.3,2535.2 493.4,2535.7 495.5,2536.1 497.4,2536.2 499.3,2537.2 501.2,2538.4 503.1,2538.2 505.0,2539.2 507.0,2539.7 509.0,2540.8 511.0,2541.6 513.0,2542.5 514.9,2542.8 516.9,2543.9 518.9,2544.1 520.9,2545.5 522.9,2546.1 524.8,2546.1 526.8,2547.2 528.7,2547.4 530.7,2547.7 532.6,2548.2 534.6,2548.4 536.5,2548.4 538.5,2549.7 540.5,2549.2 542.4,2550.4 544.4,2550.1 546.4,2550.6 548.4,2551.0 550.4,2551.0 552.4,2552.1 554.4,2552.2 556.3,2552.0 558.3,2552.2 560.2,2553.1 562.1,2553.4 564.0,2553.0 566.0,2552.9 568.1,2553.6 570.2,2553.8 572.5,2553.9 574.8,2554.3 577.3,2553.8 580.0,2554.6 581.5,2554.8 583.0,2554.7 584.5,2554.1 586.1,2554.9 587.8,2555.4 589.5,2555.1 591.3,2555.0 593.1,2554.9 595.0,2554.8 596.9,2555.1 598.8,2555.8 600.7,2554.8 602.7,2555.5 604.8,2555.4 606.8,2554.9 608.9,2555.1 611.0,2555.2 613.2,2555.0 615.3,2555.0 617.5,2555.9 619.7,2555.3 621.9,2555.8 624.1,2555.6 626.3,2555.6 628.6,2555.6 630.8,2555.1 633.0,2555.1 635.3,2555.2 637.5,2556.0 639.7,2555.8 642.0,2556.1 644.2,2555.8 646.4,2555.2 648.6,2555.6 650.8,2555.6 652.9,2555.1 655.1,2555.2 657.2,2555.7 659.3,2554.9 661.3,2554.6 663.4,2555.6 665.4,2554.9 667.4,2555.1 669.3,2555.5 671.2,2554.4 673.1,2554.4 674.9,2554.4 676.7,2554.2 678.4,2554.4 680.7,2553.7 683.0,2554.5 685.2,2554.6 687.4,2553.5 689.6,2553.5 691.7,2553.4 693.9,2553.6 696.0,2553.1 698.1,2553.5 700.1,2553.4 702.2,2552.4 704.2,2552.0 706.2,2552.4 708.2,2551.6 710.1,2551.7 712.1,2551.2 714.0,2551.7 715.9,2550.9 717.8,2551.1 719.7,2550.5 721.6,2550.4 723.4,2549.9 725.3,2549.6 727.1,2549.1 728.9,2548.8 730.7,2547.8 732.5,2547.0 734.5,2546.5 736.5,2546.5 738.5,2545.0 740.4,2545.1 742.4,2543.5 744.3,2542.7 746.2,2542.8 748.1,2542.0 749.9,2541.3 751.8,2539.9 753.6,2539.4 755.4,2538.6 757.2,2537.0 758.9,2536.0 760.6,2534.9 762.3,2534.2 764.0,2533.7 765.7,2532.0 767.3,2531.7 768.9,2530.3 770.5,2529.5 772.2,2527.5 773.8,2527.0 775.4,2525.4 776.9,2523.1 778.4,2521.9 779.9,2520.2 781.4,2519.0 782.8,2517.7 784.2,2516.6 785.6,2514.9 787.0,2512.7 788.3,2511.4 789.7,2509.7 791.0,2507.5 792.3,2506.2 793.7,2504.9 795.0,2503.3 796.3,2502.0 797.6,2500.0 799.0,2499.2 800.3,2497.4 801.6,2494.9 802.9,2493.0 804.2,2491.3 805.4,2489.7 806.7,2488.0 807.9,2486.2 809.2,2484.7 810.4,2483.1 811.6,2480.6 812.9,2479.2 814.1,2478.0 815.4,2476.7 816.6,2475.7 817.9,2474.5 819.2,2473.0 821.2,2471.8 823.3,2469.9 825.4,2468.8 827.5,2468.0 829.6,2467.0 831.6,2465.5 833.6,2466.1 835.5,2466.2 836.9,2467.1 838.2,2467.0 839.5,2468.0 840.8,2469.8 842.1,2472.2 843.3,2473.1 844.5,2475.3 845.7,2476.8 846.9,2479.1 848.1,2481.4 849.3,2482.9 850.5,2484.4 851.7,2486.8 852.9,2487.9 854.0,2489.6 855.1,2491.6 856.1,2493.7 857.1,2495.4 858.2,2498.2 859.2,2499.8 860.3,2501.8 861.4,2503.5 862.6,2504.8 863.8,2506.1 865.1,2507.7 866.5,2509.3 868.0,2510.9 869.6,2512.4 871.3,2513.8 873.1,2515.2 874.9,2516.1 876.9,2516.8 878.8,2517.9 880.8,2519.0 882.9,2519.8 884.9,2520.1 887.0,2520.8 889.1,2521.4 891.1,2521.9 893.1,2521.8 895.1,2522.0 897.2,2522.5 899.3,2521.6 901.3,2521.4 903.4,2521.8 905.5,2520.8 907.6,2520.3 909.7,2519.4 911.8,2518.3 913.9,2518.2 916.0,2517.7 918.1,2516.5 920.2,2515.3 922.2,2514.4 924.0,2513.6 925.9,2513.8 927.7,2512.6 929.5,2512.0 931.4,2511.1 933.2,2509.2 935.0,2508.8 936.8,2507.3 938.6,2506.4 940.4,2505.3 942.2,2504.6 944.0,2503.3 945.7,2501.9 947.5,2501.7 949.3,2500.6 951.0,2499.2 952.8,2498.4 954.5,2496.9 956.3,2495.2 958.1,2494.8 959.8,2493.2 961.6,2491.8 963.3,2490.2 965.1,2489.8 966.8,2487.9 968.5,2487.5 970.1,2485.4 971.8,2484.3 973.3,2483.6 974.9,2482.6 976.4,2481.8 978.4,2479.6 980.3,2477.7 982.2,2476.9 984.1,2474.8 985.9,2473.0 987.6,2471.9 989.3,2471.0 991.0,2470.0 992.6,2471.0 994.3,2471.2 995.9,2471.8 997.4,2473.1 998.9,2474.2 1000.4,2476.6 1001.9,2478.2 1003.5,2480.6 1004.8,2481.2 1006.0,2483.0 1007.2,2485.2 1008.5,2487.3 1009.8,2488.6 1011.0,2490.2 1012.4,2492.5 1013.7,2494.7 1015.1,2495.3 1016.6,2497.1 1018.1,2498.5 1019.7,2500.3 1021.4,2501.8 1023.3,2502.3 1025.2,2504.0 1027.1,2504.0 1029.1,2504.9 1031.2,2505.9 1033.2,2507.3 1035.3,2507.6 1037.3,2507.4 1039.4,2508.5 1041.4,2508.9 1043.4,2508.3 1045.4,2508.2 1047.4,2508.3 1049.5,2506.9 1051.5,2506.4 1053.6,2506.4 1055.6,2505.0 1057.5,2504.9 1059.5,2503.4 1061.3,2503.0 1063.1,2502.8 1065.5,2502.3 1067.9,2501.2 1070.1,2500.2 1072.3,2499.7 1074.5,2500.4 1076.6,2500.0 1078.4,2500.7 1080.0,2502.2 1081.7,2503.4 1083.3,2504.6 1084.9,2506.0 1086.6,2507.9 1088.3,2510.0 1090.2,2511.2 1091.7,2511.9 1093.2,2513.1 1094.7,2514.8 1096.2,2516.2 1097.8,2516.7 1099.4,2518.1 1101.1,2519.1 1102.8,2520.7 1104.5,2521.8 1106.2,2523.2 1108.1,2524.3 1109.9,2525.2 1111.8,2526.2 1113.6,2526.4 1115.4,2526.6 1117.2,2528.1 1119.1,2527.8 1121.0,2528.4 1123.0,2529.5 1125.0,2530.0 1127.0,2530.6 1129.0,2530.3 1131.1,2531.3 1133.2,2531.2 1135.4,2531.0 1137.5,2532.2 1139.8,2532.4 1142.0,2532.3 1144.3,2532.6 1146.1,2532.4 1147.9,2533.3 1149.8,2532.8 1151.8,2532.8 1153.8,2533.5 1155.9,2532.9 1158.0,2533.2 1160.1,2533.0 1162.3,2532.9 1164.4,2532.9 1166.6,2532.7 1168.8,2532.0 1171.0,2532.4 1173.2,2532.4 1175.4,2531.6 1177.5,2531.5 1179.7,2532.6 1181.8,2531.7 1183.9,2531.4 1185.9,2531.4 1187.9,2531.8 1189.8,2532.4 1191.7,2532.4 1193.5,2532.1 1195.3,2532.5 1196.9,2532.7 1198.5,2533.0 1200.9,2533.7 1203.1,2533.6 1205.1,2534.5 1207.1,2535.5 1208.9,2536.3 1210.8,2537.3 1212.6,2537.2 1214.4,2538.8 1216.2,2539.7 1218.2,2540.3 1220.2,2541.0 1222.0,2541.3 1223.9,2542.1 1225.8,2542.6 1227.7,2543.1 1229.6,2543.9 1231.6,2544.6 1233.5,2546.5 1235.5,2546.6 1237.5,2547.7 1239.4,2547.7 1241.4,2548.4 1243.4,2548.8 1245.3,2548.3 1247.3,2549.1 1249.4,2548.5 1251.5,2548.5 1253.6,2548.5 1255.7,2549.0 1257.8,2548.5 1259.9,2547.3 1262.0,2547.0 1264.1,2546.5 1266.2,2545.8 1268.3,2545.3 1270.4,2544.7 1272.4,2544.6 1274.4,2544.1 1276.4,2542.5 1278.4,2542.1 1280.5,2540.5 1282.5,2540.2 1284.6,2538.8 1286.6,2537.4 1288.6,2536.3 1290.5,2534.7 1292.4,2533.4 1294.2,2533.4 1295.8,2532.2 1297.4,2533.0 1298.8,2533.3 1300.5,2533.9 1302.0,2534.7 1303.2,2536.5 1304.3,2539.4 1305.5,2541.8 1306.7,2543.6 1308.0,2545.0 1309.8,2546.4 1311.6,2548.2 1313.5,2549.2 1315.5,2550.1 1317.7,2551.7 1319.5,2552.6 1321.3,2553.5 1323.3,2554.2 1325.3,2554.4 1327.4,2555.3 1329.5,2556.2 1331.7,2557.0 1334.0,2557.3 1335.8,2557.4 1337.6,2557.2 1339.4,2558.1 1341.3,2558.4 1343.3,2558.8 1345.2,2559.1 1347.3,2559.3 1349.3,2559.5 1351.4,2559.9 1353.5,2559.9 1355.6,2560.8 1357.8,2560.5 1360.0,2561.5 1361.8,2561.8 1363.6,2561.8 1365.4,2561.3 1367.2,2562.4 1369.0,2562.7 1370.8,2561.9 1372.6,2563.0 1374.5,2563.3 1376.4,2563.1 1378.3,2563.2 1380.3,2563.2 1382.3,2564.5 1384.3,2564.0 1386.4,2564.8 1388.5,2564.3 1390.7,2565.2 1392.9,2564.8 1395.2,2565.4 1397.6,2565.2 1400.0,2565.6 1401.6,2566.0 1403.2,2565.5 1404.8,2565.8 1406.5,2566.0 1408.2,2566.1 1409.9,2566.2 1411.7,2566.1 1413.4,2566.1 1415.3,2566.9 1417.1,2566.7 1419.0,2567.2 1420.9,2566.5 1422.8,2567.6 1424.7,2566.6 1426.7,2566.6 1428.7,2567.8 1430.7,2567.1 1432.7,2567.4 1434.7,2567.3 1436.7,2567.2 1438.8,2568.1 1440.9,2568.1 1443.0,2567.7 1445.1,2567.8 1447.2,2567.7 1449.3,2568.2 1451.4,2568.1 1453.5,2567.9 1455.7,2567.5 1457.8,2568.5 1460.0,2568.3 1462.1,2568.0 1464.3,2568.5 1466.4,2568.4 1468.6,2567.8 1470.7,2568.0 1472.9,2567.9 1475.0,2568.7 1477.1,2568.2 1479.3,2568.9 1481.4,2569.1 1483.5,2568.7 1485.6,2568.5 1487.7,2568.5 1489.8,2568.6 1491.9,2568.9 1493.9,2568.7 1496.0,2568.6 1498.0,2568.9 1500.0,2568.6 1502.0,2569.2 1504.0,2569.2 1506.0,2568.6 1507.9,2569.4 1509.9,2569.5 1511.8,2568.8 1513.8,2569.4 1515.7,2569.5 1517.6,2569.1 1519.6,2569.7 1521.5,2568.8 1523.4,2569.1 1525.3,2569.2 1527.2,2569.2 1529.1,2569.9 1531.0,2569.4 1532.9,2569.6 1534.8,2569.2 1536.8,2569.9 1538.7,2569.7 1540.6,2569.6 1542.5,2569.7 1544.4,2569.6 1546.3,2569.7 1548.3,2569.2 1550.2,2569.9 1552.1,2569.2 1554.1,2569.4 1556.0,2569.6 1558.0,2569.2 1560.0,2569.5 1561.9,2569.6 1563.9,2570.0 1565.9,2569.6 1568.0,2570.2 1570.0,2569.9 1572.0,2570.1 1574.1,2569.8 1576.1,2569.7 1578.2,2570.2 1580.3,2570.3 1582.4,2569.5 1584.6,2569.4 1586.7,2570.4 1588.9,2569.9 1591.1,2570.0 1593.3,2569.9 1595.5,2569.9 1597.7,2570.0 1600.0,2570.2 1601.7,2570.2 1603.5,2570.2 1605.3,2570.5 1607.0,2570.1 1608.8,2570.5 1610.6,2569.6 1612.4,2569.6 1614.2,2569.6 1616.1,2570.2 1617.9,2570.0 1619.8,2569.7 1621.6,2570.7 1623.5,2570.4 1625.4,2570.3 1627.3,2569.8 1629.2,2569.6 1631.1,2569.7 1633.0,2570.6 1635.0,2569.8 1636.9,2569.9 1638.9,2570.5 1640.8,2570.2 1642.8,2570.1 1644.8,2570.6 1646.7,2570.1 1648.7,2570.8 1650.7,2569.9 1652.7,2570.4 1654.7,2570.2 1656.7,2570.1 1658.8,2569.8 1660.8,2570.0 1662.8,2570.3 1664.9,2570.6 1666.9,2570.1 1669.0,2570.3 1671.0,2570.4 1673.1,2570.3 1675.1,2570.3 1677.2,2570.2 1679.3,2570.4 1681.3,2569.9 1683.4,2570.7 1685.5,2570.6 1687.6,2570.7 1689.7,2570.6 1691.8,2570.7 1693.9,2571.0 1695.9,2570.7 1698.0,2570.4 1700.1,2570.8 1702.2,2570.2 1704.3,2570.8 1706.4,2570.9 1708.6,2570.5 1710.7,2571.0 1712.8,2570.9 1714.9,2570.9 1717.0,2571.2 1719.1,2570.6 1721.2,2570.1 1723.3,2570.5 1725.4,2570.6 1727.5,2571.1 1729.6,2570.2 1731.7,2570.4 1733.8,2570.8 1735.9,2570.6 1738.0,2570.8 1740.1,2570.8 1742.1,2570.8 1744.2,2570.7 1746.3,2571.1 1748.4,2571.2 1750.5,2570.7 1752.5,2570.5 1754.6,2571.3 1756.7,2570.7 1758.7,2570.6 1760.8,2571.3 1762.8,2570.5 1764.9,2570.6 1766.9,2571.0 1768.9,2571.3 1771.0,2570.5 1773.0,2571.0 1775.0,2570.3" fill="none" stroke="#0000ff" stroke-width="4.3" stroke-linejoin="round" stroke-linecap="round"/>
<polyline points="181.4,2735.5 183.4,2735.5 185.5,2735.7 187.5,2734.8 189.6,2734.7 191.6,2734.1 193.7,2733.7 195.7,2732.9 197.6,2732.2 199.6,2731.6 201.5,2731.0 203.5,2729.6 205.4,2728.1 207.4,2727.3 209.6,2726.7 211.8,2725.3 214.0,2724.1 216.2,2724.3 218.4,2723.5 220.6,2722.7 222.6,2722.9 224.6,2723.3 226.6,2725.1 228.7,2724.9 230.7,2726.4 232.8,2727.7 234.9,2727.3 236.9,2728.5 238.8,2729.4 240.8,2730.8 242.8,2730.8 244.8,2731.8 246.9,2732.5 249.1,2733.0 251.3,2734.4 253.1,2735.0 255.0,2734.9 256.9,2734.7 258.9,2735.8 260.9,2736.1 262.9,2736.2 265.0,2736.0 267.1,2736.8 269.2,2736.7 271.4,2736.8 273.7,2736.9 276.0,2736.7 277.8,2737.1 279.7,2737.6 281.6,2737.5 283.6,2737.2 285.6,2737.8 287.6,2737.9 289.6,2737.0 291.7,2737.2 293.8,2737.3 295.9,2737.1 298.1,2738.0 300.2,2737.9 302.4,2737.8 304.5,2738.4 306.7,2737.6 308.8,2737.4 310.9,2737.3 313.0,2737.6 315.1,2738.2 317.2,2737.9 319.3,2737.3 321.4,2737.7 323.6,2737.3 325.7,2738.0 327.9,2737.5 330.1,2737.6 332.3,2738.2 334.6,2738.4 336.8,2738.2 338.9,2737.8 341.1,2738.3 343.2,2737.8 345.3,2737.4 347.4,2737.7 349.4,2738.1 351.3,2737.9 353.2,2737.3 355.0,2737.9 356.7,2737.6 358.3,2736.7 360.8,2737.1 363.2,2735.8 365.4,2735.0 367.5,2734.9 369.5,2734.6 371.4,2733.5 373.1,2732.6 374.8,2731.5 376.5,2730.0 378.1,2728.5 379.4,2727.1 380.7,2725.6 381.9,2724.3 383.0,2721.4 383.9,2719.8 384.7,2718.8 385.4,2716.6 386.1,2713.8 386.7,2712.2 387.3,2710.2 387.9,2708.3 388.5,2704.9 388.9,2704.1 389.3,2702.2 389.8,2699.7 390.1,2698.0 390.5,2696.4 390.9,2693.6 391.3,2692.1 391.6,2689.8 392.0,2687.1 392.3,2685.2 392.7,2683.3 393.0,2680.9 393.3,2679.8 393.7,2676.9 394.0,2674.9 394.3,2673.1 394.7,2670.8 395.0,2668.3 395.2,2666.1 395.5,2664.1 395.8,2662.3 396.1,2659.1 396.3,2658.0 396.6,2655.9 397.0,2653.6 397.3,2651.7 397.7,2649.4 398.1,2648.4 398.8,2645.4 399.6,2642.6 400.4,2639.6 401.2,2637.1 402.0,2636.2 402.8,2635.7 403.5,2635.4 404.2,2637.2 404.8,2639.7 405.5,2641.9 406.2,2644.7 406.9,2647.6 407.7,2649.9 408.4,2652.1 409.1,2654.7 409.8,2657.4 410.6,2660.2 411.3,2662.5 412.1,2664.8 412.9,2668.1 413.7,2669.8 414.5,2671.4 415.2,2672.4 415.9,2672.3 416.5,2672.3 417.2,2671.0 417.8,2670.0 418.4,2668.3 418.9,2665.1 419.5,2663.6 420.1,2660.2 420.6,2657.3 421.2,2654.7 421.7,2652.6 422.3,2650.5 422.8,2648.3 423.3,2645.3 423.8,2643.2 424.3,2641.3 424.8,2638.6 425.3,2635.9 425.8,2632.5 426.2,2630.1 426.7,2627.6 427.2,2625.7 427.7,2624.1 428.1,2623.2 428.6,2622.2 429.1,2621.3 429.8,2621.8 430.5,2623.6 431.1,2626.3 431.8,2628.4 432.5,2631.6 433.2,2634.4 433.8,2637.3 434.2,2638.5 434.6,2640.1 435.0,2642.1 435.4,2644.4 435.8,2645.7 436.2,2647.6 436.6,2650.4 437.0,2652.1 437.4,2654.3 437.8,2655.8 438.1,2657.7 438.5,2660.0 438.9,2662.2 439.3,2663.7 439.7,2666.1 440.1,2669.1 440.4,2670.6 440.8,2672.3 441.1,2675.4 441.5,2676.9 441.9,2678.9 442.3,2681.6 442.7,2683.8 443.1,2685.4 443.6,2688.0 444.1,2690.2 444.7,2691.5 445.4,2693.8 446.0,2695.4 446.7,2698.3 447.4,2700.1 448.2,2702.6 449.0,2704.8 449.9,2706.3 450.8,2708.6 451.9,2710.8 453.0,2711.6 454.3,2714.0 455.7,2715.1 457.1,2717.0 458.6,2717.3 460.3,2719.0 462.0,2719.9 463.7,2721.1 465.6,2722.9 467.5,2723.5 469.5,2724.2 471.5,2725.8 473.6,2725.5 475.4,2726.0 477.2,2727.4 479.1,2727.6 481.0,2728.2 483.1,2728.1 485.1,2728.9 487.2,2728.4 489.4,2728.5 491.5,2729.4 493.7,2729.1 495.9,2728.6 498.1,2728.7 500.4,2728.8 502.6,2729.8 504.8,2729.9 507.0,2729.4 509.2,2730.5 511.2,2730.6 513.2,2730.7 515.3,2730.9 517.4,2730.9 519.4,2731.4 521.5,2731.3 523.7,2732.2 525.8,2732.0 527.9,2732.3 530.0,2732.9 532.1,2733.1 534.3,2732.8 536.4,2732.5 538.4,2733.2 540.5,2733.9 542.5,2733.2 544.6,2733.4 546.5,2733.6 548.5,2733.7 550.4,2734.6 552.6,2734.4 554.8,2734.0 556.8,2734.7 558.8,2735.0 560.8,2734.4 562.8,2734.7 564.7,2734.6 566.7,2735.5 568.7,2735.2 570.8,2734.8 572.9,2735.2 575.1,2735.1 577.5,2735.6 580.0,2735.4 581.6,2735.4 583.3,2735.2 585.0,2734.9 586.8,2735.1 588.7,2735.5 590.5,2735.3 592.4,2735.3 594.4,2734.7 596.4,2734.4 598.4,2735.2 600.5,2735.0 602.5,2734.8 604.6,2735.1 606.8,2734.2 608.9,2734.5 611.1,2733.9 613.2,2734.1 615.4,2734.3 617.6,2733.6 619.8,2733.7 622.0,2734.0 624.2,2733.2 626.4,2732.7 628.6,2733.4 630.7,2732.9 632.9,2732.3 635.1,2732.1 637.2,2731.7 639.3,2731.6 641.4,2732.5 643.4,2731.8 645.4,2731.9 647.4,2731.1 649.4,2731.7 651.3,2731.3 653.4,2731.4 655.6,2730.7 657.7,2731.1 659.8,2730.5 661.9,2729.8 664.0,2730.6 666.0,2729.7 668.1,2730.2 670.2,2729.6 672.2,2729.3 674.2,2729.2 676.3,2728.9 678.3,2728.3 680.3,2728.1 682.3,2727.9 684.2,2728.7 686.2,2727.9 688.2,2727.3 690.1,2727.5 692.1,2727.6 694.0,2727.4 696.0,2727.5 697.9,2726.5 699.8,2727.0 701.7,2725.6 703.6,2725.6 705.5,2725.7 707.6,2725.6 709.7,2725.0 711.7,2725.2 713.8,2724.7 715.8,2723.8 717.9,2724.0 719.9,2724.1 721.9,2723.4 723.9,2723.1 725.9,2723.4 727.9,2722.9 729.8,2723.2 731.8,2722.8 733.7,2721.7 735.7,2721.0 737.6,2720.7 739.5,2720.6 741.4,2720.0 743.3,2719.5 745.1,2718.4 747.0,2718.0 748.8,2717.4 750.6,2717.0 752.4,2715.4 754.1,2715.1 755.9,2713.9 757.7,2713.3 759.4,2712.2 761.1,2710.5 762.9,2710.0 764.6,2708.4 766.3,2707.8 767.9,2705.6 769.6,2704.7 771.3,2703.7 772.9,2702.2 774.5,2701.0 776.1,2699.9 777.7,2698.1 779.2,2697.5 780.8,2695.5 782.3,2694.7 783.8,2693.6 785.3,2691.3 786.7,2690.9 788.2,2688.6 789.6,2687.4 791.1,2685.5 792.4,2684.9 793.8,2682.6 795.2,2681.2 796.5,2680.1 797.8,2677.4 799.1,2675.7 800.3,2674.7 801.6,2672.3 802.8,2670.7 804.0,2669.2 805.3,2667.3 806.5,2666.1 807.7,2664.3 808.9,2663.8 810.1,2661.9 811.3,2659.9 812.6,2659.4 813.8,2657.6 815.4,2656.7 817.0,2654.0 818.6,2652.4 820.2,2651.0 821.8,2649.9 823.4,2648.5 825.0,2647.1 826.5,2644.9 828.1,2644.1 829.7,2643.9 831.2,2643.3 832.8,2643.3 834.4,2642.5 836.0,2642.9 837.6,2644.1 839.1,2645.7 840.7,2646.8 842.3,2647.9 843.9,2649.7 845.5,2651.1 847.1,2653.3 848.6,2654.3 850.2,2656.6 851.7,2657.5 852.9,2659.4 854.1,2660.5 855.3,2662.2 856.5,2663.8 857.6,2665.2 858.7,2667.1 859.8,2669.7 861.0,2671.5 862.1,2673.4 863.2,2675.0 864.4,2677.0 865.5,2679.0 866.8,2681.0 868.0,2682.0 869.3,2684.0 870.6,2685.5 872.0,2686.9 873.4,2687.9 875.1,2688.7 876.9,2690.6 878.7,2691.4 880.6,2692.7 882.5,2693.8 884.5,2694.1 886.5,2694.8 888.5,2696.4 890.5,2696.9 892.5,2696.7 894.5,2697.3 896.5,2698.1 898.5,2698.6 900.5,2698.1 902.4,2698.8 904.3,2698.3 906.3,2698.4 908.2,2697.6 910.1,2697.1 912.1,2696.5 914.0,2696.5 915.9,2695.7 917.9,2694.3 919.8,2693.5 921.7,2693.5 923.7,2691.9 925.6,2691.8 927.6,2691.0 929.3,2689.9 931.0,2688.2 932.7,2687.2 934.4,2687.1 936.1,2685.5 937.8,2684.0 939.5,2682.9 941.2,2682.0 942.9,2680.7 944.7,2679.2 946.4,2678.8 948.1,2676.8 949.8,2675.8 951.5,2675.1 953.2,2673.9 955.0,2672.7 956.7,2670.8 958.4,2669.6 960.1,2668.9 961.8,2668.0 963.6,2666.6 965.4,2665.2 967.2,2663.3 969.0,2662.1 970.8,2660.8 972.6,2658.9 974.4,2656.8 976.2,2656.1 978.0,2653.6 979.8,2652.2 981.6,2651.3 983.3,2650.2 985.0,2649.9 986.6,2648.8 988.2,2647.7 989.7,2647.4 991.2,2647.0 992.6,2647.6 994.3,2647.6 996.0,2648.1 997.5,2649.9 998.9,2651.2 1000.2,2652.3 1001.6,2654.8 1002.9,2655.5 1004.3,2658.4 1005.7,2659.8 1007.3,2661.6 1008.9,2663.8 1010.3,2664.5 1011.7,2666.0 1013.2,2667.2 1014.7,2669.3 1016.2,2671.0 1017.8,2672.6 1019.4,2673.6 1021.0,2676.1 1022.6,2677.2 1024.3,2678.3 1026.0,2679.8 1027.6,2681.1 1029.3,2682.3 1031.0,2683.9 1032.7,2685.1 1034.3,2685.8 1036.0,2686.7 1038.0,2687.1 1040.1,2686.8 1042.1,2687.0 1044.2,2686.8 1046.4,2686.0 1048.5,2685.9 1050.6,2684.9 1052.7,2684.5 1054.7,2684.0 1056.7,2683.5 1058.6,2682.4 1060.5,2681.4 1062.7,2680.7 1064.8,2680.6 1066.8,2679.5 1068.8,2678.9 1070.8,2677.2 1072.7,2677.4 1074.6,2677.3 1076.6,2676.9 1078.2,2676.9 1079.9,2678.5 1081.6,2678.9 1083.3,2681.1 1085.0,2682.6 1086.6,2683.7 1088.3,2686.0 1089.9,2687.1 1091.4,2689.3 1092.9,2690.2 1094.3,2692.2 1095.6,2692.6 1097.3,2694.6 1098.7,2696.2 1100.0,2698.3 1101.6,2699.5 1103.7,2699.9 1105.1,2701.0 1106.6,2702.0 1108.2,2702.7 1110.0,2702.5 1111.8,2702.6 1113.8,2703.8 1115.8,2703.4 1118.0,2704.3 1120.2,2704.3 1122.4,2704.3 1124.7,2704.5 1127.0,2705.3 1129.4,2705.1 1131.8,2706.1 1134.2,2706.5 1136.5,2706.7 1138.9,2706.7 1140.7,2707.0 1142.6,2707.5 1144.4,2706.9 1146.4,2707.4 1148.3,2706.9 1150.3,2707.6 1152.3,2708.0 1154.4,2707.3 1156.5,2707.7 1158.6,2707.1 1160.7,2708.1 1162.8,2707.0 1164.9,2707.2 1167.1,2707.4 1169.2,2707.8 1171.4,2707.5 1173.6,2707.0 1175.7,2707.7 1177.9,2707.1 1180.0,2707.4 1182.1,2708.3 1184.3,2707.8 1186.4,2707.3 1188.5,2707.8 1190.5,2708.0 1192.6,2708.1 1194.6,2709.1 1196.6,2708.8 1198.5,2709.6 1200.6,2709.9 1202.7,2710.8 1204.7,2710.7 1206.8,2710.9 1208.9,2712.4 1210.9,2713.0 1213.0,2713.1 1215.0,2714.4 1217.1,2714.8 1219.1,2716.7 1221.1,2717.0 1223.1,2718.1 1225.1,2718.8 1227.1,2719.5 1229.0,2720.6 1231.0,2720.4 1232.9,2721.6 1234.8,2722.6 1236.7,2722.9 1238.5,2724.2 1240.3,2724.0 1242.1,2725.0 1243.9,2725.2 1245.6,2725.5 1247.3,2726.1 1249.6,2726.5 1251.9,2726.6 1254.1,2725.9 1256.3,2726.1 1258.4,2725.6 1260.5,2726.2 1262.5,2725.7 1264.5,2725.3 1266.5,2725.0 1268.5,2724.4 1270.5,2723.7 1272.4,2723.4 1274.4,2723.1 1276.4,2721.6 1278.4,2720.8 1280.4,2719.6 1282.3,2718.8 1284.3,2716.9 1286.2,2715.9 1288.1,2713.9 1290.0,2712.2 1291.8,2711.2 1293.6,2709.9 1295.4,2709.7 1297.1,2709.3 1298.8,2709.3 1300.5,2710.1 1302.0,2711.0 1303.5,2712.0 1304.9,2714.0 1306.3,2715.2 1307.7,2717.8 1309.1,2719.5 1310.5,2722.0 1311.9,2724.0 1313.4,2725.4 1315.0,2726.5 1316.7,2728.4 1318.4,2728.6 1320.1,2729.5 1321.8,2730.4 1323.6,2731.8 1325.4,2731.9 1327.3,2732.8 1329.2,2733.0 1331.2,2733.6 1333.2,2733.3 1335.4,2734.8 1337.6,2734.5 1340.0,2734.5 1341.5,2735.3 1343.1,2735.9 1344.8,2735.6 1346.5,2736.0 1348.2,2735.5 1349.9,2735.7 1351.7,2736.0 1353.6,2735.8 1355.4,2736.6 1357.3,2735.9 1359.3,2736.6 1361.2,2736.9 1363.2,2736.3 1365.2,2737.4 1367.3,2736.9 1369.3,2737.1 1371.4,2737.1 1373.5,2737.0 1375.7,2736.8 1377.8,2737.1 1380.0,2737.2 1382.2,2736.8 1384.4,2736.4 1386.6,2737.5 1388.8,2736.7 1391.0,2737.6 1393.3,2737.7 1395.5,2736.6 1397.7,2737.6 1400.0,2737.0 1401.8,2737.7 1403.5,2737.6 1405.3,2737.1 1407.1,2737.7 1409.0,2736.9 1410.8,2737.9 1412.7,2737.6 1414.6,2738.1 1416.5,2737.5 1418.4,2737.8 1420.3,2737.4 1422.2,2737.4 1424.2,2737.1 1426.2,2738.0 1428.1,2738.3 1430.1,2737.7 1432.1,2737.3 1434.1,2737.3 1436.1,2737.5 1438.2,2738.2 1440.2,2737.7 1442.2,2737.9 1444.3,2738.4 1446.3,2738.2 1448.4,2737.4 1450.5,2738.5 1452.5,2738.3 1454.6,2737.6 1456.7,2737.5 1458.8,2738.6 1460.9,2737.8 1462.9,2738.2 1465.0,2737.9 1467.1,2738.5 1469.2,2738.1 1471.3,2738.4 1473.4,2738.7 1475.4,2737.8 1477.5,2738.1 1479.6,2738.6 1481.7,2738.7 1483.7,2738.8 1485.8,2738.2 1487.8,2738.6 1489.9,2738.5 1491.9,2738.8 1494.0,2738.0 1496.0,2737.9 1498.0,2738.1 1500.0,2738.3 1502.0,2738.8 1504.0,2738.7 1506.0,2738.3 1507.9,2738.0 1509.9,2738.5 1511.8,2739.2 1513.8,2738.1 1515.7,2739.2 1517.6,2738.6 1519.6,2738.8 1521.5,2738.5 1523.4,2739.3 1525.3,2739.1 1527.2,2739.0 1529.1,2738.8 1531.0,2738.9 1532.9,2738.5 1534.8,2739.0 1536.8,2739.3 1538.7,2738.4 1540.6,2738.8 1542.5,2738.9 1544.4,2738.9 1546.3,2739.5 1548.3,2739.0 1550.2,2738.9 1552.1,2738.5 1554.1,2738.7 1556.0,2739.5 1558.0,2739.2 1560.0,2739.3 1562.0,2739.6 1563.9,2739.5 1565.9,2739.5 1568.0,2739.7 1570.0,2739.6 1572.0,2739.4 1574.1,2739.2 1576.1,2738.6 1578.2,2739.7 1580.3,2739.1 1582.4,2739.0 1584.6,2739.0 1586.7,2739.5 1588.9,2739.6 1591.1,2739.0 1593.3,2738.9 1595.5,2739.2 1597.7,2738.8 1600.0,2739.4 1601.7,2739.7 1603.5,2739.2 1605.3,2738.9 1607.0,2739.9 1608.8,2739.0 1610.6,2739.0 1612.4,2739.4 1614.2,2739.6 1616.1,2739.2 1617.9,2738.9 1619.8,2739.2 1621.6,2739.9 1623.5,2740.0 1625.4,2739.1 1627.3,2739.7 1629.2,2739.8 1631.1,2739.9 1633.0,2738.9 1635.0,2738.9 1636.9,2739.0 1638.9,2739.6 1640.8,2739.1 1642.8,2740.0 1644.8,2739.2 1646.7,2739.5 1648.7,2739.1 1650.7,2740.0 1652.7,2739.2 1654.7,2739.3 1656.7,2739.3 1658.8,2739.2 1660.8,2739.1 1662.8,2740.0 1664.9,2739.1 1666.9,2739.4 1669.0,2739.0 1671.0,2739.7 1673.1,2739.6 1675.1,2740.1 1677.2,2739.1 1679.3,2740.2 1681.3,2739.2 1683.4,2739.5 1685.5,2740.2 1687.6,2740.1 1689.7,2740.2 1691.8,2739.3 1693.9,2739.3 1695.9,2739.5 1698.0,2739.5 1700.1,2739.8 1702.2,2739.2 1704.3,2739.8 1706.4,2739.2 1708.6,2739.5 1710.7,2739.8 1712.8,2739.5 1714.9,2740.0 1717.0,2740.1 1719.1,2739.9 1721.2,2739.7 1723.3,2739.7 1725.4,2739.8 1727.5,2740.2 1729.6,2740.4 1731.7,2739.5 1733.8,2740.3 1735.9,2740.2 1738.0,2739.9 1740.1,2739.8 1742.1,2740.2 1744.2,2740.5 1746.3,2739.9 1748.4,2739.3 1750.5,2740.0 1752.5,2739.6 1754.6,2739.5 1756.7,2740.0 1758.7,2739.7 1760.8,2740.3 1762.8,2739.8 1764.9,2740.4 1766.9,2739.4 1768.9,2740.5 1771.0,2740.2 1773.0,2739.4 1775.0,2739.7" fill="none" stroke="#333333" stroke-width="4.3" stroke-linejoin="round" stroke-linecap="round"/>
<polyline points="181.4,2869.7 183.5,2870.0 185.5,2869.5 187.6,2869.8 189.6,2869.4 191.7,2869.3 193.7,2869.6 195.8,2869.4 197.8,2869.6 199.9,2870.1 201.9,2869.3 204.0,2870.0 206.1,2869.4 208.1,2870.1 210.2,2870.0 212.2,2869.4 214.3,2870.1 216.3,2870.0 218.4,2869.2 220.5,2869.6 222.5,2869.9 224.6,2870.1 226.6,2869.2 228.7,2869.3 230.8,2869.9 232.8,2870.1 234.9,2869.0 236.9,2869.0 238.9,2869.7 240.9,2869.2 242.9,2869.3 244.9,2869.8 246.9,2869.6 248.8,2869.5 250.8,2869.7 252.8,2869.5 254.7,2869.6 256.7,2869.3 258.7,2869.2 260.7,2868.6 262.7,2869.6 264.7,2869.5 266.7,2868.8 268.7,2869.1 270.7,2868.3 272.8,2868.9 274.8,2869.0 276.9,2868.6 279.0,2868.7 281.1,2869.1 283.2,2868.3 285.3,2868.6 287.5,2868.1 289.7,2868.5 291.6,2869.0 293.5,2868.7 295.5,2868.0 297.6,2868.9 299.7,2868.7 301.8,2868.5 304.0,2868.2 306.3,2868.3 308.5,2868.1 310.8,2868.6 313.1,2868.0 315.4,2869.0 317.7,2868.0 320.1,2868.7 322.4,2868.6 324.8,2868.4 327.1,2868.3 329.4,2868.4 331.7,2868.3 334.0,2869.1 336.3,2868.7 338.5,2868.5 340.7,2868.7 342.9,2868.4 345.0,2868.0 347.0,2867.8 349.1,2868.9 351.0,2868.7 352.9,2867.7 354.8,2868.3 356.5,2868.4 358.2,2868.5 359.9,2867.4 361.4,2867.4 362.8,2867.6 364.2,2867.7 365.4,2866.9 366.6,2867.5 369.5,2867.2 371.8,2866.5 373.7,2866.5 375.6,2865.3 377.5,2864.9 379.2,2863.3 380.9,2862.0 382.6,2860.6 384.2,2859.3 385.8,2857.8 387.2,2855.0 388.5,2853.6 389.4,2852.3 390.2,2850.3 391.0,2847.8 391.6,2845.9 392.2,2844.5 392.8,2841.5 393.4,2840.3 393.9,2837.5 394.4,2835.6 394.9,2833.8 395.4,2831.8 396.0,2829.5 396.5,2827.5 397.0,2825.0 397.4,2823.1 397.9,2820.6 398.4,2818.6 398.9,2816.1 399.5,2815.6 401.1,2811.5 402.8,2809.9 403.7,2810.5 404.6,2813.1 405.6,2815.3 406.6,2818.4 407.7,2821.0 408.9,2823.2 410.1,2825.5 411.5,2828.0 412.8,2829.5 414.2,2830.6 415.4,2831.9 416.3,2831.7 417.2,2829.9 418.0,2828.8 418.8,2826.3 419.7,2823.8 420.5,2821.9 421.2,2818.6 422.0,2816.8 422.8,2815.3 423.7,2812.4 424.6,2810.6 425.5,2808.0 426.4,2805.8 427.4,2804.7 428.3,2804.5 429.7,2805.1 431.1,2807.0 432.5,2809.9 433.8,2812.3 434.4,2814.1 435.0,2815.3 435.6,2818.0 436.1,2820.1 436.6,2822.3 437.1,2824.7 437.6,2827.3 438.1,2829.2 438.7,2831.7 439.3,2833.5 439.9,2835.0 440.6,2837.5 441.5,2839.3 442.3,2841.1 443.2,2842.4 444.1,2844.6 445.1,2846.0 446.2,2847.9 447.5,2849.8 448.9,2850.7 450.2,2851.5 451.6,2852.8 453.2,2854.5 454.7,2855.9 456.4,2856.1 458.2,2857.5 460.0,2858.4 461.9,2859.4 463.9,2860.5 466.0,2861.1 468.1,2861.5 469.8,2862.7 471.5,2863.0 473.3,2863.4 475.1,2862.8 477.0,2863.5 479.0,2863.3 481.0,2863.3 483.0,2864.4 485.1,2864.2 487.2,2864.0 489.3,2864.4 491.5,2864.5 493.7,2864.1 495.9,2863.6 498.1,2864.6 500.3,2864.2 502.5,2864.1 504.8,2863.9 507.0,2864.4 509.2,2864.9 511.1,2865.1 513.0,2864.3 514.9,2864.4 516.9,2865.6 518.9,2865.2 520.9,2865.4 522.9,2865.7 524.9,2865.5 526.9,2865.6 528.9,2866.3 531.0,2866.1 533.0,2865.6 535.1,2865.7 537.2,2866.8 539.2,2866.7 541.3,2867.0 543.4,2866.8 545.5,2867.2 547.5,2866.9 549.6,2867.1 551.7,2867.2 553.8,2867.2 555.9,2868.1 557.9,2868.1 560.0,2867.9 562.1,2867.4 564.1,2868.5 566.2,2868.5 568.2,2868.3 570.3,2868.8 572.3,2868.6 574.4,2868.5 576.5,2868.3 578.5,2868.7 580.6,2868.5 582.6,2868.3 584.7,2868.3 586.8,2868.3 588.8,2869.1 590.9,2868.7 593.0,2869.5 595.0,2869.5 597.1,2868.8 599.2,2868.6 601.3,2869.5 603.3,2869.6 605.4,2869.1 607.5,2869.6 609.6,2869.8 611.6,2869.3 613.7,2869.3 615.8,2869.6 617.9,2869.9 620.0,2869.7 622.0,2870.1 624.0,2869.2 626.0,2869.2 628.0,2869.3 630.0,2870.4 632.0,2869.7 634.1,2869.5 636.1,2869.7 638.1,2869.7 640.2,2870.4 642.2,2870.6 644.2,2870.3 646.3,2870.1 648.3,2870.2 650.3,2871.0 652.3,2870.3 654.4,2870.6 656.4,2870.9 658.4,2870.9 660.4,2871.6 662.5,2871.6 664.5,2871.0 666.5,2871.1 668.5,2870.8 670.5,2871.0 672.5,2870.2 674.5,2870.3 676.4,2870.9 678.4,2870.3 680.5,2870.1 682.5,2870.2 684.6,2869.8 686.7,2868.9 688.8,2869.0 690.9,2869.2 693.0,2868.2 695.1,2868.6 697.2,2867.3 699.3,2867.2 701.4,2866.6 703.5,2866.3 705.6,2865.8 707.7,2865.9 709.7,2865.5 711.7,2865.2 713.8,2863.8 715.8,2864.3 717.7,2863.4 719.7,2862.4 721.6,2862.3 723.5,2861.7 725.4,2860.8 727.2,2860.1 729.0,2859.2 730.8,2858.7 732.5,2858.8 734.6,2857.4 736.6,2856.9 738.6,2855.8 740.6,2854.6 742.5,2853.9 744.4,2852.7 746.3,2852.0 748.1,2850.7 749.9,2849.6 751.6,2849.3 753.4,2847.6 755.1,2847.0 756.8,2846.1 758.5,2844.9 760.2,2843.6 761.8,2842.0 763.5,2840.7 765.1,2838.8 766.6,2838.4 768.1,2836.9 769.6,2835.3 771.0,2834.6 772.5,2833.1 773.9,2831.7 775.3,2829.7 776.7,2828.5 778.1,2827.3 779.4,2825.9 780.8,2823.9 782.1,2822.6 783.4,2820.9 784.7,2818.9 786.0,2818.1 787.3,2816.1 788.5,2814.0 789.8,2812.9 791.0,2811.6 792.2,2809.2 793.4,2807.5 794.6,2806.3 795.7,2803.9 796.8,2802.8 797.9,2800.7 799.0,2798.6 800.0,2796.7 801.1,2795.3 802.1,2792.6 803.1,2790.9 804.2,2788.9 805.2,2787.6 806.2,2785.1 807.2,2782.8 808.3,2781.6 809.3,2780.1 810.4,2778.8 811.5,2777.2 812.6,2776.1 813.8,2774.1 815.5,2772.9 817.2,2771.5 818.9,2770.0 820.7,2768.4 822.5,2766.8 824.3,2765.4 826.0,2765.1 827.8,2764.2 829.5,2763.5 831.2,2764.1 832.8,2764.5 834.3,2765.3 835.8,2766.4 837.3,2767.7 838.8,2768.7 840.3,2770.4 841.8,2773.0 843.3,2773.9 844.7,2777.0 846.2,2778.9 847.6,2780.2 849.0,2782.7 850.1,2783.9 851.2,2786.1 852.2,2788.0 853.2,2789.7 854.2,2791.7 855.2,2793.0 856.2,2795.3 857.2,2797.3 858.1,2799.9 859.1,2801.0 860.1,2803.6 861.1,2805.5 862.2,2807.0 863.3,2809.5 864.4,2811.2 865.5,2812.0 866.7,2813.6 868.0,2815.3 869.6,2816.2 871.3,2817.8 873.0,2819.0 874.8,2821.0 876.6,2821.9 878.4,2822.6 880.3,2824.5 882.2,2825.0 884.1,2825.9 886.0,2826.0 887.8,2826.9 889.7,2826.8 891.6,2827.7 893.6,2826.5 895.6,2826.3 897.6,2826.3 899.5,2825.5 901.5,2824.8 903.5,2824.8 905.5,2823.7 907.5,2822.9 909.5,2821.2 911.4,2820.7 912.8,2819.9 914.3,2818.0 915.7,2817.0 917.1,2816.0 918.5,2814.5 919.8,2813.7 921.2,2811.9 922.6,2810.3 924.0,2808.6 925.4,2806.7 926.7,2805.1 928.1,2803.6 929.5,2801.7 931.0,2800.3 932.4,2799.2 933.9,2797.6 935.3,2796.1 936.9,2794.8 938.4,2793.5 940.0,2792.7 941.6,2790.9 943.3,2789.9 945.0,2788.1 946.8,2787.5 948.5,2785.9 950.3,2785.1 952.1,2784.0 953.8,2781.9 955.6,2781.6 957.4,2780.2 959.2,2779.4 961.0,2777.3 962.7,2777.1 964.4,2776.0 966.1,2775.1 967.8,2773.4 969.4,2772.4 971.0,2771.9 973.0,2770.3 974.9,2769.2 976.9,2768.2 978.8,2766.2 980.7,2765.6 982.6,2764.2 984.4,2762.9 986.2,2762.0 987.9,2760.2 989.5,2760.3 991.1,2760.3 992.6,2759.6 994.4,2760.4 995.9,2760.8 997.4,2762.9 998.8,2763.8 1000.2,2766.4 1001.7,2767.6 1003.5,2768.5 1005.0,2770.2 1006.7,2771.0 1008.4,2772.7 1010.2,2774.5 1012.1,2775.3 1014.0,2777.6 1015.9,2778.8 1017.8,2780.0 1019.7,2780.6 1021.6,2781.2 1023.4,2782.3 1025.1,2782.7 1027.0,2783.0 1028.9,2782.3 1030.8,2781.8 1032.6,2780.6 1034.5,2779.3 1036.3,2778.5 1038.0,2777.7 1039.7,2775.9 1041.4,2773.9 1042.7,2773.3 1044.0,2772.2 1045.3,2770.3 1046.5,2768.9 1047.7,2766.6 1048.9,2765.5 1050.0,2763.5 1051.1,2761.9 1052.3,2759.6 1053.4,2757.6 1054.4,2755.7 1055.5,2754.3 1056.6,2752.5 1057.6,2750.0 1058.6,2747.9 1059.5,2746.6 1060.4,2744.1 1061.3,2742.9 1062.1,2740.0 1063.0,2738.3 1063.9,2736.8 1064.7,2733.8 1065.5,2732.7 1066.3,2730.5 1067.1,2728.7 1068.0,2726.0 1068.8,2725.1 1069.6,2723.7 1070.4,2721.0 1071.2,2719.9 1072.6,2718.2 1073.9,2715.8 1075.3,2713.4 1076.6,2712.0 1078.0,2710.4 1079.3,2709.7 1080.2,2710.7 1081.0,2710.9 1081.9,2711.9 1082.7,2713.4 1083.5,2715.1 1084.3,2717.1 1085.2,2720.0 1086.0,2721.9 1086.8,2723.7 1087.7,2727.3 1088.5,2728.8 1089.3,2731.3 1090.2,2733.8 1090.8,2735.3 1091.4,2737.7 1092.0,2739.3 1092.5,2741.2 1093.0,2742.7 1093.6,2744.2 1094.1,2746.4 1094.6,2748.3 1095.1,2750.3 1095.6,2752.8 1096.1,2754.8 1096.7,2756.9 1097.2,2758.8 1097.8,2761.1 1098.4,2764.2 1099.0,2765.5 1099.7,2768.0 1100.3,2769.7 1101.1,2771.6 1101.8,2773.6 1102.6,2775.6 1103.5,2777.4 1104.4,2779.7 1105.4,2780.4 1106.4,2782.9 1107.6,2784.4 1108.8,2786.2 1110.0,2787.7 1111.3,2789.3 1112.7,2789.8 1114.1,2791.6 1115.5,2793.3 1116.9,2795.0 1118.4,2795.3 1120.0,2797.0 1121.5,2798.1 1123.2,2799.4 1124.8,2801.2 1126.5,2802.2 1128.1,2803.8 1129.9,2804.4 1131.6,2804.9 1133.4,2806.2 1135.2,2807.4 1137.0,2808.1 1138.9,2809.9 1140.5,2811.0 1142.2,2811.8 1144.0,2811.5 1145.8,2813.2 1147.6,2814.1 1149.4,2813.9 1151.3,2814.6 1153.3,2815.2 1155.2,2816.0 1157.2,2817.2 1159.2,2817.7 1161.2,2817.4 1163.2,2818.0 1165.3,2819.3 1167.3,2819.9 1169.3,2820.3 1171.4,2820.2 1173.4,2821.0 1175.5,2821.9 1177.5,2822.5 1179.5,2822.3 1181.6,2823.0 1183.5,2823.8 1185.5,2824.4 1187.5,2823.9 1189.4,2824.4 1191.3,2825.2 1193.1,2825.5 1195.2,2827.0 1197.3,2826.8 1199.4,2827.7 1201.5,2828.2 1203.5,2829.5 1205.6,2830.1 1207.7,2830.4 1209.8,2831.0 1211.9,2832.3 1213.9,2832.2 1215.9,2833.8 1218.0,2833.5 1220.0,2835.0 1221.9,2834.5 1223.9,2836.1 1225.8,2835.9 1227.6,2836.0 1229.5,2837.4 1231.3,2837.3 1233.0,2837.3 1234.7,2837.3 1236.4,2838.2 1238.7,2837.9 1240.8,2837.5 1242.9,2837.6 1245.0,2838.0 1247.0,2837.7 1248.9,2837.4 1250.8,2837.5 1252.7,2836.5 1254.5,2835.4 1256.3,2835.0 1258.1,2834.5 1259.5,2832.5 1260.8,2831.6 1262.2,2830.6 1263.4,2828.8 1264.7,2828.0 1266.0,2826.4 1267.2,2824.6 1268.4,2822.3 1269.5,2821.5 1270.7,2819.4 1271.9,2816.8 1273.0,2815.2 1274.1,2813.2 1275.3,2811.0 1276.4,2809.0 1277.5,2807.2 1278.7,2805.6 1279.8,2804.8 1281.0,2802.7 1282.2,2799.8 1283.4,2797.6 1284.7,2795.5 1285.9,2793.6 1287.2,2790.9 1288.4,2789.4 1289.6,2787.0 1290.8,2784.6 1292.0,2781.8 1293.1,2780.2 1294.2,2778.3 1295.2,2776.7 1296.2,2775.7 1297.2,2774.9 1298.0,2774.1 1298.8,2774.2 1299.7,2774.6 1300.4,2776.0 1301.1,2777.4 1301.6,2778.7 1302.2,2781.1 1302.6,2783.6 1303.1,2785.7 1303.5,2788.5 1304.0,2791.0 1304.5,2793.6 1305.0,2796.5 1305.5,2797.5 1306.0,2799.7 1306.5,2801.8 1307.0,2804.0 1307.5,2806.8 1308.1,2808.5 1308.6,2810.3 1309.1,2813.5 1309.6,2815.0 1310.2,2817.4 1310.8,2819.5 1311.4,2820.7 1312.0,2823.4 1312.8,2825.5 1313.5,2827.2 1314.3,2829.5 1315.0,2831.0 1315.8,2833.4 1316.7,2834.9 1317.7,2836.7 1318.8,2837.9 1320.0,2840.6 1321.3,2841.4 1322.8,2843.4 1324.3,2844.4 1326.0,2845.1 1327.7,2847.3 1329.5,2848.2 1331.3,2849.5 1333.1,2849.9 1335.0,2851.0 1336.8,2852.1 1338.6,2852.8 1340.4,2853.2 1342.3,2854.4 1344.2,2854.6 1346.1,2855.0 1348.2,2855.7 1350.3,2857.1 1352.6,2857.0 1355.0,2858.4 1356.6,2858.8 1358.2,2859.0 1359.9,2858.7 1361.6,2860.0 1363.3,2859.6 1365.1,2860.6 1366.9,2861.4 1368.8,2861.5 1370.7,2861.1 1372.6,2861.6 1374.5,2862.9 1376.5,2862.8 1378.6,2863.4 1380.6,2863.9 1382.7,2863.9 1384.9,2863.8 1387.0,2864.7 1389.2,2864.7 1391.4,2865.5 1393.7,2865.4 1395.9,2865.5 1398.2,2866.2 1400.6,2866.4 1402.9,2866.5 1404.6,2866.9 1406.3,2867.2 1408.0,2867.0 1409.8,2867.7 1411.6,2867.2 1413.4,2867.6 1415.2,2867.6 1417.1,2867.8 1419.0,2868.0 1420.9,2868.0 1422.8,2867.6 1424.7,2867.5 1426.7,2867.8 1428.7,2867.8 1430.7,2868.4 1432.7,2868.0 1434.7,2867.8 1436.7,2868.8 1438.8,2868.9 1440.8,2868.3 1442.9,2869.2 1445.0,2868.2 1447.1,2869.0 1449.2,2869.1 1451.3,2869.3 1453.4,2869.3 1455.6,2868.6 1457.7,2869.3 1459.8,2869.4 1462.0,2868.7 1464.1,2868.9 1466.3,2868.9 1468.4,2868.9 1470.5,2868.7 1472.7,2869.6 1474.8,2869.0 1477.0,2868.7 1479.1,2868.7 1481.2,2868.8 1483.3,2869.7 1485.4,2869.6 1487.6,2869.7 1489.7,2869.4 1491.7,2869.9 1493.8,2869.5 1495.9,2869.2 1498.0,2869.5 1500.0,2869.3 1502.0,2869.2 1504.0,2869.6 1505.9,2869.7 1507.9,2869.1 1509.8,2870.1 1511.8,2869.2 1513.7,2869.8 1515.6,2869.3 1517.5,2869.7 1519.5,2869.9 1521.4,2870.1 1523.3,2870.2 1525.2,2870.5 1527.1,2870.4 1529.0,2869.7 1530.9,2869.4 1532.8,2870.1 1534.7,2869.8 1536.6,2869.6 1538.6,2869.8 1540.5,2869.8 1542.4,2870.5 1544.3,2870.1 1546.2,2870.5 1548.2,2870.1 1550.1,2870.6 1552.1,2870.0 1554.0,2870.6 1556.0,2869.8 1557.9,2870.1 1559.9,2870.2 1561.9,2870.4 1563.9,2870.5 1565.9,2870.4 1567.9,2870.0 1569.9,2869.8 1572.0,2870.5 1574.0,2870.8 1576.1,2870.5 1578.2,2870.1 1580.3,2870.7 1582.4,2870.2 1584.5,2870.7 1586.7,2870.9 1588.9,2870.1 1591.1,2870.0 1593.3,2870.5 1595.5,2870.9 1597.7,2870.4 1600.0,2870.7 1601.7,2870.5 1603.5,2870.6 1605.3,2870.5 1607.0,2870.5 1608.8,2870.4 1610.6,2870.2 1612.4,2870.2 1614.2,2870.3 1616.1,2870.5 1617.9,2870.5 1619.8,2870.0 1621.6,2870.7 1623.5,2870.1 1625.4,2871.2 1627.3,2870.3 1629.2,2870.4 1631.1,2871.1 1633.0,2870.5 1635.0,2870.5 1636.9,2870.7 1638.9,2870.7 1640.8,2871.2 1642.8,2870.4 1644.8,2870.9 1646.7,2870.2 1648.7,2870.8 1650.7,2871.1 1652.7,2870.9 1654.7,2870.2 1656.7,2870.5 1658.8,2870.7 1660.8,2871.4 1662.8,2871.2 1664.9,2871.3 1666.9,2870.6 1669.0,2870.9 1671.0,2870.6 1673.1,2870.9 1675.1,2871.1 1677.2,2870.4 1679.3,2871.5 1681.3,2870.9 1683.4,2871.4 1685.5,2871.1 1687.6,2870.7 1689.7,2870.9 1691.8,2870.9 1693.9,2870.4 1695.9,2870.6 1698.0,2870.8 1700.1,2871.2 1702.2,2871.0 1704.3,2870.6 1706.4,2871.1 1708.6,2871.4 1710.7,2870.8 1712.8,2871.1 1714.9,2871.3 1717.0,2871.5 1719.1,2870.7 1721.2,2871.0 1723.3,2871.5 1725.4,2870.7 1727.5,2871.4 1729.6,2870.8 1731.7,2870.7 1733.8,2871.2 1735.9,2870.8 1738.0,2871.7 1740.1,2871.7 1742.1,2871.7 1744.2,2871.0 1746.3,2871.2 1748.4,2871.5 1750.5,2871.6 1752.5,2871.7 1754.6,2871.5 1756.7,2871.2 1758.7,2871.8 1760.8,2871.6 1762.8,2870.8 1764.9,2870.8 1766.9,2871.3 1768.9,2871.4 1771.0,2870.7 1773.0,2871.5 1775.0,2870.8" fill="none" stroke="#008000" stroke-width="4.3" stroke-linejoin="round" stroke-linecap="round"/>
<polyline points="180.8,2972.5 182.8,2971.9 184.8,2972.2 186.8,2972.6 188.8,2971.9 190.8,2972.3 192.8,2972.4 194.8,2972.9 196.7,2971.8 198.7,2971.9 200.7,2972.3 202.6,2972.9 204.6,2973.0 206.5,2972.2 208.5,2973.2 210.4,2972.8 212.4,2973.4 214.3,2973.4 216.3,2972.4 218.2,2973.5 220.2,2973.0 222.2,2972.7 224.1,2973.1 226.1,2972.7 228.1,2973.5 230.0,2973.3 232.0,2972.9 234.0,2973.1 236.0,2973.4 238.0,2973.8 240.1,2973.2 242.1,2973.1 244.1,2973.4 246.2,2973.1 248.3,2973.5 250.3,2974.2 252.4,2973.4 254.5,2973.6 256.7,2974.2 258.8,2973.5 261.0,2973.4 263.1,2973.6 265.3,2974.1 267.5,2974.2 269.8,2974.2 272.0,2973.5 273.8,2973.8 275.6,2973.6 277.4,2974.1 279.2,2973.9 281.0,2974.4 282.9,2974.2 284.7,2974.2 286.6,2973.7 288.4,2974.1 290.3,2973.6 292.2,2973.6 294.1,2974.5 296.0,2973.7 297.9,2973.5 299.9,2974.4 301.8,2973.7 303.7,2973.9 305.7,2974.2 307.7,2974.7 309.6,2973.6 311.6,2974.3 313.6,2973.6 315.6,2974.5 317.6,2974.0 319.6,2973.6 321.6,2974.0 323.6,2974.3 325.6,2973.7 327.6,2974.0 329.7,2974.4 331.7,2974.5 333.8,2974.3 335.8,2974.0 337.8,2974.3 339.9,2973.6 342.0,2973.9 344.0,2973.8 346.1,2973.6 348.1,2973.4 350.2,2973.4 352.3,2974.5 354.3,2973.8 356.4,2973.7 358.5,2974.1 360.6,2974.1 362.6,2974.3 364.7,2974.3 366.8,2973.3 368.9,2973.5 370.9,2973.6 373.0,2973.5 375.1,2973.8 377.2,2973.4 379.2,2974.1 381.3,2973.4 383.4,2974.1 385.4,2974.1 387.5,2973.7 389.6,2973.2 391.6,2972.9 393.7,2974.0 395.7,2973.9 397.8,2973.4 399.8,2972.8 401.9,2973.6 403.9,2973.0 405.9,2973.1 408.0,2973.7 410.0,2973.6 412.0,2973.5 414.0,2972.5 416.0,2973.2 418.0,2973.1 420.0,2973.2 422.0,2972.3 424.0,2973.3 426.0,2972.3 428.0,2972.1 430.1,2972.8 432.1,2972.8 434.1,2972.8 436.1,2971.9 438.1,2972.0 440.2,2972.3 442.2,2972.3 444.2,2972.4 446.2,2971.5 448.3,2972.2 450.3,2971.6 452.3,2971.6 454.4,2971.3 456.4,2971.6 458.4,2971.3 460.5,2971.6 462.5,2971.1 464.5,2970.9 466.6,2971.0 468.6,2970.9 470.6,2970.8 472.7,2971.5 474.7,2971.0 476.7,2971.2 478.7,2970.8 480.8,2971.2 482.8,2970.5 484.8,2970.4 486.9,2970.0 488.9,2969.9 490.9,2970.6 492.9,2970.0 494.9,2970.1 497.0,2970.4 499.0,2969.8 501.0,2969.3 503.0,2969.8 505.0,2969.8 507.0,2969.9 509.0,2969.2 511.0,2968.8 513.0,2969.3 515.0,2969.4 517.0,2968.4 519.0,2969.2 521.0,2969.2 523.0,2968.2 525.0,2968.8 527.0,2968.1 528.9,2968.5 530.9,2967.9 532.9,2968.4 534.9,2968.0 536.8,2968.2 538.8,2968.2 540.7,2968.4 542.7,2967.9 544.6,2967.5 546.6,2967.6 548.5,2967.7 550.4,2967.5 552.3,2967.3 554.3,2968.2 556.2,2967.4 558.1,2966.9 560.0,2967.2 562.1,2967.8 564.2,2967.7 566.4,2967.4 568.5,2966.8 570.6,2967.2 572.8,2967.9 574.9,2966.9 577.1,2966.9 579.3,2967.3 581.4,2966.8 583.6,2967.9 585.8,2967.8 588.0,2967.0 590.2,2967.9 592.3,2968.1 594.5,2967.9 596.7,2967.9 598.9,2967.2 601.1,2967.3 603.2,2967.7 605.4,2967.4 607.6,2968.2 609.7,2967.7 611.9,2968.0 614.0,2967.8 616.2,2968.5 618.3,2967.8 620.4,2968.5 622.6,2968.5 624.7,2968.3 626.8,2967.7 628.8,2968.7 630.9,2967.8 633.0,2967.8 635.0,2968.7 637.1,2967.9 639.1,2967.8 641.1,2968.8 643.1,2968.9 645.0,2968.2 647.0,2968.2 648.9,2968.6 650.9,2968.6 652.8,2968.0 654.6,2967.7 656.5,2967.8 658.3,2967.9 660.1,2967.6 661.9,2968.4 663.7,2967.9 665.4,2968.0 667.1,2967.6 668.8,2967.6 670.5,2967.9 672.1,2968.0 673.7,2967.8 675.3,2967.3 676.9,2967.6 678.4,2966.8 680.8,2966.9 683.2,2966.2 685.5,2966.6 687.7,2965.7 689.9,2964.9 692.0,2965.4 694.0,2964.3 696.1,2964.7 698.0,2964.3 700.0,2963.9 701.9,2962.5 703.7,2962.4 705.6,2961.6 707.4,2961.1 709.2,2961.1 711.0,2960.8 712.8,2959.7 714.5,2960.0 716.3,2959.1 718.1,2958.4 719.9,2958.5 721.7,2957.7 723.8,2957.1 725.8,2957.3 727.8,2956.3 729.8,2955.6 731.8,2955.4 733.7,2955.4 735.7,2954.0 737.6,2954.1 739.5,2953.9 741.4,2953.0 743.3,2951.7 745.1,2951.8 747.0,2950.7 748.8,2949.5 750.6,2949.2 752.4,2948.4 754.2,2947.2 755.7,2946.4 757.3,2944.3 758.8,2944.1 760.3,2942.7 761.9,2940.7 763.4,2939.5 764.9,2938.4 766.3,2936.8 767.8,2934.9 769.3,2933.0 770.7,2931.7 772.1,2930.5 773.5,2928.8 774.9,2926.4 776.3,2924.4 777.7,2923.2 779.0,2921.7 780.3,2920.4 781.7,2918.7 782.9,2916.6 784.2,2914.6 785.5,2913.6 786.7,2911.8 788.0,2909.5 789.3,2908.2 790.5,2906.7 791.7,2904.7 792.9,2903.1 794.0,2901.6 795.1,2900.0 796.2,2897.8 797.3,2895.6 798.4,2894.8 799.5,2892.9 800.6,2890.7 801.6,2889.0 802.7,2887.9 803.8,2885.1 804.9,2884.2 806.1,2882.4 807.2,2881.4 808.4,2878.8 809.7,2878.0 811.0,2875.2 812.4,2873.5 813.7,2872.1 815.1,2869.6 816.4,2867.4 817.8,2865.6 819.2,2863.9 820.6,2861.7 821.9,2861.1 823.3,2859.0 824.7,2857.5 826.1,2856.9 827.4,2855.8 828.8,2854.9 830.1,2855.4 831.9,2855.0 833.8,2855.0 835.6,2856.6 837.4,2857.4 839.3,2858.2 841.1,2860.6 842.8,2861.9 844.6,2863.5 846.3,2865.3 847.3,2867.3 848.2,2867.9 849.2,2870.0 850.1,2871.4 851.0,2872.8 851.8,2875.0 852.7,2876.3 853.5,2878.8 854.3,2880.4 855.2,2882.9 856.0,2884.5 856.8,2887.6 857.7,2889.7 858.5,2891.0 859.3,2894.1 860.2,2896.0 861.1,2897.2 862.0,2899.5 862.9,2901.5 863.9,2903.6 864.8,2904.4 865.9,2906.7 866.9,2907.6 868.0,2908.5 869.6,2910.4 871.3,2911.8 873.0,2914.1 874.8,2915.4 876.6,2915.7 878.4,2917.9 880.3,2918.6 882.2,2919.6 884.1,2920.3 885.9,2921.0 887.8,2921.6 889.7,2921.5 891.6,2922.3 893.6,2922.4 895.6,2922.3 897.6,2921.5 899.6,2921.9 901.6,2921.1 903.6,2920.4 905.6,2920.4 907.5,2918.6 909.5,2918.1 911.4,2916.8 912.8,2916.7 914.1,2915.8 915.4,2914.3 916.7,2912.9 918.0,2911.4 919.3,2909.7 920.5,2908.2 921.8,2906.7 923.1,2905.3 924.3,2902.6 925.5,2901.3 926.8,2899.1 928.0,2897.4 929.3,2896.3 930.6,2894.4 931.8,2891.9 933.1,2890.9 934.4,2888.5 935.7,2886.9 937.1,2886.4 938.4,2884.8 939.9,2883.1 941.5,2882.3 943.0,2880.4 944.6,2879.0 946.1,2877.4 947.7,2876.4 949.3,2875.4 950.9,2873.9 952.5,2872.7 954.1,2871.7 955.7,2870.5 957.3,2868.4 959.0,2867.9 960.6,2867.0 962.2,2865.4 963.9,2863.6 965.5,2863.5 967.3,2861.5 969.2,2860.8 971.1,2858.5 973.0,2857.7 975.0,2856.7 976.9,2854.9 978.9,2853.0 980.8,2852.4 982.7,2851.2 984.6,2850.4 986.3,2848.7 988.1,2848.9 989.7,2848.3 991.2,2847.3 992.6,2847.3 994.3,2847.8 995.7,2849.8 997.0,2850.8 998.2,2852.7 999.3,2855.0 1000.6,2856.5 1001.9,2858.3 1003.5,2860.0 1004.9,2861.3 1006.3,2863.1 1007.9,2864.3 1009.5,2865.7 1011.2,2867.9 1012.9,2868.7 1014.7,2870.1 1016.4,2871.8 1018.2,2872.6 1020.0,2873.8 1021.7,2874.9 1023.4,2874.4 1025.1,2875.3 1026.8,2874.8 1028.5,2874.1 1030.3,2873.0 1032.1,2872.8 1033.8,2871.1 1035.6,2870.3 1037.3,2868.7 1039.0,2866.1 1040.7,2865.1 1042.3,2862.9 1043.9,2861.3 1045.4,2858.8 1046.8,2857.1 1047.9,2855.4 1048.9,2853.9 1049.8,2853.1 1050.7,2850.7 1051.6,2848.9 1052.4,2847.6 1053.2,2844.9 1054.0,2843.8 1054.7,2840.6 1055.4,2838.5 1056.2,2837.3 1056.9,2834.9 1057.6,2832.9 1058.3,2830.6 1059.1,2829.4 1059.8,2826.9 1060.6,2824.4 1061.4,2823.3 1062.2,2821.7 1063.1,2820.2 1064.2,2818.1 1065.3,2815.8 1066.5,2813.4 1067.7,2810.1 1068.9,2808.7 1070.1,2805.9 1071.3,2803.7 1072.5,2801.3 1073.7,2799.9 1074.9,2798.1 1076.0,2796.7 1077.2,2796.4 1078.3,2795.4 1079.3,2795.4 1080.5,2795.1 1081.7,2796.6 1082.9,2798.2 1084.0,2799.5 1085.1,2801.3 1086.2,2803.6 1087.2,2806.6 1088.2,2809.0 1089.2,2811.2 1090.2,2814.4 1090.8,2816.1 1091.4,2817.5 1091.9,2818.8 1092.4,2820.7 1092.9,2822.7 1093.4,2824.3 1093.8,2826.9 1094.2,2828.8 1094.7,2831.4 1095.1,2833.2 1095.5,2834.9 1095.9,2837.5 1096.4,2839.0 1096.8,2841.5 1097.2,2843.2 1097.7,2845.9 1098.2,2848.2 1098.7,2850.0 1099.2,2851.4 1099.8,2853.3 1100.4,2856.1 1101.0,2857.1 1101.7,2859.2 1102.4,2861.4 1103.0,2863.1 1103.7,2865.5 1104.4,2866.9 1105.1,2869.1 1105.8,2871.8 1106.5,2873.6 1107.2,2875.8 1108.0,2877.0 1108.8,2878.6 1109.7,2881.0 1110.6,2882.5 1111.5,2884.1 1112.5,2886.2 1113.6,2887.5 1114.8,2889.4 1116.0,2890.7 1117.3,2892.5 1118.6,2893.9 1120.1,2896.0 1121.5,2896.8 1123.1,2898.3 1124.7,2899.0 1126.4,2901.1 1128.1,2902.0 1129.8,2902.4 1131.7,2903.3 1133.5,2904.5 1135.4,2905.8 1137.3,2907.2 1139.2,2907.5 1141.2,2908.2 1143.2,2909.2 1145.2,2910.5 1147.2,2911.7 1149.2,2912.3 1151.2,2913.1 1153.2,2914.2 1155.2,2914.4 1157.1,2914.8 1159.0,2915.7 1160.9,2915.6 1162.9,2916.0 1165.0,2917.4 1167.0,2917.9 1169.1,2918.2 1171.2,2918.0 1173.3,2918.1 1175.4,2918.3 1177.5,2919.1 1179.6,2918.7 1181.7,2918.7 1183.9,2919.0 1186.0,2919.9 1188.1,2920.2 1190.2,2920.1 1192.2,2920.2 1194.3,2921.1 1196.3,2921.3 1198.3,2921.1 1200.2,2921.7 1202.1,2922.3 1204.0,2922.3 1206.1,2922.5 1208.2,2923.3 1210.2,2923.9 1212.3,2924.8 1214.3,2926.3 1216.3,2927.4 1218.2,2927.9 1220.2,2928.8 1222.1,2929.2 1224.0,2929.8 1225.9,2931.3 1227.8,2931.9 1229.6,2932.8 1231.5,2932.9 1233.3,2932.9 1235.1,2932.9 1236.8,2933.9 1238.6,2933.9 1240.8,2933.8 1242.9,2933.9 1245.1,2933.2 1247.2,2933.0 1249.2,2932.8 1251.3,2932.1 1253.3,2931.2 1255.3,2930.1 1257.2,2929.3 1259.1,2928.4 1260.9,2926.8 1262.7,2926.0 1264.0,2925.1 1265.3,2923.6 1266.5,2922.3 1267.7,2921.3 1268.9,2919.4 1270.0,2917.8 1271.2,2916.4 1272.3,2914.5 1273.4,2912.6 1274.5,2910.7 1275.5,2908.4 1276.6,2907.0 1277.6,2904.4 1278.6,2902.6 1279.6,2901.3 1280.5,2899.0 1281.5,2897.4 1282.4,2895.1 1283.4,2893.1 1284.3,2892.0 1285.2,2889.9 1286.3,2888.2 1287.3,2885.3 1288.3,2883.9 1289.2,2881.5 1290.2,2878.4 1291.1,2876.3 1292.0,2874.2 1292.8,2871.7 1293.7,2869.4 1294.6,2867.4 1295.4,2865.9 1296.3,2864.4 1297.1,2863.7 1298.0,2863.8 1298.8,2863.4 1299.8,2863.2 1300.7,2864.4 1301.7,2865.3 1302.6,2867.0 1303.6,2868.3 1304.5,2870.3 1305.4,2873.4 1306.3,2875.4 1307.2,2877.4 1308.0,2880.4 1308.8,2882.0 1309.6,2885.0 1310.2,2885.9 1310.8,2887.8 1311.3,2889.9 1311.9,2892.0 1312.4,2894.5 1312.8,2896.0 1313.3,2898.5 1313.8,2901.1 1314.2,2902.3 1314.7,2905.0 1315.1,2906.7 1315.5,2908.8 1315.9,2911.5 1316.4,2913.5 1316.8,2914.4 1317.2,2916.2 1317.7,2918.3 1318.1,2920.3 1318.8,2922.4 1319.3,2924.4 1319.9,2926.8 1320.5,2928.6 1321.2,2930.1 1322.0,2931.0 1323.1,2933.4 1324.2,2935.4 1325.4,2936.6 1326.7,2938.3 1328.1,2939.1 1329.7,2941.5 1331.3,2942.6 1332.9,2943.8 1334.6,2946.0 1336.2,2947.1 1337.8,2947.4 1339.4,2948.9 1341.2,2950.2 1342.9,2950.9 1344.6,2952.5 1346.3,2952.3 1348.1,2953.9 1350.0,2953.7 1352.1,2955.3 1354.3,2954.9 1355.9,2956.0 1357.6,2956.2 1359.3,2956.8 1361.1,2957.7 1363.0,2957.2 1364.9,2957.5 1366.9,2957.9 1369.0,2958.8 1371.1,2959.4 1373.2,2959.8 1375.4,2959.7 1377.5,2960.0 1379.7,2961.3 1381.9,2961.5 1384.1,2961.5 1386.4,2961.4 1388.6,2961.6 1390.7,2962.4 1392.9,2962.4 1394.8,2962.6 1396.7,2963.8 1398.6,2963.8 1400.6,2963.7 1402.6,2963.4 1404.5,2964.1 1406.5,2964.3 1408.5,2964.9 1410.5,2964.8 1412.5,2964.5 1414.6,2965.0 1416.6,2965.5 1418.6,2965.1 1420.7,2965.7 1422.7,2966.0 1424.7,2966.1 1426.8,2966.1 1428.8,2966.5 1430.9,2966.7 1432.9,2966.6 1434.9,2966.7 1437.0,2966.9 1439.0,2967.9 1441.0,2967.8 1443.0,2968.0 1445.0,2967.3 1446.9,2968.3 1448.8,2967.6 1450.7,2967.7 1452.6,2968.0 1454.5,2968.7 1456.4,2969.1 1458.2,2968.6 1460.1,2969.0 1462.0,2968.5 1463.9,2969.4 1465.8,2969.4 1467.8,2969.5 1469.7,2969.0 1471.7,2968.8 1473.8,2969.0 1475.8,2969.3 1477.9,2969.2 1480.1,2969.3 1482.3,2969.9 1484.6,2969.8 1486.9,2970.0 1489.3,2970.1 1490.9,2969.7 1492.5,2970.0 1494.2,2970.0 1495.9,2970.3 1497.6,2970.0 1499.3,2970.4 1501.0,2969.9 1502.8,2970.4 1504.5,2970.2 1506.3,2969.8 1508.1,2969.7 1510.0,2970.1 1511.8,2970.1 1513.7,2970.8 1515.5,2970.2 1517.4,2971.0 1519.3,2971.0 1521.3,2970.5 1523.2,2970.8 1525.2,2970.9 1527.1,2971.2 1529.1,2970.3 1531.1,2970.8 1533.1,2970.2 1535.1,2971.1 1537.2,2970.5 1539.2,2970.1 1541.3,2970.6 1543.3,2970.9 1545.4,2971.2 1547.5,2971.1 1549.6,2970.5 1551.7,2970.7 1553.8,2970.7 1556.0,2971.3 1558.1,2971.3 1560.3,2971.3 1562.4,2970.9 1564.6,2971.4 1566.8,2970.2 1568.9,2970.6 1571.1,2971.0 1573.3,2971.5 1575.5,2970.4 1577.7,2971.5 1579.9,2971.1 1582.1,2970.9 1584.4,2970.6 1586.6,2971.2 1588.8,2970.7 1591.0,2971.0 1593.3,2971.2 1595.5,2970.7 1597.8,2971.2 1600.0,2970.9 1601.8,2971.2 1603.6,2971.3 1605.4,2970.7 1607.2,2971.4 1609.0,2970.6 1610.9,2971.3 1612.7,2970.5 1614.6,2970.7 1616.4,2971.5 1618.3,2971.2 1620.2,2971.3 1622.1,2970.8 1624.0,2971.1 1625.9,2971.0 1627.8,2971.3 1629.7,2971.6 1631.7,2970.8 1633.6,2971.5 1635.6,2971.0 1637.5,2970.6 1639.5,2970.9 1641.4,2970.7 1643.4,2971.6 1645.4,2971.7 1647.4,2971.5 1649.4,2971.6 1651.4,2970.7 1653.4,2970.7 1655.4,2970.7 1657.4,2970.9 1659.4,2970.8 1661.4,2971.6 1663.5,2970.7 1665.5,2971.1 1667.5,2971.6 1669.6,2971.1 1671.6,2971.8 1673.7,2970.8 1675.7,2971.3 1677.8,2971.2 1679.8,2970.9 1681.9,2971.1 1684.0,2971.5 1686.0,2971.0 1688.1,2971.0 1690.2,2971.7 1692.3,2971.8 1694.3,2971.6 1696.4,2971.0 1698.5,2971.0 1700.6,2970.9 1702.7,2971.4 1704.8,2971.3 1706.8,2971.0 1708.9,2971.6 1711.0,2971.6 1713.1,2971.3 1715.2,2971.5 1717.3,2971.7 1719.4,2971.3 1721.5,2971.1 1723.5,2970.8 1725.6,2970.8 1727.7,2971.4 1729.8,2971.5 1731.9,2971.4 1734.0,2971.1 1736.0,2971.6 1738.1,2971.7 1740.2,2971.8 1742.3,2970.9 1744.3,2970.9 1746.4,2971.1 1748.5,2971.9 1750.5,2970.9 1752.6,2971.3 1754.7,2971.7 1756.7,2971.6 1758.8,2971.6 1760.8,2971.5 1762.8,2970.8 1764.9,2971.3 1766.9,2971.0 1768.9,2971.4 1771.0,2971.7 1773.0,2971.3 1775.0,2971.6" fill="none" stroke="#000000" stroke-width="4.3" stroke-linejoin="round" stroke-linecap="round"/>
<line x1="573.5" y1="416.4" x2="573.5" y2="1410" stroke="#000" stroke-width="4.2" stroke-linecap="butt" stroke-dasharray="22 24.2" stroke-dashoffset="0"/>
<line x1="1202.5" y1="147.7" x2="1202.5" y2="1410" stroke="#000" stroke-width="4.2" stroke-linecap="butt" stroke-dasharray="22 24.2" stroke-dashoffset="7.7"/>
<line x1="1620.5" y1="106.4" x2="1620.5" y2="1410" stroke="#000" stroke-width="4.2" stroke-linecap="butt" stroke-dasharray="22 24.2" stroke-dashoffset="13.2"/>
<line x1="532" y1="222" x2="532" y2="1408" stroke="#ff0000" stroke-width="10" stroke-linecap="butt" stroke-dasharray="19.5 10.25" stroke-dashoffset="29.0"/>
<line x1="799" y1="222" x2="799" y2="1408" stroke="#ff0000" stroke-width="10" stroke-linecap="butt" stroke-dasharray="19.5 10.25" stroke-dashoffset="29.0"/>
<line x1="527" y1="227" x2="804" y2="227" stroke="#ff0000" stroke-width="10" stroke-linecap="butt" stroke-dasharray="20 10.7" stroke-dashoffset="8.7"/>
<line x1="174.5" y1="83" x2="174.5" y2="1412" stroke="#000" stroke-width="5.6" stroke-linecap="butt"/>
<line x1="172.0" y1="1410" x2="1818" y2="1410" stroke="#000" stroke-width="4.5" stroke-linecap="butt"/>
<line x1="174.0" y1="1410" x2="174.0" y2="1436" stroke="#000" stroke-width="4.5" stroke-linecap="butt"/>
<text x="174.0" y="1521" font-size="89.8" fill="#000" text-anchor="middle" >4000</text>
<line x1="288.1" y1="1410" x2="288.1" y2="1424" stroke="#000" stroke-width="4.5" stroke-linecap="butt"/>
<line x1="402.2" y1="1410" x2="402.2" y2="1436" stroke="#000" stroke-width="4.5" stroke-linecap="butt"/>
<text x="402.2" y="1521" font-size="89.8" fill="#000" text-anchor="middle" >3500</text>
<line x1="516.3" y1="1410" x2="516.3" y2="1424" stroke="#000" stroke-width="4.5" stroke-linecap="butt"/>
<line x1="630.4" y1="1410" x2="630.4" y2="1436" stroke="#000" stroke-width="4.5" stroke-linecap="butt"/>
<text x="630.4" y="1521" font-size="89.8" fill="#000" text-anchor="middle" >3000</text>
<line x1="744.5" y1="1410" x2="744.5" y2="1424" stroke="#000" stroke-width="4.5" stroke-linecap="butt"/>
<line x1="858.5999999999999" y1="1410" x2="858.5999999999999" y2="1436" stroke="#000" stroke-width="4.5" stroke-linecap="butt"/>
<text x="858.6" y="1521" font-size="89.8" fill="#000" text-anchor="middle" >2500</text>
<line x1="972.6999999999999" y1="1410" x2="972.6999999999999" y2="1424" stroke="#000" stroke-width="4.5" stroke-linecap="butt"/>
<line x1="1086.8" y1="1410" x2="1086.8" y2="1436" stroke="#000" stroke-width="4.5" stroke-linecap="butt"/>
<text x="1086.8" y="1521" font-size="89.8" fill="#000" text-anchor="middle" >2000</text>
<line x1="1200.8999999999999" y1="1410" x2="1200.8999999999999" y2="1424" stroke="#000" stroke-width="4.5" stroke-linecap="butt"/>
<line x1="1315.0" y1="1410" x2="1315.0" y2="1436" stroke="#000" stroke-width="4.5" stroke-linecap="butt"/>
<text x="1315.0" y="1521" font-size="89.8" fill="#000" text-anchor="middle" >1500</text>
<line x1="1429.1" y1="1410" x2="1429.1" y2="1424" stroke="#000" stroke-width="4.5" stroke-linecap="butt"/>
<line x1="1543.1999999999998" y1="1410" x2="1543.1999999999998" y2="1436" stroke="#000" stroke-width="4.5" stroke-linecap="butt"/>
<text x="1543.2" y="1521" font-size="89.8" fill="#000" text-anchor="middle" >1000</text>
<line x1="1657.3" y1="1410" x2="1657.3" y2="1424" stroke="#000" stroke-width="4.5" stroke-linecap="butt"/>
<line x1="1771.3999999999999" y1="1410" x2="1771.3999999999999" y2="1436" stroke="#000" stroke-width="4.5" stroke-linecap="butt"/>
<text x="1771.4" y="1521" font-size="89.8" fill="#000" text-anchor="middle" >500</text>
<line x1="1113.4" y1="253.3" x2="1185.6" y2="231.9" stroke="#000" stroke-width="4" stroke-linecap="butt"/>
<line x1="1096.4" y1="395" x2="1149.9" y2="447.7" stroke="#000" stroke-width="4" stroke-linecap="butt"/>
<line x1="1481.8" y1="225.1" x2="1512.7" y2="294" stroke="#000" stroke-width="4" stroke-linecap="butt"/>
<line x1="1684.7" y1="214.1" x2="1629.4" y2="247.1" stroke="#000" stroke-width="4" stroke-linecap="butt"/>
<line x1="1136.1" y1="1117.6" x2="1188.6" y2="1169" stroke="#000" stroke-width="4" stroke-linecap="butt"/>
<line x1="1414.1" y1="1077.2" x2="1447.6" y2="1144.1" stroke="#000" stroke-width="4" stroke-linecap="butt"/>
<line x1="1675.6" y1="1037.6" x2="1518.7" y2="987.2" stroke="#000" stroke-width="4" stroke-linecap="butt"/>
<line x1="1674.1" y1="1097.9" x2="1535.4" y2="1160.8" stroke="#000" stroke-width="4" stroke-linecap="butt"/>
<line x1="1683" y1="1154.5" x2="1602.8" y2="1254.2" stroke="#000" stroke-width="4" stroke-linecap="butt"/>
<text x="44" y="118.5" font-size="100" fill="#000" text-anchor="start" >(a)</text>
<text x="527.2" y="193" font-size="79.4" fill="#000" text-anchor="start" >Fig. 2(b)</text>
<rect x="445" y="332" width="252" height="72" fill="#fff"/>
<text x="448.5" y="395.5" font-size="62.5" fill="#000"><tspan>3120 cm</tspan><tspan font-size="35.5" dy="-31">-1</tspan></text>
<text x="1079.6" y="132" font-size="62.2" fill="#000"><tspan>1746 cm</tspan><tspan font-size="35.5" dy="-31">-1</tspan></text>
<text x="1513.9" y="94" font-size="62.2" fill="#000"><tspan>830 cm</tspan><tspan font-size="35.5" dy="-31">-1</tspan></text>
<text x="989.7" y="276" font-size="60" fill="#000" text-anchor="start" >C=O</text>
<text x="981.7" y="392" font-size="60" fill="#000" text-anchor="start" >C=O</text>
<text x="1322" y="221" font-size="60" fill="#000" text-anchor="start" >C-O-C</text>
<text x="1685" y="235" font-size="60.8" fill="#000" text-anchor="start" >C=C</text>
<rect x="184" y="468" width="270" height="56" fill="#fff"/>
<text x="186" y="516" font-size="62" fill="#000" text-anchor="start" >Neat MAh</text>
<rect x="184" y="911" width="356" height="79" fill="#fff"/>
<text x="186" y="973.5" font-size="59.5" fill="#0000ff" text-anchor="start" >PLA-g-SAh50</text>
<text x="184.6" y="1322" font-size="62.2" fill="#000" text-anchor="start" >Neat PLA</text>
<text x="1015.2" y="1117" font-size="63.8" fill="#000" text-anchor="start" >C=O</text>
<text x="1243.4" y="1067" font-size="62.8" fill="#000" text-anchor="start" >C-O-C</text>
<text x="1680" y="1056" font-size="59.2" fill="#000" text-anchor="start" >C-OH</text>
<text x="1680.1" y="1111" font-size="57.7" fill="#000" text-anchor="start" >-CH</text>
<text x="1685.6" y="1175" font-size="60.7" fill="#000" text-anchor="start" >C-C</text>
<text x="0" y="0" font-size="94.7" transform="translate(119,1013) rotate(-90)">Absorbance</text>
<text x="624.7" y="1649.5" font-size="94.1" fill="#000"><tspan>Wavenumber (cm</tspan><tspan font-size="53" dy="-46.5">-1</tspan><tspan font-size="94.1" dy="46.5">)</tspan></text>
<line x1="431.7" y1="1739.7" x2="431.7" y2="2997.5" stroke="#000" stroke-width="3.3" stroke-linecap="butt" stroke-dasharray="22 22.75" stroke-dashoffset="18.55"/>
<line x1="1299.3" y1="2034.3" x2="1299.3" y2="2997.5" stroke="#000" stroke-width="3.3" stroke-linecap="butt" stroke-dasharray="22 22.75" stroke-dashoffset="0"/>
<line x1="180.3" y1="1710" x2="180.3" y2="2999.5" stroke="#000" stroke-width="5.4" stroke-linecap="butt"/>
<line x1="177.8" y1="2997.5" x2="1777" y2="2997.5" stroke="#000" stroke-width="4.5" stroke-linecap="butt"/>
<line x1="180.0" y1="2997.5" x2="180.0" y2="3022.5" stroke="#000" stroke-width="4.5" stroke-linecap="butt"/>
<text x="180.0" y="3105" font-size="85" fill="#000" text-anchor="middle" >3200</text>
<line x1="339.5" y1="2997.5" x2="339.5" y2="3011.5" stroke="#000" stroke-width="4.5" stroke-linecap="butt"/>
<line x1="499.0" y1="2997.5" x2="499.0" y2="3022.5" stroke="#000" stroke-width="4.5" stroke-linecap="butt"/>
<text x="499.0" y="3105" font-size="85" fill="#000" text-anchor="middle" >3100</text>
<line x1="658.5" y1="2997.5" x2="658.5" y2="3011.5" stroke="#000" stroke-width="4.5" stroke-linecap="butt"/>
<line x1="818.0" y1="2997.5" x2="818.0" y2="3022.5" stroke="#000" stroke-width="4.5" stroke-linecap="butt"/>
<text x="818.0" y="3105" font-size="85" fill="#000" text-anchor="middle" >3000</text>
<line x1="977.5" y1="2997.5" x2="977.5" y2="3011.5" stroke="#000" stroke-width="4.5" stroke-linecap="butt"/>
<line x1="1137.0" y1="2997.5" x2="1137.0" y2="3022.5" stroke="#000" stroke-width="4.5" stroke-linecap="butt"/>
<text x="1137.0" y="3105" font-size="85" fill="#000" text-anchor="middle" >2900</text>
<line x1="1296.5" y1="2997.5" x2="1296.5" y2="3011.5" stroke="#000" stroke-width="4.5" stroke-linecap="butt"/>
<line x1="1456.0" y1="2997.5" x2="1456.0" y2="3022.5" stroke="#000" stroke-width="4.5" stroke-linecap="butt"/>
<text x="1456.0" y="3105" font-size="85" fill="#000" text-anchor="middle" >2800</text>
<line x1="1615.5" y1="2997.5" x2="1615.5" y2="3011.5" stroke="#000" stroke-width="4.5" stroke-linecap="butt"/>
<line x1="1775.0" y1="2997.5" x2="1775.0" y2="3022.5" stroke="#000" stroke-width="4.5" stroke-linecap="butt"/>
<text x="1775.0" y="3105" font-size="85" fill="#000" text-anchor="middle" >2700</text>
<line x1="1191.7" y1="2620.2" x2="1292" y2="2705" stroke="#000" stroke-width="3.5" stroke-linecap="butt"/>
<text x="43.2" y="1755" font-size="99" fill="#000" text-anchor="start" >(b)</text>
<text x="310.6" y="1728" font-size="60.2" fill="#000"><tspan>3120 cm</tspan><tspan font-size="34.5" dy="-30">-1</tspan></text>
<text x="1178.2" y="2010" font-size="60.9" fill="#000"><tspan>2850 cm</tspan><tspan font-size="34.5" dy="-30">-1</tspan></text>
<text x="1513.8" y="2082.5" font-size="59.9" fill="#000" text-anchor="start" >Neat MAh</text>
<text x="1396" y="2301.8" font-size="60.2" fill="#ff0000" text-anchor="start" >PLA-g-SAh75</text>
<text x="1397.7" y="2550.3" font-size="60.4" fill="#0000ff" text-anchor="start" >PLA-g-SAh50</text>
<text x="1397.7" y="2674.8" font-size="60.1" fill="#333333" text-anchor="start" >PLA-g-SAh25</text>
<text x="1397.7" y="2851.5" font-size="60.4" fill="#008000" text-anchor="start" >PLA-g-SAh10</text>
<text x="1526.1" y="2947.3" font-size="59.8" fill="#000" text-anchor="start" >Neat PLA</text>
<text x="957.8" y="2612.5" font-size="60.9" fill="#000"><tspan>C-H (sp</tspan><tspan font-size="34.5" dy="-30">3</tspan><tspan font-size="60.9" dy="30">)</tspan></text>
<text x="0" y="0" font-size="90.6" transform="translate(115.5,2608) rotate(-90)">Absorbance</text>
<text x="614.9" y="3231" font-size="92" fill="#000"><tspan>Wavenumber (cm</tspan><tspan font-size="52" dy="-45.5">-1</tspan><tspan font-size="92" dy="45.5">)</tspan></text>
</svg>
</body></html>
